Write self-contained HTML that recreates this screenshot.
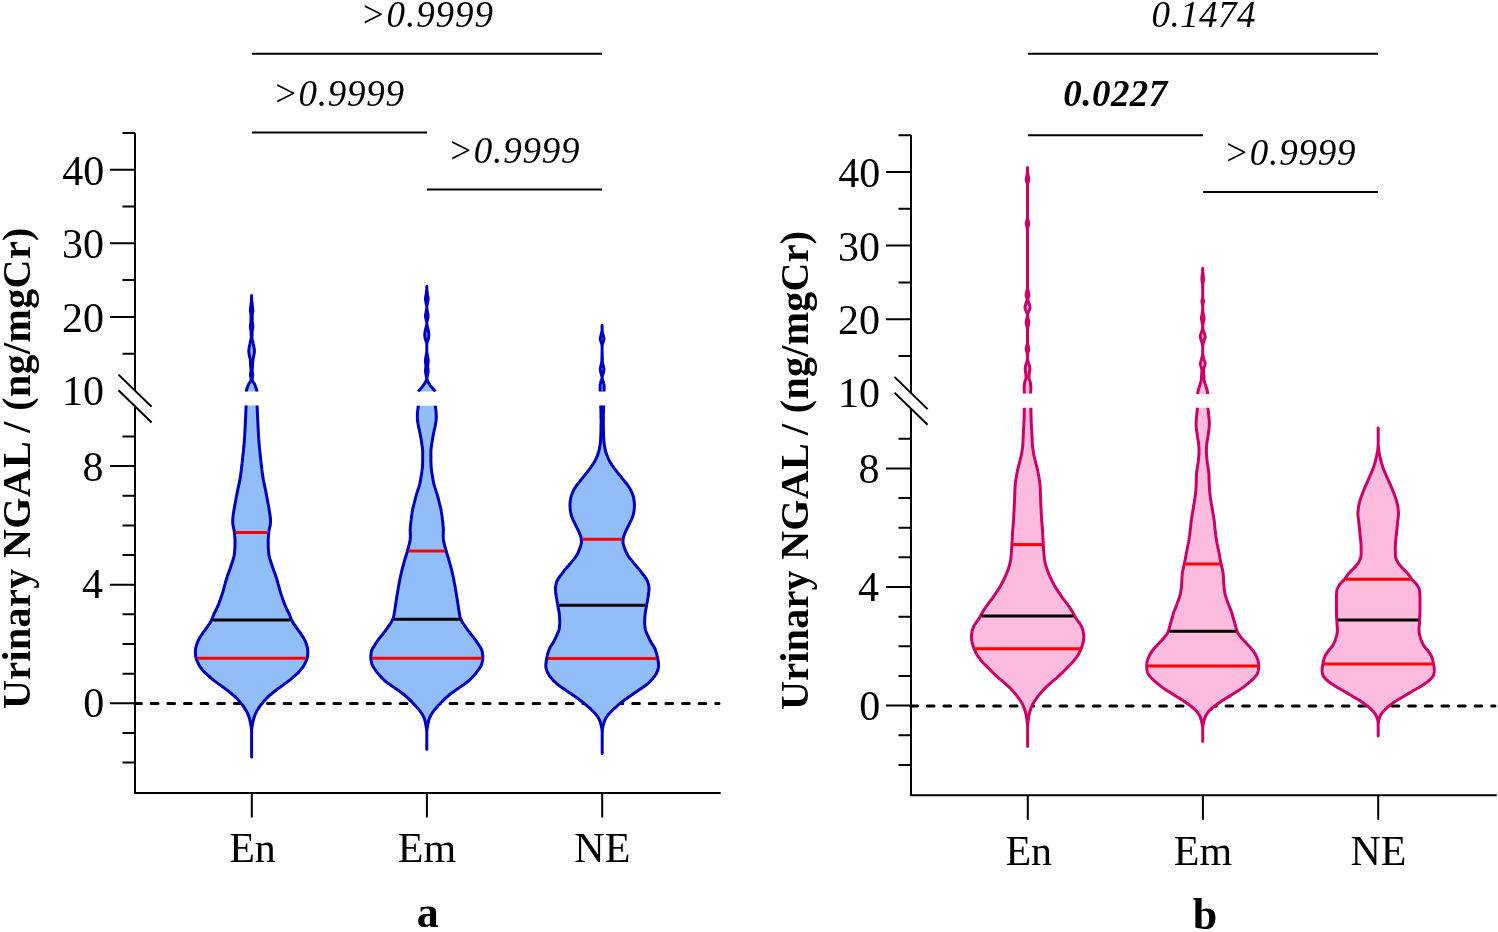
<!DOCTYPE html>
<html><head><meta charset="utf-8"><title>NGAL violin plots</title>
<style>
html,body{margin:0;padding:0;background:#fff;}
body{width:1498px;height:932px;overflow:hidden;}
svg{display:block;will-change:transform;}
text{font-family:"Liberation Serif",serif;fill:#000;}
.tl{font-size:42px;}
.xl{font-size:42px;}
.pv{font-size:37px;font-style:italic;}
.b{font-weight:bold;}
.pl{font-size:44px;font-weight:bold;}
.yt{font-size:40px;font-weight:bold;}
</style></head>
<body>
<svg width="1498" height="932" viewBox="0 0 1498 932">
<rect width="1498" height="932" fill="#fff"/>
<path d="M135,132.9 L135,390.8 M135,406.5 L135,792.9 L720.7,792.9" stroke="#000" stroke-width="2" stroke-linejoin="round" fill="none"/>
<path d="M118.5,374.6 L151.6,406.8 M118.5,390.3 L151.6,422.5" stroke="#000" stroke-width="2" fill="none"/>
<path d="M110,316.9 L135,316.9 M110,243.3 L135,243.3 M110,169.7 L135,169.7 M122.5,353.7 L135,353.7 M122.5,280.1 L135,280.1 M122.5,206.5 L135,206.5 M122.5,132.9 L135,132.9 M110,703.3 L135,703.3 M110,584.7 L135,584.7 M110,466.1 L135,466.1 M122.5,762.6 L135,762.6 M122.5,732.95 L135,732.95 M122.5,673.65 L135,673.65 M122.5,644 L135,644 M122.5,614.35 L135,614.35 M122.5,555.05 L135,555.05 M122.5,525.4 L135,525.4 M122.5,495.75 L135,495.75 M122.5,436.45 L135,436.45" stroke="#000" stroke-width="2" fill="none"/>
<path d="M251.8,792.9 L251.8,817.5 M426.9,792.9 L426.9,817.5 M602.2,792.9 L602.2,817.5" stroke="#000" stroke-width="2" fill="none"/>
<path d="M134.7,703.6 L719,703.6" stroke="#000" stroke-width="3" stroke-dasharray="6.7 9.9" stroke-linecap="round" fill="none"/>
<path d="M911,135.2 L911,393.1 M911,408.8 L911,795.2 L1496.7,795.2" stroke="#000" stroke-width="2" stroke-linejoin="round" fill="none"/>
<path d="M894.5,376.9 L927.6,409.1 M894.5,392.6 L927.6,424.8" stroke="#000" stroke-width="2" fill="none"/>
<path d="M886,319.2 L911,319.2 M886,245.6 L911,245.6 M886,172 L911,172 M898.5,356 L911,356 M898.5,282.4 L911,282.4 M898.5,208.8 L911,208.8 M898.5,135.2 L911,135.2 M886,705.6 L911,705.6 M886,587 L911,587 M886,468.4 L911,468.4 M898.5,764.9 L911,764.9 M898.5,735.25 L911,735.25 M898.5,675.95 L911,675.95 M898.5,646.3 L911,646.3 M898.5,616.65 L911,616.65 M898.5,557.35 L911,557.35 M898.5,527.7 L911,527.7 M898.5,498.05 L911,498.05 M898.5,438.75 L911,438.75" stroke="#000" stroke-width="2" fill="none"/>
<path d="M1027.8,795.2 L1027.8,819.8 M1202.9,795.2 L1202.9,819.8 M1378.2,795.2 L1378.2,819.8" stroke="#000" stroke-width="2" fill="none"/>
<path d="M910.7,705.9 L1495,705.9" stroke="#000" stroke-width="3" stroke-dasharray="6.7 9.9" stroke-linecap="round" fill="none"/>
<path d="M246.1,405.6 C246.1,405.9 246,406.9 246,407.6 C246,408.3 246,408.9 245.9,409.6 C245.9,410.3 245.9,410.9 245.9,411.6 C245.8,412.3 245.8,412.9 245.8,413.6 C245.7,414.3 245.7,414.9 245.7,415.6 C245.7,416.3 245.6,416.9 245.6,417.6 C245.6,418.3 245.5,418.9 245.5,419.6 C245.5,420.3 245.4,421 245.4,421.6 C245.4,422.3 245.3,423 245.3,423.6 C245.3,424.3 245.2,425 245.2,425.6 C245.2,426.3 245.1,427 245.1,427.6 C245.1,428.3 245,429 245,429.6 C245,430.3 244.9,431 244.9,431.6 C244.9,432.3 244.8,433 244.8,433.6 C244.8,434.3 244.7,435 244.7,435.6 C244.6,436.3 244.6,437 244.6,437.6 C244.5,438.3 244.5,439 244.4,439.6 C244.4,440.3 244.3,441 244.3,441.6 C244.2,442.3 244.1,443 244.1,443.6 C244,444.3 244,445 243.9,445.6 C243.8,446.3 243.8,447 243.7,447.7 C243.6,448.3 243.6,449 243.5,449.7 C243.4,450.3 243.4,451 243.3,451.7 C243.2,452.3 243.1,453 243.1,453.7 C243,454.3 242.9,455 242.9,455.7 C242.8,456.3 242.7,457 242.7,457.7 C242.6,458.3 242.5,459 242.4,459.7 C242.4,460.3 242.3,461 242.2,461.7 C242.1,462.3 242.1,463 242,463.7 C241.9,464.3 241.8,465 241.8,465.7 C241.7,466.3 241.6,467 241.5,467.7 C241.5,468.3 241.4,469 241.3,469.7 C241.2,470.3 241.1,471 241.1,471.7 C241,472.3 240.9,473 240.8,473.7 C240.7,474.4 240.6,475 240.5,475.7 C240.4,476.4 240.3,477 240.2,477.7 C240.1,478.4 240,479 239.9,479.7 C239.8,480.4 239.6,481 239.5,481.7 C239.4,482.4 239.2,483 239.1,483.7 C238.9,484.4 238.8,485 238.6,485.7 C238.5,486.4 238.4,487 238.2,487.7 C238.1,488.4 237.9,489 237.8,489.7 C237.7,490.4 237.5,491 237.4,491.7 C237.3,492.4 237.1,493 237,493.7 C236.9,494.4 236.7,495 236.6,495.7 C236.5,496.4 236.3,497 236.2,497.7 C236.1,498.4 236,499 235.8,499.7 C235.7,500.4 235.6,501.1 235.5,501.7 C235.3,502.4 235.2,503.1 235.1,503.7 C235,504.4 234.8,505.1 234.7,505.7 C234.6,506.4 234.5,507.1 234.4,507.7 C234.2,508.4 234.1,509.1 234,509.7 C233.9,510.4 233.8,511.1 233.7,511.7 C233.6,512.4 233.5,513.1 233.4,513.7 C233.3,514.4 233.2,515.1 233.1,515.7 C233,516.4 232.9,517.1 232.9,517.7 C232.8,518.4 232.8,519.1 232.7,519.7 C232.7,520.4 232.7,521.1 232.7,521.7 C232.7,522.4 232.7,523.1 232.8,523.7 C232.9,524.4 233,525.1 233.1,525.7 C233.2,526.4 233.4,527.1 233.5,527.8 C233.7,528.4 233.8,529.1 234,529.8 C234.1,530.4 234.2,531.1 234.3,531.8 C234.4,532.4 234.5,533.1 234.5,533.8 C234.6,534.4 234.7,535.1 234.7,535.8 C234.8,536.4 234.8,537.1 234.9,537.8 C234.9,538.4 234.9,539.1 235,539.8 C235,540.4 235,541.1 235,541.8 C235,542.4 235,543.1 235,543.8 C235,544.4 235,545.1 235,545.8 C235,546.4 234.9,547.1 234.9,547.8 C234.8,548.4 234.8,549.1 234.8,549.8 C234.7,550.4 234.6,551.1 234.6,551.8 C234.5,552.4 234.5,553.1 234.4,553.8 C234.3,554.5 234.2,555.1 234.1,555.8 C233.9,556.5 233.8,557.1 233.6,557.8 C233.4,558.5 233.2,559.1 233,559.8 C232.8,560.5 232.6,561.1 232.4,561.8 C232.1,562.5 231.9,563.1 231.7,563.8 C231.5,564.5 231.2,565.1 231,565.8 C230.8,566.5 230.6,567.1 230.4,567.8 C230.2,568.5 229.9,569.1 229.7,569.8 C229.5,570.5 229.2,571.1 229,571.8 C228.7,572.5 228.5,573.1 228.2,573.8 C228,574.5 227.7,575.1 227.5,575.8 C227.3,576.5 227,577.1 226.8,577.8 C226.6,578.5 226.4,579.1 226.2,579.8 C226,580.5 225.8,581.1 225.6,581.8 C225.4,582.5 225.2,583.2 225.1,583.8 C224.9,584.5 224.7,585.2 224.5,585.8 C224.4,586.5 224.2,587.2 224,587.8 C223.9,588.5 223.7,589.2 223.5,589.8 C223.3,590.5 223.1,591.2 222.9,591.8 C222.7,592.5 222.5,593.2 222.3,593.8 C222.1,594.5 221.8,595.2 221.6,595.8 C221.4,596.5 221.1,597.2 220.9,597.8 C220.7,598.5 220.4,599.2 220.2,599.8 C219.9,600.5 219.7,601.2 219.4,601.8 C219.2,602.5 218.9,603.2 218.7,603.8 C218.4,604.5 218.2,605.2 217.9,605.8 C217.6,606.5 217.3,607.2 217,607.8 C216.7,608.5 216.4,609.2 216.1,609.9 C215.7,610.5 215.3,611.2 215,611.9 C214.7,612.5 214.3,613.2 214,613.9 C213.7,614.5 213.4,615.2 213.2,615.9 C212.9,616.5 212.7,617.2 212.5,617.9 C212.2,618.5 212,619.2 211.7,619.9 C211.4,620.5 211,621.2 210.6,621.9 C210.2,622.5 209.8,623.2 209.4,623.9 C209,624.5 208.5,625.2 208,625.9 C207.6,626.5 207.1,627.2 206.6,627.9 C206.1,628.5 205.6,629.2 205.2,629.9 C204.7,630.5 204.2,631.2 203.7,631.9 C203.3,632.5 202.8,633.2 202.3,633.9 C201.8,634.5 201.4,635.2 200.9,635.9 C200.5,636.6 200.1,637.2 199.7,637.9 C199.3,638.6 199,639.2 198.6,639.9 C198.3,640.6 197.9,641.2 197.6,641.9 C197.4,642.6 197.1,643.2 196.9,643.9 C196.7,644.6 196.5,645.2 196.3,645.9 C196.1,646.6 195.9,647.2 195.8,647.9 C195.6,648.6 195.5,649.2 195.5,649.9 C195.4,650.6 195.4,651.2 195.4,651.9 C195.4,652.6 195.4,653.2 195.4,653.9 C195.5,654.6 195.5,655.2 195.6,655.9 C195.7,656.6 195.9,657.2 196,657.9 C196.2,658.6 196.4,659.2 196.6,659.9 C196.9,660.6 197.2,661.2 197.5,661.9 C197.8,662.6 198.1,663.3 198.5,663.9 C198.8,664.6 199.1,665.3 199.6,665.9 C200,666.6 200.4,667.3 200.9,667.9 C201.4,668.6 201.9,669.3 202.5,669.9 C203,670.6 203.6,671.3 204.3,671.9 C204.9,672.6 205.6,673.3 206.4,673.9 C207.1,674.6 207.8,675.3 208.6,675.9 C209.3,676.6 210.1,677.3 210.8,677.9 C211.6,678.6 212.4,679.3 213.3,679.9 C214.1,680.6 215,681.3 215.8,681.9 C216.7,682.6 217.7,683.3 218.6,683.9 C219.5,684.6 220.5,685.3 221.4,685.9 C222.4,686.6 223.3,687.3 224.2,687.9 C225.1,688.6 226,689.3 226.9,690 C227.8,690.6 228.7,691.3 229.5,692 C230.3,692.6 231.1,693.3 231.9,694 C232.7,694.6 233.5,695.3 234.2,696 C234.9,696.6 235.6,697.3 236.3,698 C236.9,698.6 237.6,699.3 238.2,700 C238.8,700.6 239.4,701.3 239.9,702 C240.5,702.6 241,703.3 241.6,704 C242.1,704.6 242.6,705.3 243.1,706 C243.6,706.6 244.1,707.3 244.5,708 C245,708.6 245.4,709.3 245.8,710 C246.2,710.6 246.5,711.3 246.9,712 C247.2,712.6 247.6,713.3 247.9,714 C248.1,714.6 248.4,715.3 248.6,716 C248.8,716.7 249.1,717.3 249.3,718 C249.5,718.7 249.6,719.3 249.8,720 C250,720.7 250.1,721.3 250.3,722 C250.4,722.7 250.5,723.3 250.7,724 C250.8,724.7 250.9,725.3 251,726 C251.1,726.7 251.3,727.3 251.3,728 C251.4,728.7 251.6,729.7 251.6,730 L251.6,730 C251.6,729.7 251.8,728.7 251.9,728 C251.9,727.3 252.1,726.7 252.2,726 C252.3,725.3 252.4,724.7 252.5,724 C252.7,723.3 252.8,722.7 252.9,722 C253.1,721.3 253.2,720.7 253.4,720 C253.6,719.3 253.7,718.7 253.9,718 C254.1,717.3 254.4,716.7 254.6,716 C254.8,715.3 255.1,714.6 255.3,714 C255.6,713.3 256,712.6 256.3,712 C256.7,711.3 257,710.6 257.4,710 C257.8,709.3 258.2,708.6 258.7,708 C259.1,707.3 259.6,706.6 260.1,706 C260.6,705.3 261.1,704.6 261.6,704 C262.2,703.3 262.7,702.6 263.3,702 C263.8,701.3 264.4,700.6 265,700 C265.6,699.3 266.3,698.6 266.9,698 C267.6,697.3 268.3,696.6 269,696 C269.7,695.3 270.5,694.6 271.3,694 C272.1,693.3 272.9,692.6 273.7,692 C274.5,691.3 275.4,690.6 276.3,690 C277.2,689.3 278.1,688.6 279,687.9 C279.9,687.3 280.8,686.6 281.8,685.9 C282.7,685.3 283.7,684.6 284.6,683.9 C285.5,683.3 286.5,682.6 287.4,681.9 C288.2,681.3 289.1,680.6 289.9,679.9 C290.8,679.3 291.6,678.6 292.4,677.9 C293.1,677.3 293.9,676.6 294.6,675.9 C295.4,675.3 296.1,674.6 296.8,673.9 C297.6,673.3 298.3,672.6 298.9,671.9 C299.6,671.3 300.2,670.6 300.7,669.9 C301.3,669.3 301.8,668.6 302.3,667.9 C302.8,667.3 303.2,666.6 303.6,665.9 C304.1,665.3 304.4,664.6 304.7,663.9 C305.1,663.3 305.4,662.6 305.7,661.9 C306,661.2 306.3,660.6 306.6,659.9 C306.8,659.2 307,658.6 307.2,657.9 C307.3,657.2 307.5,656.6 307.6,655.9 C307.7,655.2 307.7,654.6 307.8,653.9 C307.8,653.2 307.8,652.6 307.8,651.9 C307.8,651.2 307.8,650.6 307.7,649.9 C307.7,649.2 307.6,648.6 307.4,647.9 C307.3,647.2 307.1,646.6 306.9,645.9 C306.7,645.2 306.5,644.6 306.3,643.9 C306.1,643.2 305.8,642.6 305.6,641.9 C305.3,641.2 304.9,640.6 304.6,639.9 C304.2,639.2 303.9,638.6 303.5,637.9 C303.1,637.2 302.7,636.6 302.3,635.9 C301.8,635.2 301.4,634.5 300.9,633.9 C300.4,633.2 299.9,632.5 299.5,631.9 C299,631.2 298.5,630.5 298,629.9 C297.6,629.2 297.1,628.5 296.6,627.9 C296.1,627.2 295.6,626.5 295.2,625.9 C294.7,625.2 294.2,624.5 293.8,623.9 C293.4,623.2 293,622.5 292.6,621.9 C292.2,621.2 291.8,620.5 291.5,619.9 C291.2,619.2 291,618.5 290.7,617.9 C290.5,617.2 290.3,616.5 290,615.9 C289.8,615.2 289.5,614.5 289.2,613.9 C288.9,613.2 288.5,612.5 288.2,611.9 C287.9,611.2 287.5,610.5 287.1,609.9 C286.8,609.2 286.5,608.5 286.2,607.8 C285.9,607.2 285.6,606.5 285.3,605.8 C285,605.2 284.8,604.5 284.5,603.8 C284.3,603.2 284,602.5 283.8,601.8 C283.5,601.2 283.3,600.5 283,599.8 C282.8,599.2 282.5,598.5 282.3,597.8 C282.1,597.2 281.8,596.5 281.6,595.8 C281.4,595.2 281.1,594.5 280.9,593.8 C280.7,593.2 280.5,592.5 280.3,591.8 C280.1,591.2 279.9,590.5 279.7,589.8 C279.5,589.2 279.3,588.5 279.2,587.8 C279,587.2 278.8,586.5 278.7,585.8 C278.5,585.2 278.3,584.5 278.1,583.8 C278,583.2 277.8,582.5 277.6,581.8 C277.4,581.1 277.2,580.5 277,579.8 C276.8,579.1 276.6,578.5 276.4,577.8 C276.2,577.1 275.9,576.5 275.7,575.8 C275.5,575.1 275.2,574.5 275,573.8 C274.7,573.1 274.5,572.5 274.2,571.8 C274,571.1 273.7,570.5 273.5,569.8 C273.3,569.1 273,568.5 272.8,567.8 C272.6,567.1 272.4,566.5 272.2,565.8 C272,565.1 271.7,564.5 271.5,563.8 C271.3,563.1 271.1,562.5 270.8,561.8 C270.6,561.1 270.4,560.5 270.2,559.8 C270,559.1 269.8,558.5 269.6,557.8 C269.4,557.1 269.3,556.5 269.1,555.8 C269,555.1 268.9,554.5 268.8,553.8 C268.7,553.1 268.7,552.4 268.6,551.8 C268.6,551.1 268.5,550.4 268.4,549.8 C268.4,549.1 268.4,548.4 268.3,547.8 C268.3,547.1 268.2,546.4 268.2,545.8 C268.2,545.1 268.2,544.4 268.2,543.8 C268.2,543.1 268.2,542.4 268.2,541.8 C268.2,541.1 268.2,540.4 268.2,539.8 C268.3,539.1 268.3,538.4 268.3,537.8 C268.4,537.1 268.4,536.4 268.5,535.8 C268.5,535.1 268.6,534.4 268.7,533.8 C268.7,533.1 268.8,532.4 268.9,531.8 C269,531.1 269.1,530.4 269.2,529.8 C269.4,529.1 269.5,528.4 269.7,527.8 C269.8,527.1 270,526.4 270.1,525.7 C270.2,525.1 270.3,524.4 270.4,523.7 C270.5,523.1 270.5,522.4 270.5,521.7 C270.5,521.1 270.5,520.4 270.5,519.7 C270.4,519.1 270.4,518.4 270.3,517.7 C270.3,517.1 270.2,516.4 270.1,515.7 C270,515.1 269.9,514.4 269.8,513.7 C269.7,513.1 269.6,512.4 269.5,511.7 C269.4,511.1 269.3,510.4 269.2,509.7 C269.1,509.1 269,508.4 268.8,507.7 C268.7,507.1 268.6,506.4 268.5,505.7 C268.4,505.1 268.2,504.4 268.1,503.7 C268,503.1 267.9,502.4 267.7,501.7 C267.6,501.1 267.5,500.4 267.4,499.7 C267.2,499 267.1,498.4 267,497.7 C266.9,497 266.7,496.4 266.6,495.7 C266.5,495 266.3,494.4 266.2,493.7 C266.1,493 265.9,492.4 265.8,491.7 C265.7,491 265.5,490.4 265.4,489.7 C265.3,489 265.1,488.4 265,487.7 C264.8,487 264.7,486.4 264.6,485.7 C264.4,485 264.3,484.4 264.1,483.7 C264,483 263.8,482.4 263.7,481.7 C263.6,481 263.4,480.4 263.3,479.7 C263.2,479 263.1,478.4 263,477.7 C262.9,477 262.8,476.4 262.7,475.7 C262.6,475 262.5,474.4 262.4,473.7 C262.3,473 262.2,472.3 262.1,471.7 C262.1,471 262,470.3 261.9,469.7 C261.8,469 261.7,468.3 261.7,467.7 C261.6,467 261.5,466.3 261.4,465.7 C261.4,465 261.3,464.3 261.2,463.7 C261.1,463 261.1,462.3 261,461.7 C260.9,461 260.8,460.3 260.8,459.7 C260.7,459 260.6,458.3 260.5,457.7 C260.5,457 260.4,456.3 260.3,455.7 C260.3,455 260.2,454.3 260.1,453.7 C260.1,453 260,452.3 259.9,451.7 C259.8,451 259.8,450.3 259.7,449.7 C259.6,449 259.6,448.3 259.5,447.7 C259.4,447 259.4,446.3 259.3,445.6 C259.2,445 259.2,444.3 259.1,443.6 C259.1,443 259,442.3 258.9,441.6 C258.9,441 258.8,440.3 258.8,439.6 C258.7,439 258.7,438.3 258.6,437.6 C258.6,437 258.6,436.3 258.5,435.6 C258.5,435 258.4,434.3 258.4,433.6 C258.4,433 258.3,432.3 258.3,431.6 C258.3,431 258.2,430.3 258.2,429.6 C258.2,429 258.1,428.3 258.1,427.6 C258.1,427 258,426.3 258,425.6 C258,425 257.9,424.3 257.9,423.6 C257.9,423 257.8,422.3 257.8,421.6 C257.8,421 257.7,420.3 257.7,419.6 C257.7,418.9 257.6,418.3 257.6,417.6 C257.6,416.9 257.5,416.3 257.5,415.6 C257.5,414.9 257.5,414.3 257.4,413.6 C257.4,412.9 257.4,412.3 257.3,411.6 C257.3,410.9 257.3,410.3 257.3,409.6 C257.2,408.9 257.2,408.3 257.2,407.6 C257.2,406.9 257.1,405.9 257.1,405.6" fill="#91bef8" stroke="#0000c0" stroke-width="3" stroke-linejoin="round" stroke-linecap="butt"/>
<line x1="235.6" y1="532.4" x2="267.6" y2="532.4" stroke="#ff0000" stroke-width="3"/>
<line x1="212.85" y1="619.9" x2="290.35" y2="619.9" stroke="#000" stroke-width="3"/>
<line x1="197.3" y1="658.2" x2="305.9" y2="658.2" stroke="#ff0000" stroke-width="3"/>
<path d="M251.6,730 L251.6,757.1" fill="none" stroke="#0000c0" stroke-width="3" stroke-linecap="round"/>
<path d="M246.2,391.5 C246.2,391.3 246.3,390.8 246.4,390.5 C246.5,390.2 246.6,389.8 246.7,389.5 C246.8,389.2 246.9,388.8 247,388.5 C247.1,388.2 247.2,387.8 247.3,387.5 C247.5,387.2 247.6,386.8 247.7,386.5 C247.8,386.2 248,385.8 248.1,385.5 C248.2,385.2 248.3,384.8 248.5,384.5 C248.6,384.2 248.8,383.8 249,383.5 C249.2,383.2 249.5,382.8 249.7,382.5 C249.9,382.2 250.2,381.8 250.4,381.5 C250.6,381.2 250.8,380.8 250.9,380.5 C251,380.2 251.1,379.8 251.1,379.5 C251.1,379.2 251.1,378.8 251,378.5 C251,378.2 250.9,377.8 250.9,377.5 C250.8,377.2 250.7,376.8 250.6,376.5 C250.6,376.2 250.5,375.8 250.5,375.5 C250.4,375.2 250.4,374.9 250.5,374.5 C250.5,374.2 250.5,373.9 250.6,373.5 C250.6,373.2 250.7,372.9 250.7,372.5 C250.8,372.2 250.9,371.9 250.9,371.5 C250.9,371.2 251,370.9 251,370.5 C251,370.2 251,369.9 251,369.5 C251,369.2 251,368.9 250.9,368.5 C250.9,368.2 250.9,367.9 250.8,367.5 C250.8,367.2 250.8,366.9 250.7,366.5 C250.7,366.2 250.7,365.9 250.7,365.5 C250.6,365.2 250.6,364.9 250.6,364.5 C250.6,364.2 250.5,363.9 250.5,363.5 C250.5,363.2 250.5,362.9 250.5,362.5 C250.4,362.2 250.4,361.9 250.4,361.5 C250.4,361.2 250.3,360.9 250.3,360.5 C250.3,360.2 250.3,359.9 250.2,359.5 C250.2,359.2 250.1,358.9 250.1,358.5 C250,358.2 249.9,357.9 249.8,357.5 C249.8,357.2 249.7,356.9 249.6,356.5 C249.5,356.2 249.4,355.9 249.4,355.5 C249.3,355.2 249.3,354.9 249.2,354.5 C249.2,354.2 249.1,353.9 249,353.5 C249,353.2 248.9,352.9 248.9,352.5 C248.9,352.2 248.8,351.9 248.8,351.5 C248.8,351.2 248.8,350.9 248.8,350.5 C248.8,350.2 248.8,349.9 248.9,349.5 C248.9,349.2 248.9,348.9 249,348.5 C249.1,348.2 249.1,347.9 249.2,347.5 C249.2,347.2 249.3,346.9 249.4,346.5 C249.5,346.2 249.5,345.9 249.6,345.5 C249.7,345.2 249.8,344.9 249.8,344.5 C249.9,344.2 249.9,343.9 250,343.6 C250.1,343.2 250.1,342.9 250.2,342.6 C250.2,342.2 250.3,341.9 250.3,341.6 C250.4,341.2 250.4,340.9 250.5,340.6 C250.6,340.2 250.7,339.9 250.8,339.6 C250.9,339.2 251.1,338.9 251.2,338.6 C251.3,338.2 251.3,337.9 251.3,337.6 C251.3,337.2 251.3,336.9 251.3,336.6 C251.2,336.2 251.2,335.9 251.2,335.6 C251.2,335.2 251.2,334.9 251.2,334.6 C251.1,334.2 251.1,333.9 251.1,333.6 C251.1,333.2 251.1,332.9 251.1,332.6 C251,332.2 251,331.9 251,331.6 C251,331.2 250.9,330.9 250.9,330.6 C250.9,330.2 250.8,329.9 250.8,329.6 C250.7,329.2 250.6,328.9 250.6,328.6 C250.5,328.2 250.5,327.9 250.4,327.6 C250.4,327.2 250.4,326.9 250.4,326.6 C250.3,326.2 250.4,325.9 250.4,325.6 C250.4,325.2 250.5,324.9 250.5,324.6 C250.6,324.2 250.7,323.9 250.7,323.6 C250.8,323.2 250.9,322.9 250.9,322.6 C251,322.2 251,321.9 251,321.6 C251,321.2 251,320.9 251,320.6 C251,320.2 251,319.9 251,319.6 C251,319.2 251,318.9 251,318.6 C251,318.2 251,317.9 251,317.6 C251,317.2 251,316.9 251,316.6 C251,316.2 251,315.9 251,315.6 C250.9,315.2 250.9,314.9 250.9,314.6 C250.9,314.2 250.9,313.9 250.9,313.6 C250.8,313.2 250.7,312.9 250.7,312.6 C250.6,312.2 250.5,311.9 250.4,311.6 C250.4,311.3 250.4,310.9 250.4,310.6 C250.3,310.3 250.4,309.9 250.4,309.6 C250.4,309.3 250.5,308.9 250.5,308.6 C250.5,308.3 250.6,307.9 250.6,307.6 C250.7,307.3 250.7,306.9 250.8,306.6 C250.8,306.3 250.8,305.9 250.9,305.6 C250.9,305.3 251,304.9 251,304.6 C251,304.3 251.1,303.9 251.1,303.6 C251.2,303.3 251.2,302.9 251.2,302.6 C251.3,302.3 251.3,301.9 251.4,301.6 C251.4,301.3 251.4,300.9 251.5,300.6 C251.5,300.3 251.5,299.9 251.5,299.6 C251.5,299.3 251.6,298.9 251.6,298.6 C251.6,298.3 251.6,297.9 251.6,297.6 C251.6,297.3 251.6,296.9 251.6,296.6 C251.6,296.3 251.6,295.8 251.6,295.6 L251.6,295.6 C251.6,295.8 251.6,296.3 251.6,296.6 C251.6,296.9 251.6,297.3 251.6,297.6 C251.6,297.9 251.6,298.3 251.6,298.6 C251.6,298.9 251.7,299.3 251.7,299.6 C251.7,299.9 251.7,300.3 251.7,300.6 C251.8,300.9 251.8,301.3 251.8,301.6 C251.9,301.9 251.9,302.3 252,302.6 C252,302.9 252,303.3 252.1,303.6 C252.1,303.9 252.2,304.3 252.2,304.6 C252.2,304.9 252.3,305.3 252.3,305.6 C252.4,305.9 252.4,306.3 252.4,306.6 C252.5,306.9 252.5,307.3 252.6,307.6 C252.6,307.9 252.7,308.3 252.7,308.6 C252.7,308.9 252.8,309.3 252.8,309.6 C252.8,309.9 252.9,310.3 252.8,310.6 C252.8,310.9 252.8,311.3 252.8,311.6 C252.7,311.9 252.6,312.2 252.5,312.6 C252.5,312.9 252.4,313.2 252.3,313.6 C252.3,313.9 252.3,314.2 252.3,314.6 C252.3,314.9 252.3,315.2 252.2,315.6 C252.2,315.9 252.2,316.2 252.2,316.6 C252.2,316.9 252.2,317.2 252.2,317.6 C252.2,317.9 252.2,318.2 252.2,318.6 C252.2,318.9 252.2,319.2 252.2,319.6 C252.2,319.9 252.2,320.2 252.2,320.6 C252.2,320.9 252.2,321.2 252.2,321.6 C252.2,321.9 252.2,322.2 252.3,322.6 C252.3,322.9 252.4,323.2 252.5,323.6 C252.5,323.9 252.6,324.2 252.7,324.6 C252.7,324.9 252.8,325.2 252.8,325.6 C252.8,325.9 252.9,326.2 252.8,326.6 C252.8,326.9 252.8,327.2 252.8,327.6 C252.7,327.9 252.7,328.2 252.6,328.6 C252.6,328.9 252.5,329.2 252.4,329.6 C252.4,329.9 252.3,330.2 252.3,330.6 C252.3,330.9 252.2,331.2 252.2,331.6 C252.2,331.9 252.2,332.2 252.1,332.6 C252.1,332.9 252.1,333.2 252.1,333.6 C252.1,333.9 252.1,334.2 252,334.6 C252,334.9 252,335.2 252,335.6 C252,335.9 252,336.2 251.9,336.6 C251.9,336.9 251.9,337.2 251.9,337.6 C251.9,337.9 251.9,338.2 252,338.6 C252.1,338.9 252.3,339.2 252.4,339.6 C252.5,339.9 252.6,340.2 252.7,340.6 C252.8,340.9 252.8,341.2 252.9,341.6 C252.9,341.9 253,342.2 253,342.6 C253.1,342.9 253.1,343.2 253.2,343.6 C253.3,343.9 253.3,344.2 253.4,344.5 C253.4,344.9 253.5,345.2 253.6,345.5 C253.7,345.9 253.7,346.2 253.8,346.5 C253.9,346.9 254,347.2 254,347.5 C254.1,347.9 254.1,348.2 254.2,348.5 C254.3,348.9 254.3,349.2 254.3,349.5 C254.4,349.9 254.4,350.2 254.4,350.5 C254.4,350.9 254.4,351.2 254.4,351.5 C254.4,351.9 254.3,352.2 254.3,352.5 C254.3,352.9 254.2,353.2 254.2,353.5 C254.1,353.9 254,354.2 254,354.5 C253.9,354.9 253.9,355.2 253.8,355.5 C253.8,355.9 253.7,356.2 253.6,356.5 C253.5,356.9 253.4,357.2 253.4,357.5 C253.3,357.9 253.2,358.2 253.1,358.5 C253.1,358.9 253,359.2 253,359.5 C252.9,359.9 252.9,360.2 252.9,360.5 C252.9,360.9 252.8,361.2 252.8,361.5 C252.8,361.9 252.8,362.2 252.7,362.5 C252.7,362.9 252.7,363.2 252.7,363.5 C252.7,363.9 252.6,364.2 252.6,364.5 C252.6,364.9 252.6,365.2 252.5,365.5 C252.5,365.9 252.5,366.2 252.5,366.5 C252.4,366.9 252.4,367.2 252.4,367.5 C252.3,367.9 252.3,368.2 252.3,368.5 C252.2,368.9 252.2,369.2 252.2,369.5 C252.2,369.9 252.2,370.2 252.2,370.5 C252.2,370.9 252.3,371.2 252.3,371.5 C252.3,371.9 252.4,372.2 252.5,372.5 C252.5,372.9 252.6,373.2 252.6,373.5 C252.7,373.9 252.7,374.2 252.7,374.5 C252.8,374.9 252.8,375.2 252.7,375.5 C252.7,375.8 252.6,376.2 252.6,376.5 C252.5,376.8 252.4,377.2 252.3,377.5 C252.3,377.8 252.2,378.2 252.2,378.5 C252.1,378.8 252.1,379.2 252.1,379.5 C252.1,379.8 252.2,380.2 252.3,380.5 C252.4,380.8 252.6,381.2 252.8,381.5 C253,381.8 253.3,382.2 253.5,382.5 C253.7,382.8 254,383.2 254.2,383.5 C254.4,383.8 254.6,384.2 254.7,384.5 C254.9,384.8 255,385.2 255.1,385.5 C255.2,385.8 255.4,386.2 255.5,386.5 C255.6,386.8 255.7,387.2 255.9,387.5 C256,387.8 256.1,388.2 256.2,388.5 C256.3,388.8 256.4,389.2 256.5,389.5 C256.6,389.8 256.7,390.2 256.8,390.5 C256.9,390.8 257,391.3 257,391.5" fill="#91bef8" stroke="#0000c0" stroke-width="3" stroke-linejoin="round" stroke-linecap="butt"/>
<path d="M418.3,405.8 C418.3,406.1 418.1,407.1 418,407.8 C417.9,408.5 417.9,409.1 417.8,409.8 C417.7,410.5 417.6,411.1 417.6,411.8 C417.5,412.5 417.5,413.1 417.4,413.8 C417.4,414.5 417.4,415.1 417.4,415.8 C417.4,416.5 417.3,417.1 417.4,417.8 C417.4,418.5 417.4,419.1 417.4,419.8 C417.5,420.5 417.6,421.1 417.7,421.8 C417.8,422.5 417.9,423.1 418,423.8 C418.1,424.5 418.3,425.1 418.4,425.8 C418.5,426.5 418.7,427.1 418.8,427.8 C419,428.5 419.1,429.1 419.3,429.8 C419.4,430.5 419.6,431.1 419.7,431.8 C419.9,432.5 420,433.2 420.1,433.8 C420.3,434.5 420.4,435.2 420.5,435.8 C420.6,436.5 420.7,437.2 420.9,437.8 C421,438.5 421.1,439.2 421.2,439.8 C421.3,440.5 421.4,441.2 421.5,441.8 C421.6,442.5 421.7,443.2 421.8,443.8 C421.9,444.5 422,445.2 422.1,445.8 C422.2,446.5 422.3,447.2 422.4,447.8 C422.5,448.5 422.6,449.2 422.6,449.8 C422.7,450.5 422.7,451.2 422.7,451.8 C422.7,452.5 422.7,453.2 422.7,453.8 C422.7,454.5 422.7,455.2 422.7,455.8 C422.7,456.5 422.7,457.2 422.7,457.8 C422.7,458.5 422.7,459.2 422.7,459.8 C422.7,460.5 422.7,461.2 422.7,461.8 C422.6,462.5 422.6,463.2 422.6,463.8 C422.6,464.5 422.6,465.2 422.5,465.8 C422.5,466.5 422.4,467.2 422.4,467.8 C422.3,468.5 422.2,469.2 422.1,469.8 C422,470.5 422,471.2 421.9,471.8 C421.8,472.5 421.7,473.2 421.6,473.8 C421.5,474.5 421.4,475.2 421.2,475.8 C421.1,476.5 421,477.2 420.9,477.8 C420.8,478.5 420.7,479.2 420.6,479.8 C420.5,480.5 420.3,481.2 420.2,481.8 C420.1,482.5 419.9,483.2 419.8,483.8 C419.6,484.5 419.4,485.2 419.2,485.8 C419,486.5 418.8,487.2 418.6,487.9 C418.3,488.5 418.1,489.2 417.9,489.9 C417.7,490.5 417.5,491.2 417.3,491.9 C417.1,492.5 416.8,493.2 416.6,493.9 C416.4,494.5 416.2,495.2 416,495.9 C415.8,496.5 415.6,497.2 415.5,497.9 C415.3,498.5 415.1,499.2 415,499.9 C414.8,500.5 414.7,501.2 414.5,501.9 C414.3,502.5 414.2,503.2 414,503.9 C413.8,504.5 413.6,505.2 413.5,505.9 C413.3,506.5 413.1,507.2 413,507.9 C412.8,508.5 412.7,509.2 412.5,509.9 C412.4,510.5 412.3,511.2 412.2,511.9 C412.1,512.5 412,513.2 411.9,513.9 C411.8,514.5 411.7,515.2 411.6,515.9 C411.5,516.5 411.4,517.2 411.4,517.9 C411.3,518.5 411.2,519.2 411.1,519.9 C411,520.5 410.9,521.2 410.9,521.9 C410.8,522.5 410.7,523.2 410.7,523.9 C410.6,524.5 410.5,525.2 410.5,525.9 C410.4,526.5 410.3,527.2 410.3,527.9 C410.3,528.5 410.2,529.2 410.2,529.9 C410.2,530.5 410.2,531.2 410.3,531.9 C410.3,532.5 410.3,533.2 410.3,533.9 C410.4,534.5 410.4,535.2 410.4,535.9 C410.4,536.5 410.4,537.2 410.3,537.9 C410.3,538.5 410.2,539.2 410.1,539.9 C410,540.5 409.9,541.2 409.8,541.9 C409.6,542.6 409.5,543.2 409.3,543.9 C409.2,544.6 409,545.2 408.8,545.9 C408.6,546.6 408.4,547.2 408.3,547.9 C408.1,548.6 407.9,549.2 407.7,549.9 C407.5,550.6 407.3,551.2 407.2,551.9 C407,552.6 406.8,553.2 406.6,553.9 C406.4,554.6 406.2,555.2 406,555.9 C405.8,556.6 405.5,557.2 405.3,557.9 C405.1,558.6 404.9,559.2 404.8,559.9 C404.6,560.6 404.4,561.2 404.2,561.9 C404,562.6 403.8,563.2 403.6,563.9 C403.4,564.6 403.3,565.2 403.1,565.9 C402.9,566.6 402.7,567.2 402.5,567.9 C402.4,568.6 402.2,569.2 402,569.9 C401.9,570.6 401.7,571.2 401.5,571.9 C401.4,572.6 401.2,573.2 401.1,573.9 C400.9,574.6 400.8,575.2 400.6,575.9 C400.5,576.6 400.4,577.2 400.2,577.9 C400.1,578.6 399.9,579.2 399.8,579.9 C399.7,580.6 399.6,581.2 399.4,581.9 C399.3,582.6 399.2,583.2 399,583.9 C398.9,584.6 398.8,585.2 398.7,585.9 C398.6,586.6 398.4,587.2 398.3,587.9 C398.2,588.6 398.1,589.2 398,589.9 C397.9,590.6 397.7,591.2 397.6,591.9 C397.5,592.6 397.4,593.2 397.3,593.9 C397.2,594.6 397.1,595.3 397,595.9 C396.8,596.6 396.7,597.3 396.6,597.9 C396.5,598.6 396.4,599.3 396.3,599.9 C396.2,600.6 396.1,601.3 396,601.9 C395.9,602.6 395.8,603.3 395.7,603.9 C395.6,604.6 395.5,605.3 395.4,605.9 C395.3,606.6 395.2,607.3 395.1,607.9 C395,608.6 394.9,609.3 394.8,609.9 C394.7,610.6 394.6,611.3 394.5,611.9 C394.3,612.6 394.3,613.3 394.1,613.9 C394,614.6 394,615.3 393.8,615.9 C393.7,616.6 393.5,617.3 393.3,617.9 C393.1,618.6 392.7,619.3 392.4,619.9 C392.1,620.6 391.8,621.3 391.4,621.9 C391,622.6 390.6,623.3 390.2,623.9 C389.7,624.6 389.2,625.3 388.7,625.9 C388.2,626.6 387.8,627.3 387.3,627.9 C386.9,628.6 386.4,629.3 385.9,629.9 C385.5,630.6 385,631.3 384.5,631.9 C384,632.6 383.5,633.3 382.9,633.9 C382.4,634.6 381.8,635.3 381.3,635.9 C380.8,636.6 380.2,637.3 379.7,637.9 C379.2,638.6 378.7,639.3 378.2,639.9 C377.7,640.6 377.2,641.3 376.8,641.9 C376.3,642.6 375.8,643.3 375.4,643.9 C375,644.6 374.6,645.3 374.2,645.9 C373.8,646.6 373.3,647.3 372.9,647.9 C372.6,648.6 372.2,649.3 371.9,650 C371.6,650.6 371.5,651.3 371.3,652 C371.2,652.6 371.1,653.3 371,654 C370.9,654.6 370.8,655.3 370.8,656 C370.8,656.6 370.8,657.3 370.8,658 C370.8,658.6 370.9,659.3 371,660 C371.1,660.6 371.2,661.3 371.4,662 C371.5,662.6 371.7,663.3 371.9,664 C372.1,664.6 372.3,665.3 372.7,666 C373,666.6 373.5,667.3 373.9,668 C374.3,668.6 374.8,669.3 375.3,670 C375.8,670.6 376.3,671.3 376.8,672 C377.3,672.6 377.8,673.3 378.4,674 C379,674.6 379.5,675.3 380.1,676 C380.7,676.6 381.3,677.3 382,678 C382.6,678.6 383.3,679.3 384,680 C384.7,680.6 385.5,681.3 386.3,682 C387.2,682.6 388.1,683.3 389,684 C390,684.6 391,685.3 391.9,686 C392.9,686.6 393.8,687.3 394.8,688 C395.7,688.6 396.7,689.3 397.7,690 C398.6,690.6 399.6,691.3 400.5,692 C401.4,692.6 402.2,693.3 403.1,694 C403.9,694.6 404.8,695.3 405.6,696 C406.4,696.6 407.1,697.3 407.9,698 C408.6,698.6 409.3,699.3 409.9,700 C410.6,700.6 411.3,701.3 411.9,702 C412.5,702.6 413.1,703.3 413.8,704 C414.4,704.7 415.1,705.3 415.7,706 C416.3,706.7 416.9,707.3 417.5,708 C418.1,708.7 418.7,709.3 419.2,710 C419.7,710.7 420.2,711.3 420.7,712 C421.2,712.7 421.7,713.3 422.1,714 C422.5,714.7 422.8,715.3 423.1,716 C423.5,716.7 423.8,717.3 424.1,718 C424.3,718.7 424.6,719.3 424.8,720 C425,720.7 425.1,721.3 425.3,722 C425.4,722.7 425.5,723.3 425.7,724 C425.8,724.7 425.9,725.3 426,726 C426.1,726.7 426.3,727.3 426.4,728 C426.5,728.7 426.7,729.7 426.8,730 L426.8,730 C426.9,729.7 427.1,728.7 427.2,728 C427.3,727.3 427.5,726.7 427.6,726 C427.7,725.3 427.8,724.7 427.9,724 C428.1,723.3 428.2,722.7 428.3,722 C428.5,721.3 428.6,720.7 428.8,720 C429,719.3 429.3,718.7 429.5,718 C429.8,717.3 430.1,716.7 430.5,716 C430.8,715.3 431.1,714.7 431.5,714 C431.9,713.3 432.4,712.7 432.9,712 C433.4,711.3 433.9,710.7 434.4,710 C434.9,709.3 435.5,708.7 436.1,708 C436.7,707.3 437.3,706.7 437.9,706 C438.5,705.3 439.2,704.7 439.8,704 C440.5,703.3 441.1,702.6 441.7,702 C442.3,701.3 443,700.6 443.7,700 C444.3,699.3 445,698.6 445.7,698 C446.5,697.3 447.2,696.6 448,696 C448.8,695.3 449.7,694.6 450.5,694 C451.4,693.3 452.2,692.6 453.1,692 C454,691.3 455,690.6 455.9,690 C456.9,689.3 457.9,688.6 458.8,688 C459.8,687.3 460.7,686.6 461.7,686 C462.6,685.3 463.6,684.6 464.6,684 C465.5,683.3 466.4,682.6 467.3,682 C468.1,681.3 468.9,680.6 469.6,680 C470.3,679.3 471,678.6 471.6,678 C472.3,677.3 472.9,676.6 473.5,676 C474.1,675.3 474.6,674.6 475.2,674 C475.8,673.3 476.3,672.6 476.8,672 C477.3,671.3 477.8,670.6 478.3,670 C478.8,669.3 479.3,668.6 479.7,668 C480.1,667.3 480.6,666.6 480.9,666 C481.3,665.3 481.5,664.6 481.7,664 C481.9,663.3 482.1,662.6 482.2,662 C482.4,661.3 482.5,660.6 482.6,660 C482.7,659.3 482.8,658.6 482.8,658 C482.8,657.3 482.8,656.6 482.8,656 C482.8,655.3 482.7,654.6 482.6,654 C482.5,653.3 482.4,652.6 482.3,652 C482.1,651.3 482,650.6 481.7,650 C481.4,649.3 481,648.6 480.7,647.9 C480.3,647.3 479.8,646.6 479.4,645.9 C479,645.3 478.6,644.6 478.2,643.9 C477.8,643.3 477.3,642.6 476.8,641.9 C476.4,641.3 475.9,640.6 475.4,639.9 C474.9,639.3 474.4,638.6 473.9,637.9 C473.4,637.3 472.8,636.6 472.3,635.9 C471.8,635.3 471.2,634.6 470.7,633.9 C470.1,633.3 469.6,632.6 469.1,631.9 C468.6,631.3 468.1,630.6 467.7,629.9 C467.2,629.3 466.7,628.6 466.3,627.9 C465.8,627.3 465.4,626.6 464.9,625.9 C464.4,625.3 463.9,624.6 463.4,623.9 C463,623.3 462.6,622.6 462.2,621.9 C461.8,621.3 461.5,620.6 461.2,619.9 C460.9,619.3 460.5,618.6 460.3,617.9 C460.1,617.3 459.9,616.6 459.8,615.9 C459.6,615.3 459.6,614.6 459.5,613.9 C459.3,613.3 459.3,612.6 459.1,611.9 C459,611.3 458.9,610.6 458.8,609.9 C458.7,609.3 458.6,608.6 458.5,607.9 C458.4,607.3 458.3,606.6 458.2,605.9 C458.1,605.3 458,604.6 457.9,603.9 C457.8,603.3 457.7,602.6 457.6,601.9 C457.5,601.3 457.4,600.6 457.3,599.9 C457.2,599.3 457.1,598.6 457,597.9 C456.9,597.3 456.8,596.6 456.6,595.9 C456.5,595.3 456.4,594.6 456.3,593.9 C456.2,593.2 456.1,592.6 456,591.9 C455.9,591.2 455.7,590.6 455.6,589.9 C455.5,589.2 455.4,588.6 455.3,587.9 C455.2,587.2 455,586.6 454.9,585.9 C454.8,585.2 454.7,584.6 454.6,583.9 C454.4,583.2 454.3,582.6 454.2,581.9 C454,581.2 453.9,580.6 453.8,579.9 C453.7,579.2 453.5,578.6 453.4,577.9 C453.2,577.2 453.1,576.6 453,575.9 C452.8,575.2 452.7,574.6 452.5,573.9 C452.4,573.2 452.2,572.6 452.1,571.9 C451.9,571.2 451.7,570.6 451.6,569.9 C451.4,569.2 451.2,568.6 451.1,567.9 C450.9,567.2 450.7,566.6 450.5,565.9 C450.3,565.2 450.2,564.6 450,563.9 C449.8,563.2 449.6,562.6 449.4,561.9 C449.2,561.2 449,560.6 448.8,559.9 C448.7,559.2 448.5,558.6 448.3,557.9 C448.1,557.2 447.8,556.6 447.6,555.9 C447.4,555.2 447.2,554.6 447,553.9 C446.8,553.2 446.6,552.6 446.4,551.9 C446.3,551.2 446.1,550.6 445.9,549.9 C445.7,549.2 445.5,548.6 445.3,547.9 C445.2,547.2 445,546.6 444.8,545.9 C444.6,545.2 444.4,544.6 444.3,543.9 C444.1,543.2 444,542.6 443.8,541.9 C443.7,541.2 443.6,540.5 443.5,539.9 C443.4,539.2 443.3,538.5 443.3,537.9 C443.2,537.2 443.2,536.5 443.2,535.9 C443.2,535.2 443.2,534.5 443.3,533.9 C443.3,533.2 443.3,532.5 443.3,531.9 C443.4,531.2 443.4,530.5 443.4,529.9 C443.4,529.2 443.3,528.5 443.3,527.9 C443.3,527.2 443.2,526.5 443.1,525.9 C443.1,525.2 443,524.5 442.9,523.9 C442.9,523.2 442.8,522.5 442.7,521.9 C442.7,521.2 442.6,520.5 442.5,519.9 C442.4,519.2 442.3,518.5 442.2,517.9 C442.2,517.2 442.1,516.5 442,515.9 C441.9,515.2 441.8,514.5 441.7,513.9 C441.6,513.2 441.5,512.5 441.4,511.9 C441.3,511.2 441.2,510.5 441.1,509.9 C440.9,509.2 440.8,508.5 440.6,507.9 C440.5,507.2 440.3,506.5 440.1,505.9 C440,505.2 439.8,504.5 439.6,503.9 C439.4,503.2 439.3,502.5 439.1,501.9 C438.9,501.2 438.8,500.5 438.6,499.9 C438.5,499.2 438.3,498.5 438.1,497.9 C438,497.2 437.8,496.5 437.6,495.9 C437.4,495.2 437.2,494.5 437,493.9 C436.8,493.2 436.5,492.5 436.3,491.9 C436.1,491.2 435.9,490.5 435.7,489.9 C435.5,489.2 435.3,488.5 435,487.9 C434.8,487.2 434.6,486.5 434.4,485.8 C434.2,485.2 434,484.5 433.8,483.8 C433.7,483.2 433.5,482.5 433.4,481.8 C433.3,481.2 433.1,480.5 433,479.8 C432.9,479.2 432.8,478.5 432.7,477.8 C432.6,477.2 432.5,476.5 432.4,475.8 C432.2,475.2 432.1,474.5 432,473.8 C431.9,473.2 431.8,472.5 431.7,471.8 C431.6,471.2 431.6,470.5 431.5,469.8 C431.4,469.2 431.3,468.5 431.2,467.8 C431.2,467.2 431.1,466.5 431.1,465.8 C431,465.2 431,464.5 431,463.8 C431,463.2 431,462.5 430.9,461.8 C430.9,461.2 430.9,460.5 430.9,459.8 C430.9,459.2 430.9,458.5 430.9,457.8 C430.9,457.2 430.9,456.5 430.9,455.8 C430.9,455.2 430.9,454.5 430.9,453.8 C430.9,453.2 430.9,452.5 430.9,451.8 C430.9,451.2 430.9,450.5 431,449.8 C431,449.2 431.1,448.5 431.2,447.8 C431.3,447.2 431.4,446.5 431.5,445.8 C431.6,445.2 431.7,444.5 431.8,443.8 C431.9,443.2 432,442.5 432.1,441.8 C432.2,441.2 432.3,440.5 432.4,439.8 C432.5,439.2 432.6,438.5 432.7,437.8 C432.9,437.2 433,436.5 433.1,435.8 C433.2,435.2 433.3,434.5 433.5,433.8 C433.6,433.2 433.7,432.5 433.9,431.8 C434,431.1 434.2,430.5 434.3,429.8 C434.5,429.1 434.6,428.5 434.8,427.8 C434.9,427.1 435.1,426.5 435.2,425.8 C435.3,425.1 435.5,424.5 435.6,423.8 C435.7,423.1 435.8,422.5 435.9,421.8 C436,421.1 436.1,420.5 436.2,419.8 C436.2,419.1 436.2,418.5 436.2,417.8 C436.3,417.1 436.2,416.5 436.2,415.8 C436.2,415.1 436.2,414.5 436.2,413.8 C436.1,413.1 436.1,412.5 436,411.8 C436,411.1 435.9,410.5 435.8,409.8 C435.7,409.1 435.7,408.5 435.6,407.8 C435.5,407.1 435.3,406.1 435.3,405.8" fill="#91bef8" stroke="#0000c0" stroke-width="3" stroke-linejoin="round" stroke-linecap="butt"/>
<line x1="408.6" y1="551" x2="445" y2="551" stroke="#ff0000" stroke-width="3"/>
<line x1="393.9" y1="619.3" x2="459.7" y2="619.3" stroke="#000" stroke-width="3"/>
<line x1="372.01" y1="658.2" x2="481.59" y2="658.2" stroke="#ff0000" stroke-width="3"/>
<path d="M426.8,730 L426.8,749.2" fill="none" stroke="#0000c0" stroke-width="3" stroke-linecap="round"/>
<path d="M418.3,391.5 C418.4,391.3 418.8,390.8 419,390.5 C419.3,390.2 419.6,389.8 419.9,389.5 C420.2,389.2 420.5,388.8 420.8,388.5 C421.1,388.2 421.4,387.8 421.6,387.5 C421.9,387.2 422.2,386.8 422.5,386.5 C422.7,386.2 423,385.8 423.3,385.5 C423.5,385.1 423.7,384.8 424,384.5 C424.2,384.1 424.4,383.8 424.6,383.5 C424.8,383.1 425,382.8 425.2,382.5 C425.4,382.1 425.7,381.8 425.8,381.5 C426,381.1 426.2,380.8 426.3,380.5 C426.4,380.1 426.5,379.8 426.6,379.5 C426.6,379.1 426.6,378.8 426.6,378.5 C426.6,378.1 426.5,377.8 426.5,377.5 C426.4,377.1 426.4,376.8 426.3,376.5 C426.3,376.1 426.2,375.8 426.2,375.5 C426.1,375.1 426.1,374.8 426,374.5 C425.9,374.1 425.8,373.8 425.8,373.4 C425.7,373.1 425.6,372.8 425.6,372.4 C425.5,372.1 425.5,371.8 425.5,371.4 C425.4,371.1 425.5,370.8 425.5,370.4 C425.5,370.1 425.5,369.8 425.6,369.4 C425.6,369.1 425.7,368.8 425.7,368.4 C425.8,368.1 425.8,367.8 425.8,367.4 C425.9,367.1 425.9,366.8 425.9,366.4 C425.9,366.1 425.9,365.8 425.9,365.4 C425.8,365.1 425.8,364.8 425.8,364.4 C425.7,364.1 425.7,363.8 425.7,363.4 C425.6,363.1 425.6,362.8 425.5,362.4 C425.5,362.1 425.5,361.7 425.5,361.4 C425.4,361.1 425.4,360.7 425.4,360.4 C425.4,360.1 425.5,359.7 425.5,359.4 C425.5,359.1 425.6,358.7 425.6,358.4 C425.7,358.1 425.8,357.7 425.8,357.4 C425.9,357.1 426,356.7 426,356.4 C426.1,356.1 426.1,355.7 426.2,355.4 C426.3,355.1 426.3,354.7 426.4,354.4 C426.4,354.1 426.5,353.7 426.6,353.4 C426.6,353.1 426.7,352.7 426.7,352.4 C426.8,352.1 426.8,351.7 426.8,351.4 C426.8,351.1 426.8,350.7 426.8,350.4 C426.8,350 426.8,349.7 426.8,349.4 C426.8,349 426.8,348.7 426.8,348.4 C426.8,348 426.8,347.7 426.8,347.4 C426.8,347 426.8,346.7 426.8,346.4 C426.8,346 426.8,345.7 426.8,345.4 C426.8,345 426.8,344.7 426.8,344.4 C426.8,344 426.7,343.7 426.7,343.4 C426.6,343 426.5,342.7 426.4,342.4 C426.4,342 426.2,341.7 426.1,341.4 C426,341 425.9,340.7 425.8,340.4 C425.7,340 425.5,339.7 425.4,339.4 C425.3,339 425.3,338.7 425.2,338.3 C425.1,338 425.1,337.7 425,337.3 C425,337 424.9,336.7 424.9,336.3 C424.9,336 424.8,335.7 424.8,335.3 C424.8,335 424.8,334.7 424.8,334.3 C424.8,334 424.8,333.7 424.9,333.3 C424.9,333 424.9,332.7 425,332.3 C425,332 425.1,331.7 425.2,331.3 C425.2,331 425.3,330.7 425.4,330.3 C425.5,330 425.5,329.7 425.6,329.3 C425.7,329 425.8,328.7 425.8,328.3 C425.9,328 426,327.7 426.1,327.3 C426.1,327 426.2,326.6 426.3,326.3 C426.4,326 426.5,325.6 426.6,325.3 C426.6,325 426.7,324.6 426.8,324.3 C426.8,324 426.8,323.6 426.8,323.3 C426.8,323 426.7,322.6 426.7,322.3 C426.6,322 426.5,321.6 426.5,321.3 C426.4,321 426.3,320.6 426.3,320.3 C426.2,320 426.1,319.6 426.1,319.3 C426,319 425.9,318.6 425.8,318.3 C425.7,318 425.7,317.6 425.6,317.3 C425.6,317 425.5,316.6 425.5,316.3 C425.5,316 425.5,315.6 425.5,315.3 C425.6,314.9 425.6,314.6 425.7,314.3 C425.7,313.9 425.8,313.6 425.9,313.3 C425.9,312.9 426,312.6 426.1,312.3 C426.1,311.9 426.2,311.6 426.2,311.3 C426.3,310.9 426.4,310.6 426.4,310.3 C426.5,309.9 426.6,309.6 426.6,309.3 C426.7,308.9 426.7,308.6 426.8,308.3 C426.8,307.9 426.8,307.6 426.8,307.3 C426.8,306.9 426.8,306.6 426.7,306.3 C426.7,305.9 426.6,305.6 426.5,305.3 C426.5,304.9 426.4,304.6 426.3,304.3 C426.3,303.9 426.2,303.6 426.1,303.2 C426.1,302.9 426,302.6 426,302.2 C425.9,301.9 425.8,301.6 425.8,301.2 C425.7,300.9 425.7,300.6 425.6,300.2 C425.6,299.9 425.5,299.6 425.5,299.2 C425.5,298.9 425.5,298.6 425.5,298.2 C425.5,297.9 425.6,297.6 425.6,297.2 C425.7,296.9 425.7,296.6 425.8,296.2 C425.9,295.9 425.9,295.6 426,295.2 C426.1,294.9 426.1,294.6 426.2,294.2 C426.2,293.9 426.3,293.6 426.3,293.2 C426.3,292.9 426.4,292.6 426.4,292.2 C426.5,291.9 426.5,291.5 426.6,291.2 C426.6,290.9 426.6,290.5 426.7,290.2 C426.7,289.9 426.7,289.5 426.8,289.2 C426.8,288.9 426.8,288.5 426.8,288.2 C426.8,287.9 426.8,287.5 426.8,287.2 C426.8,286.9 426.8,286.4 426.8,286.2 L426.8,286.2 C426.8,286.4 426.8,286.9 426.8,287.2 C426.8,287.5 426.8,287.9 426.8,288.2 C426.8,288.5 426.8,288.9 426.8,289.2 C426.9,289.5 426.9,289.9 426.9,290.2 C427,290.5 427,290.9 427,291.2 C427.1,291.5 427.1,291.9 427.2,292.2 C427.2,292.6 427.3,292.9 427.3,293.2 C427.3,293.6 427.4,293.9 427.4,294.2 C427.5,294.6 427.5,294.9 427.6,295.2 C427.7,295.6 427.7,295.9 427.8,296.2 C427.9,296.6 427.9,296.9 428,297.2 C428,297.6 428.1,297.9 428.1,298.2 C428.1,298.6 428.1,298.9 428.1,299.2 C428.1,299.6 428,299.9 428,300.2 C427.9,300.6 427.9,300.9 427.8,301.2 C427.8,301.6 427.7,301.9 427.6,302.2 C427.6,302.6 427.5,302.9 427.5,303.2 C427.4,303.6 427.3,303.9 427.3,304.3 C427.2,304.6 427.1,304.9 427.1,305.3 C427,305.6 426.9,305.9 426.9,306.3 C426.8,306.6 426.8,306.9 426.8,307.3 C426.8,307.6 426.8,307.9 426.8,308.3 C426.9,308.6 426.9,308.9 427,309.3 C427,309.6 427.1,309.9 427.2,310.3 C427.2,310.6 427.3,310.9 427.4,311.3 C427.4,311.6 427.5,311.9 427.5,312.3 C427.6,312.6 427.7,312.9 427.7,313.3 C427.8,313.6 427.9,313.9 427.9,314.3 C428,314.6 428,314.9 428.1,315.3 C428.1,315.6 428.1,316 428.1,316.3 C428.1,316.6 428,317 428,317.3 C427.9,317.6 427.9,318 427.8,318.3 C427.7,318.6 427.6,319 427.5,319.3 C427.5,319.6 427.4,320 427.3,320.3 C427.3,320.6 427.2,321 427.1,321.3 C427.1,321.6 427,322 426.9,322.3 C426.9,322.6 426.8,323 426.8,323.3 C426.8,323.6 426.8,324 426.8,324.3 C426.9,324.6 427,325 427,325.3 C427.1,325.6 427.2,326 427.3,326.3 C427.4,326.6 427.5,327 427.5,327.3 C427.6,327.7 427.7,328 427.8,328.3 C427.8,328.7 427.9,329 428,329.3 C428.1,329.7 428.1,330 428.2,330.3 C428.3,330.7 428.4,331 428.4,331.3 C428.5,331.7 428.6,332 428.6,332.3 C428.7,332.7 428.7,333 428.7,333.3 C428.8,333.7 428.8,334 428.8,334.3 C428.8,334.7 428.8,335 428.8,335.3 C428.8,335.7 428.7,336 428.7,336.3 C428.7,336.7 428.6,337 428.6,337.3 C428.5,337.7 428.5,338 428.4,338.3 C428.3,338.7 428.3,339 428.2,339.4 C428.1,339.7 427.9,340 427.8,340.4 C427.7,340.7 427.6,341 427.5,341.4 C427.4,341.7 427.2,342 427.2,342.4 C427.1,342.7 427,343 426.9,343.4 C426.9,343.7 426.8,344 426.8,344.4 C426.8,344.7 426.8,345 426.8,345.4 C426.8,345.7 426.8,346 426.8,346.4 C426.8,346.7 426.8,347 426.8,347.4 C426.8,347.7 426.8,348 426.8,348.4 C426.8,348.7 426.8,349 426.8,349.4 C426.8,349.7 426.8,350 426.8,350.4 C426.8,350.7 426.8,351.1 426.8,351.4 C426.8,351.7 426.8,352.1 426.9,352.4 C426.9,352.7 427,353.1 427,353.4 C427.1,353.7 427.2,354.1 427.2,354.4 C427.3,354.7 427.3,355.1 427.4,355.4 C427.5,355.7 427.5,356.1 427.6,356.4 C427.6,356.7 427.7,357.1 427.8,357.4 C427.8,357.7 427.9,358.1 428,358.4 C428,358.7 428.1,359.1 428.1,359.4 C428.1,359.7 428.2,360.1 428.2,360.4 C428.2,360.7 428.2,361.1 428.1,361.4 C428.1,361.7 428.1,362.1 428.1,362.4 C428,362.8 428,363.1 427.9,363.4 C427.9,363.8 427.9,364.1 427.8,364.4 C427.8,364.8 427.8,365.1 427.7,365.4 C427.7,365.8 427.7,366.1 427.7,366.4 C427.7,366.8 427.7,367.1 427.8,367.4 C427.8,367.8 427.8,368.1 427.9,368.4 C427.9,368.8 428,369.1 428,369.4 C428.1,369.8 428.1,370.1 428.1,370.4 C428.1,370.8 428.2,371.1 428.1,371.4 C428.1,371.8 428.1,372.1 428,372.4 C428,372.8 427.9,373.1 427.8,373.4 C427.8,373.8 427.7,374.1 427.6,374.5 C427.5,374.8 427.5,375.1 427.4,375.5 C427.4,375.8 427.3,376.1 427.3,376.5 C427.2,376.8 427.2,377.1 427.1,377.5 C427.1,377.8 427,378.1 427,378.5 C427,378.8 427,379.1 427,379.5 C427.1,379.8 427.2,380.1 427.3,380.5 C427.4,380.8 427.6,381.1 427.8,381.5 C427.9,381.8 428.2,382.1 428.4,382.5 C428.6,382.8 428.8,383.1 429,383.5 C429.2,383.8 429.4,384.1 429.6,384.5 C429.9,384.8 430.1,385.1 430.3,385.5 C430.6,385.8 430.9,386.2 431.1,386.5 C431.4,386.8 431.7,387.2 432,387.5 C432.2,387.8 432.5,388.2 432.8,388.5 C433.1,388.8 433.4,389.2 433.7,389.5 C434,389.8 434.3,390.2 434.6,390.5 C434.8,390.8 435.2,391.3 435.3,391.5" fill="#91bef8" stroke="#0000c0" stroke-width="3" stroke-linejoin="round" stroke-linecap="butt"/>
<path d="M600.7,405.6 C600.7,405.9 600.8,406.9 600.8,407.6 C600.8,408.3 600.8,408.9 600.9,409.6 C600.9,410.3 600.9,410.9 600.9,411.6 C600.9,412.3 601,412.9 601,413.6 C601,414.3 601,414.9 601,415.6 C601,416.3 601,416.9 601,417.6 C601,418.3 601.1,418.9 601.1,419.6 C601.1,420.2 601.1,420.9 601.1,421.6 C601.1,422.2 601.1,422.9 601.1,423.6 C601.1,424.2 601.1,424.9 601,425.6 C601,426.2 601,426.9 601,427.6 C601,428.2 601,428.9 601,429.6 C601,430.2 600.9,430.9 600.9,431.6 C600.9,432.2 600.9,432.9 600.9,433.6 C600.8,434.2 600.8,434.9 600.8,435.6 C600.8,436.2 600.7,436.9 600.7,437.6 C600.7,438.2 600.7,438.9 600.6,439.6 C600.6,440.2 600.5,440.9 600.5,441.6 C600.4,442.2 600.3,442.9 600.3,443.6 C600.2,444.2 600.1,444.9 600,445.6 C599.8,446.2 599.7,446.9 599.6,447.5 C599.5,448.2 599.4,448.9 599.2,449.5 C599.1,450.2 598.9,450.9 598.7,451.5 C598.5,452.2 598.3,452.9 598.1,453.5 C597.9,454.2 597.7,454.9 597.4,455.5 C597.2,456.2 596.9,456.9 596.6,457.5 C596.3,458.2 596,458.9 595.7,459.5 C595.4,460.2 595,460.9 594.6,461.5 C594.2,462.2 593.8,462.9 593.4,463.5 C593,464.2 592.5,464.9 592.1,465.5 C591.6,466.2 591.2,466.9 590.7,467.5 C590.2,468.2 589.7,468.9 589.2,469.5 C588.7,470.2 588.1,470.9 587.6,471.5 C587.1,472.2 586.6,472.9 586.1,473.5 C585.5,474.2 585,474.8 584.5,475.5 C583.9,476.2 583.4,476.8 582.9,477.5 C582.3,478.2 581.8,478.8 581.3,479.5 C580.7,480.2 580.1,480.8 579.6,481.5 C579.1,482.2 578.5,482.8 578,483.5 C577.5,484.2 577,484.8 576.5,485.5 C576.1,486.2 575.6,486.8 575.2,487.5 C574.8,488.2 574.3,488.8 574,489.5 C573.6,490.2 573.3,490.8 573,491.5 C572.7,492.2 572.4,492.8 572.2,493.5 C571.9,494.2 571.7,494.8 571.4,495.5 C571.2,496.2 571,496.8 570.9,497.5 C570.7,498.2 570.7,498.8 570.5,499.5 C570.4,500.2 570.3,500.8 570.2,501.5 C570.2,502.1 570.1,502.8 570,503.5 C570,504.1 570,504.8 570,505.5 C570,506.1 570,506.8 570.1,507.5 C570.1,508.1 570.2,508.8 570.2,509.5 C570.3,510.1 570.4,510.8 570.5,511.5 C570.6,512.1 570.7,512.8 570.9,513.5 C571,514.1 571.2,514.8 571.4,515.5 C571.6,516.1 571.8,516.8 572.1,517.5 C572.3,518.1 572.6,518.8 572.9,519.5 C573.1,520.1 573.5,520.8 573.8,521.5 C574.1,522.1 574.5,522.8 574.8,523.5 C575.1,524.1 575.4,524.8 575.8,525.5 C576.1,526.1 576.4,526.8 576.8,527.5 C577.1,528.1 577.4,528.8 577.8,529.4 C578.1,530.1 578.4,530.8 578.7,531.4 C579,532.1 579.3,532.8 579.6,533.4 C579.8,534.1 580.1,534.8 580.3,535.4 C580.6,536.1 580.8,536.8 580.9,537.4 C581.1,538.1 581.3,538.8 581.3,539.4 C581.4,540.1 581.4,540.8 581.4,541.4 C581.4,542.1 581.4,542.8 581.3,543.4 C581.1,544.1 581,544.8 580.8,545.4 C580.6,546.1 580.4,546.8 580.1,547.4 C579.9,548.1 579.7,548.8 579.4,549.4 C579.2,550.1 578.9,550.8 578.6,551.4 C578.3,552.1 578,552.8 577.7,553.4 C577.3,554.1 577,554.8 576.5,555.4 C576.1,556.1 575.7,556.7 575.2,557.4 C574.7,558.1 574.2,558.7 573.7,559.4 C573.1,560.1 572.6,560.7 572,561.4 C571.5,562.1 570.9,562.7 570.4,563.4 C569.8,564.1 569.2,564.7 568.7,565.4 C568.1,566.1 567.5,566.7 566.9,567.4 C566.4,568.1 565.8,568.7 565.3,569.4 C564.7,570.1 564.2,570.7 563.6,571.4 C563.1,572.1 562.6,572.7 562.1,573.4 C561.5,574.1 561.1,574.7 560.6,575.4 C560.1,576.1 559.6,576.7 559.2,577.4 C558.7,578.1 558.2,578.7 557.8,579.4 C557.4,580.1 557.1,580.7 556.8,581.4 C556.6,582 556.4,582.7 556.2,583.4 C556,584 555.8,584.7 555.7,585.4 C555.6,586 555.5,586.7 555.4,587.4 C555.4,588 555.4,588.7 555.4,589.4 C555.5,590 555.5,590.7 555.6,591.4 C555.7,592 555.8,592.7 555.8,593.4 C555.9,594 556,594.7 556.1,595.4 C556.2,596 556.3,596.7 556.4,597.4 C556.5,598 556.7,598.7 556.8,599.4 C556.9,600 557,600.7 557.1,601.4 C557.2,602 557.4,602.7 557.5,603.4 C557.6,604 557.7,604.7 557.8,605.4 C557.9,606 558,606.7 558.2,607.4 C558.3,608 558.4,608.7 558.5,609.3 C558.6,610 558.8,610.7 558.9,611.3 C559,612 559.1,612.7 559.2,613.3 C559.3,614 559.3,614.7 559.4,615.3 C559.5,616 559.5,616.7 559.6,617.3 C559.6,618 559.6,618.7 559.6,619.3 C559.7,620 559.7,620.7 559.7,621.3 C559.7,622 559.7,622.7 559.7,623.3 C559.7,624 559.6,624.7 559.6,625.3 C559.5,626 559.5,626.7 559.4,627.3 C559.3,628 559.2,628.7 559.1,629.3 C558.9,630 558.7,630.7 558.5,631.3 C558.2,632 557.9,632.7 557.6,633.3 C557.3,634 557,634.7 556.7,635.3 C556.4,636 556.2,636.6 555.9,637.3 C555.5,638 555.2,638.6 554.9,639.3 C554.6,640 554.2,640.6 553.9,641.3 C553.5,642 553.2,642.6 552.8,643.3 C552.4,644 551.9,644.6 551.4,645.3 C551,646 550.6,646.6 550.2,647.3 C549.8,648 549.5,648.6 549.2,649.3 C549,650 548.7,650.6 548.5,651.3 C548.3,652 548.1,652.6 547.9,653.3 C547.7,654 547.5,654.6 547.4,655.3 C547.2,656 547.1,656.6 546.9,657.3 C546.8,658 546.7,658.6 546.6,659.3 C546.5,660 546.3,660.6 546.2,661.3 C546.1,662 546,662.6 546,663.3 C545.9,663.9 545.8,664.6 545.8,665.3 C545.8,665.9 545.8,666.6 545.9,667.3 C546,667.9 546.2,668.6 546.4,669.3 C546.6,669.9 546.8,670.6 547.1,671.3 C547.3,671.9 547.7,672.6 548,673.3 C548.4,673.9 548.8,674.6 549.2,675.3 C549.6,675.9 550.1,676.6 550.6,677.3 C551.2,677.9 551.8,678.6 552.3,679.3 C552.9,679.9 553.5,680.6 554.2,681.3 C554.9,681.9 555.6,682.6 556.4,683.3 C557.1,683.9 557.9,684.6 558.7,685.3 C559.6,685.9 560.5,686.6 561.4,687.3 C562.3,687.9 563.3,688.6 564.3,689.3 C565.3,689.9 566.3,690.6 567.2,691.2 C568.2,691.9 569.3,692.6 570.3,693.2 C571.3,693.9 572.3,694.6 573.2,695.2 C574.2,695.9 575.2,696.6 576.1,697.2 C577,697.9 578,698.6 578.9,699.2 C579.8,699.9 580.7,700.6 581.5,701.2 C582.4,701.9 583.2,702.6 584,703.2 C584.8,703.9 585.6,704.6 586.4,705.2 C587.1,705.9 587.9,706.6 588.7,707.2 C589.4,707.9 590.2,708.6 590.9,709.2 C591.6,709.9 592.3,710.6 592.9,711.2 C593.6,711.9 594.3,712.6 594.9,713.2 C595.5,713.9 596.1,714.6 596.6,715.2 C597.1,715.9 597.5,716.6 598,717.2 C598.4,717.9 598.8,718.5 599.1,719.2 C599.5,719.9 599.7,720.5 600,721.2 C600.2,721.9 600.4,722.5 600.6,723.2 C600.8,723.9 601,724.5 601.1,725.2 C601.3,725.9 601.4,726.5 601.5,727.2 C601.7,727.9 601.8,728.5 601.9,729.2 C602,729.9 602.2,730.9 602.2,731.2 L602.2,731.2 C602.2,730.9 602.4,729.9 602.5,729.2 C602.6,728.5 602.7,727.9 602.9,727.2 C603,726.5 603.1,725.9 603.3,725.2 C603.4,724.5 603.6,723.9 603.8,723.2 C604,722.5 604.2,721.9 604.4,721.2 C604.7,720.5 604.9,719.9 605.3,719.2 C605.6,718.5 606,717.9 606.4,717.2 C606.9,716.6 607.3,715.9 607.8,715.2 C608.3,714.6 608.9,713.9 609.5,713.2 C610.1,712.6 610.8,711.9 611.5,711.2 C612.1,710.6 612.8,709.9 613.5,709.2 C614.2,708.6 615,707.9 615.7,707.2 C616.5,706.6 617.3,705.9 618,705.2 C618.8,704.6 619.6,703.9 620.4,703.2 C621.2,702.6 622,701.9 622.9,701.2 C623.7,700.6 624.6,699.9 625.5,699.2 C626.4,698.6 627.4,697.9 628.3,697.2 C629.2,696.6 630.2,695.9 631.2,695.2 C632.1,694.6 633.1,693.9 634.1,693.2 C635.1,692.6 636.2,691.9 637.2,691.2 C638.1,690.6 639.1,689.9 640.1,689.3 C641.1,688.6 642.1,687.9 643,687.3 C643.9,686.6 644.8,685.9 645.7,685.3 C646.5,684.6 647.3,683.9 648,683.3 C648.8,682.6 649.5,681.9 650.2,681.3 C650.9,680.6 651.5,679.9 652.1,679.3 C652.6,678.6 653.2,677.9 653.8,677.3 C654.3,676.6 654.8,675.9 655.2,675.3 C655.6,674.6 656,673.9 656.4,673.3 C656.7,672.6 657.1,671.9 657.3,671.3 C657.6,670.6 657.8,669.9 658,669.3 C658.2,668.6 658.4,667.9 658.5,667.3 C658.6,666.6 658.6,665.9 658.6,665.3 C658.6,664.6 658.5,663.9 658.4,663.3 C658.4,662.6 658.3,662 658.2,661.3 C658.1,660.6 657.9,660 657.8,659.3 C657.7,658.6 657.6,658 657.5,657.3 C657.3,656.6 657.2,656 657,655.3 C656.9,654.6 656.7,654 656.5,653.3 C656.3,652.6 656.1,652 655.9,651.3 C655.7,650.6 655.4,650 655.2,649.3 C654.9,648.6 654.6,648 654.2,647.3 C653.8,646.6 653.4,646 653,645.3 C652.5,644.6 652,644 651.6,643.3 C651.2,642.6 650.9,642 650.5,641.3 C650.2,640.6 649.8,640 649.5,639.3 C649.2,638.6 648.9,638 648.5,637.3 C648.2,636.6 648,636 647.7,635.3 C647.4,634.7 647.1,634 646.8,633.3 C646.5,632.7 646.2,632 645.9,631.3 C645.7,630.7 645.5,630 645.3,629.3 C645.2,628.7 645.1,628 645,627.3 C644.9,626.7 644.9,626 644.8,625.3 C644.8,624.7 644.7,624 644.7,623.3 C644.7,622.7 644.7,622 644.7,621.3 C644.7,620.7 644.7,620 644.8,619.3 C644.8,618.7 644.8,618 644.8,617.3 C644.9,616.7 644.9,616 645,615.3 C645.1,614.7 645.1,614 645.2,613.3 C645.3,612.7 645.4,612 645.5,611.3 C645.6,610.7 645.8,610 645.9,609.3 C646,608.7 646.1,608 646.2,607.4 C646.4,606.7 646.5,606 646.6,605.4 C646.7,604.7 646.8,604 646.9,603.4 C647,602.7 647.2,602 647.3,601.4 C647.4,600.7 647.5,600 647.6,599.4 C647.7,598.7 647.9,598 648,597.4 C648.1,596.7 648.2,596 648.3,595.4 C648.4,594.7 648.5,594 648.6,593.4 C648.6,592.7 648.7,592 648.8,591.4 C648.9,590.7 648.9,590 649,589.4 C649,588.7 649,588 649,587.4 C648.9,586.7 648.8,586 648.7,585.4 C648.6,584.7 648.4,584 648.2,583.4 C648,582.7 647.8,582 647.6,581.4 C647.3,580.7 647,580.1 646.6,579.4 C646.2,578.7 645.7,578.1 645.2,577.4 C644.8,576.7 644.3,576.1 643.8,575.4 C643.3,574.7 642.9,574.1 642.3,573.4 C641.8,572.7 641.3,572.1 640.8,571.4 C640.2,570.7 639.7,570.1 639.1,569.4 C638.6,568.7 638,568.1 637.5,567.4 C636.9,566.7 636.3,566.1 635.7,565.4 C635.2,564.7 634.6,564.1 634,563.4 C633.5,562.7 632.9,562.1 632.4,561.4 C631.8,560.7 631.3,560.1 630.7,559.4 C630.2,558.7 629.7,558.1 629.2,557.4 C628.7,556.7 628.3,556.1 627.9,555.4 C627.4,554.8 627.1,554.1 626.7,553.4 C626.4,552.8 626.1,552.1 625.8,551.4 C625.5,550.8 625.2,550.1 625,549.4 C624.7,548.8 624.5,548.1 624.3,547.4 C624,546.8 623.8,546.1 623.6,545.4 C623.4,544.8 623.3,544.1 623.1,543.4 C623,542.8 623,542.1 623,541.4 C623,540.8 623,540.1 623.1,539.4 C623.1,538.8 623.3,538.1 623.5,537.4 C623.6,536.8 623.8,536.1 624.1,535.4 C624.3,534.8 624.6,534.1 624.8,533.4 C625.1,532.8 625.4,532.1 625.7,531.4 C626,530.8 626.3,530.1 626.6,529.4 C627,528.8 627.3,528.1 627.6,527.5 C628,526.8 628.3,526.1 628.6,525.5 C629,524.8 629.3,524.1 629.6,523.5 C629.9,522.8 630.3,522.1 630.6,521.5 C630.9,520.8 631.3,520.1 631.5,519.5 C631.8,518.8 632.1,518.1 632.3,517.5 C632.6,516.8 632.8,516.1 633,515.5 C633.2,514.8 633.4,514.1 633.5,513.5 C633.7,512.8 633.8,512.1 633.9,511.5 C634,510.8 634.1,510.1 634.2,509.5 C634.2,508.8 634.3,508.1 634.3,507.5 C634.4,506.8 634.4,506.1 634.4,505.5 C634.4,504.8 634.4,504.1 634.4,503.5 C634.3,502.8 634.2,502.1 634.2,501.5 C634.1,500.8 634,500.2 633.9,499.5 C633.7,498.8 633.7,498.2 633.5,497.5 C633.4,496.8 633.2,496.2 633,495.5 C632.7,494.8 632.5,494.2 632.2,493.5 C632,492.8 631.7,492.2 631.4,491.5 C631.1,490.8 630.8,490.2 630.4,489.5 C630.1,488.8 629.6,488.2 629.2,487.5 C628.8,486.8 628.3,486.2 627.9,485.5 C627.4,484.8 626.9,484.2 626.4,483.5 C625.9,482.8 625.3,482.2 624.8,481.5 C624.3,480.8 623.7,480.2 623.1,479.5 C622.6,478.8 622.1,478.2 621.5,477.5 C621,476.8 620.5,476.2 619.9,475.5 C619.4,474.8 618.9,474.2 618.3,473.5 C617.8,472.9 617.3,472.2 616.8,471.5 C616.3,470.9 615.7,470.2 615.2,469.5 C614.7,468.9 614.2,468.2 613.7,467.5 C613.2,466.9 612.8,466.2 612.3,465.5 C611.9,464.9 611.4,464.2 611,463.5 C610.6,462.9 610.2,462.2 609.8,461.5 C609.4,460.9 609,460.2 608.7,459.5 C608.4,458.9 608.1,458.2 607.8,457.5 C607.5,456.9 607.2,456.2 607,455.5 C606.7,454.9 606.5,454.2 606.3,453.5 C606.1,452.9 605.9,452.2 605.7,451.5 C605.5,450.9 605.3,450.2 605.2,449.5 C605,448.9 604.9,448.2 604.8,447.5 C604.7,446.9 604.6,446.2 604.4,445.6 C604.3,444.9 604.2,444.2 604.1,443.6 C604.1,442.9 604,442.2 603.9,441.6 C603.9,440.9 603.8,440.2 603.8,439.6 C603.7,438.9 603.7,438.2 603.7,437.6 C603.7,436.9 603.6,436.2 603.6,435.6 C603.6,434.9 603.6,434.2 603.5,433.6 C603.5,432.9 603.5,432.2 603.5,431.6 C603.5,430.9 603.4,430.2 603.4,429.6 C603.4,428.9 603.4,428.2 603.4,427.6 C603.4,426.9 603.4,426.2 603.4,425.6 C603.3,424.9 603.3,424.2 603.3,423.6 C603.3,422.9 603.3,422.2 603.3,421.6 C603.3,420.9 603.3,420.2 603.3,419.6 C603.3,418.9 603.4,418.3 603.4,417.6 C603.4,416.9 603.4,416.3 603.4,415.6 C603.4,414.9 603.4,414.3 603.4,413.6 C603.4,412.9 603.5,412.3 603.5,411.6 C603.5,410.9 603.5,410.3 603.5,409.6 C603.6,408.9 603.6,408.3 603.6,407.6 C603.6,406.9 603.7,405.9 603.7,405.6" fill="#91bef8" stroke="#0000c0" stroke-width="3" stroke-linejoin="round" stroke-linecap="butt"/>
<line x1="582.51" y1="539.2" x2="621.89" y2="539.2" stroke="#ff0000" stroke-width="3"/>
<line x1="559" y1="605.3" x2="645.4" y2="605.3" stroke="#000" stroke-width="3"/>
<line x1="547.9" y1="658.5" x2="656.5" y2="658.5" stroke="#ff0000" stroke-width="3"/>
<path d="M602.2,731.2 L602.2,753.6" fill="none" stroke="#0000c0" stroke-width="3" stroke-linecap="round"/>
<path d="M600.3,391.6 C600.3,391.4 600.2,390.9 600.2,390.6 C600.2,390.3 600.2,389.9 600.1,389.6 C600.1,389.3 600.1,388.9 600.1,388.6 C600.1,388.3 600.1,387.9 600.1,387.6 C600.1,387.2 600.1,386.9 600.1,386.6 C600.1,386.2 600.1,385.9 600.1,385.6 C600.2,385.2 600.2,384.9 600.2,384.6 C600.3,384.2 600.3,383.9 600.4,383.6 C600.5,383.2 600.6,382.9 600.7,382.6 C600.7,382.2 600.9,381.9 600.9,381.6 C601,381.2 601.1,380.9 601.2,380.6 C601.3,380.2 601.5,379.9 601.6,379.5 C601.7,379.2 601.8,378.9 601.9,378.5 C601.9,378.2 602,377.9 602,377.5 C602,377.2 602,376.9 601.9,376.5 C601.9,376.2 601.8,375.9 601.7,375.5 C601.6,375.2 601.5,374.9 601.4,374.5 C601.3,374.2 601.2,373.9 601.1,373.5 C601,373.2 601,372.8 600.9,372.5 C600.8,372.2 600.7,371.8 600.6,371.5 C600.6,371.2 600.5,370.8 600.4,370.5 C600.4,370.2 600.3,369.8 600.3,369.5 C600.3,369.2 600.3,368.8 600.3,368.5 C600.4,368.2 600.5,367.8 600.5,367.5 C600.6,367.2 600.7,366.8 600.8,366.5 C600.9,366.2 600.9,365.8 601,365.5 C601.1,365.1 601.2,364.8 601.3,364.5 C601.4,364.1 601.5,363.8 601.6,363.5 C601.6,363.1 601.7,362.8 601.7,362.5 C601.7,362.1 601.8,361.8 601.8,361.5 C601.8,361.1 601.8,360.8 601.8,360.5 C601.9,360.1 601.9,359.8 601.9,359.5 C601.9,359.1 601.9,358.8 601.9,358.5 C601.9,358.1 601.9,357.8 601.9,357.4 C602,357.1 602,356.8 602,356.4 C602,356.1 602,355.8 602,355.4 C602,355.1 602,354.8 602,354.4 C602,354.1 602,353.8 602,353.4 C602,353.1 602.1,352.8 602.1,352.4 C602.1,352.1 602.1,351.8 602.1,351.4 C602.1,351.1 602.1,350.7 602.1,350.4 C602.1,350.1 602.1,349.7 602.1,349.4 C602.1,349.1 602.1,348.7 602.1,348.4 C602.1,348.1 602.1,347.7 602.1,347.4 C602.1,347.1 602.1,346.7 602,346.4 C602,346.1 602,345.7 602,345.4 C602,345.1 601.9,344.7 601.9,344.4 C601.8,344.1 601.7,343.7 601.5,343.4 C601.4,343 601.3,342.7 601.2,342.4 C601.1,342 601,341.7 600.9,341.4 C600.8,341 600.7,340.7 600.6,340.4 C600.5,340 600.4,339.7 600.3,339.4 C600.3,339 600.3,338.7 600.3,338.4 C600.3,338 600.4,337.7 600.5,337.4 C600.5,337 600.6,336.7 600.7,336.4 C600.8,336 600.9,335.7 601,335.3 C601.1,335 601.2,334.7 601.2,334.3 C601.3,334 601.4,333.7 601.5,333.3 C601.6,333 601.6,332.7 601.7,332.3 C601.8,332 601.9,331.7 601.9,331.3 C602,331 602.1,330.7 602.1,330.3 C602.1,330 602.1,329.7 602.1,329.3 C602.1,329 602.1,328.6 602.1,328.3 C602.1,328 602.1,327.6 602.1,327.3 C602.1,327 602.1,326.6 602.1,326.3 C602.1,326 602.1,325.5 602.1,325.3 L602.1,325.3 C602.1,325.5 602.1,326 602.1,326.3 C602.1,326.6 602.1,327 602.1,327.3 C602.1,327.6 602.1,328 602.1,328.3 C602.1,328.6 602.1,329 602.1,329.3 C602.1,329.7 602.1,330 602.1,330.3 C602.1,330.7 602.2,331 602.3,331.3 C602.3,331.7 602.4,332 602.5,332.3 C602.6,332.7 602.6,333 602.7,333.3 C602.8,333.7 602.9,334 603,334.3 C603,334.7 603.1,335 603.2,335.3 C603.3,335.7 603.4,336 603.5,336.4 C603.6,336.7 603.7,337 603.7,337.4 C603.8,337.7 603.9,338 603.9,338.4 C603.9,338.7 603.9,339 603.9,339.4 C603.8,339.7 603.7,340 603.6,340.4 C603.5,340.7 603.4,341 603.3,341.4 C603.2,341.7 603.1,342 603,342.4 C602.9,342.7 602.8,343 602.7,343.4 C602.5,343.7 602.4,344.1 602.3,344.4 C602.3,344.7 602.2,345.1 602.2,345.4 C602.2,345.7 602.2,346.1 602.2,346.4 C602.1,346.7 602.1,347.1 602.1,347.4 C602.1,347.7 602.1,348.1 602.1,348.4 C602.1,348.7 602.1,349.1 602.1,349.4 C602.1,349.7 602.1,350.1 602.1,350.4 C602.1,350.7 602.1,351.1 602.1,351.4 C602.1,351.8 602.1,352.1 602.1,352.4 C602.1,352.8 602.2,353.1 602.2,353.4 C602.2,353.8 602.2,354.1 602.2,354.4 C602.2,354.8 602.2,355.1 602.2,355.4 C602.2,355.8 602.2,356.1 602.2,356.4 C602.2,356.8 602.2,357.1 602.3,357.4 C602.3,357.8 602.3,358.1 602.3,358.5 C602.3,358.8 602.3,359.1 602.3,359.5 C602.3,359.8 602.3,360.1 602.4,360.5 C602.4,360.8 602.4,361.1 602.4,361.5 C602.4,361.8 602.5,362.1 602.5,362.5 C602.5,362.8 602.6,363.1 602.6,363.5 C602.7,363.8 602.8,364.1 602.9,364.5 C603,364.8 603.1,365.1 603.2,365.5 C603.3,365.8 603.3,366.2 603.4,366.5 C603.5,366.8 603.6,367.2 603.7,367.5 C603.7,367.8 603.8,368.2 603.9,368.5 C603.9,368.8 603.9,369.2 603.9,369.5 C603.9,369.8 603.8,370.2 603.8,370.5 C603.7,370.8 603.6,371.2 603.6,371.5 C603.5,371.8 603.4,372.2 603.3,372.5 C603.2,372.8 603.2,373.2 603.1,373.5 C603,373.9 602.9,374.2 602.8,374.5 C602.7,374.9 602.6,375.2 602.5,375.5 C602.4,375.9 602.3,376.2 602.3,376.5 C602.2,376.9 602.2,377.2 602.2,377.5 C602.2,377.9 602.3,378.2 602.3,378.5 C602.4,378.9 602.5,379.2 602.6,379.5 C602.7,379.9 602.9,380.2 603,380.6 C603.1,380.9 603.2,381.2 603.3,381.6 C603.3,381.9 603.5,382.2 603.5,382.6 C603.6,382.9 603.7,383.2 603.8,383.6 C603.9,383.9 603.9,384.2 604,384.6 C604,384.9 604,385.2 604.1,385.6 C604.1,385.9 604.1,386.2 604.1,386.6 C604.1,386.9 604.1,387.2 604.1,387.6 C604.1,387.9 604.1,388.3 604.1,388.6 C604.1,388.9 604.1,389.3 604.1,389.6 C604,389.9 604,390.3 604,390.6 C604,390.9 603.9,391.4 603.9,391.6" fill="#91bef8" stroke="#0000c0" stroke-width="3" stroke-linejoin="round" stroke-linecap="butt"/>
<path d="M1024.3,407.8 C1024.3,408.1 1024.3,409.1 1024.3,409.8 C1024.3,410.5 1024.3,411.1 1024.3,411.8 C1024.2,412.5 1024.2,413.1 1024.2,413.8 C1024.2,414.4 1024.2,415.1 1024.2,415.8 C1024.2,416.4 1024.1,417.1 1024.1,417.8 C1024.1,418.4 1024.1,419.1 1024.1,419.8 C1024,420.4 1024,421.1 1024,421.8 C1024,422.4 1023.9,423.1 1023.9,423.8 C1023.9,424.4 1023.8,425.1 1023.8,425.8 C1023.7,426.4 1023.7,427.1 1023.7,427.7 C1023.6,428.4 1023.6,429.1 1023.5,429.7 C1023.5,430.4 1023.4,431.1 1023.4,431.7 C1023.4,432.4 1023.3,433.1 1023.3,433.7 C1023.2,434.4 1023.2,435.1 1023.2,435.7 C1023.2,436.4 1023.1,437.1 1023.1,437.7 C1023.1,438.4 1023.1,439.1 1023,439.7 C1023,440.4 1023,441 1023,441.7 C1022.9,442.4 1022.9,443 1022.9,443.7 C1022.8,444.4 1022.8,445 1022.7,445.7 C1022.6,446.4 1022.6,447 1022.5,447.7 C1022.4,448.4 1022.3,449 1022.2,449.7 C1022.1,450.4 1022,451 1021.9,451.7 C1021.8,452.4 1021.7,453 1021.6,453.7 C1021.4,454.3 1021.3,455 1021.2,455.7 C1021,456.3 1020.8,457 1020.7,457.7 C1020.5,458.3 1020.3,459 1020.2,459.7 C1020,460.3 1019.9,461 1019.7,461.7 C1019.5,462.3 1019.4,463 1019.2,463.7 C1019,464.3 1018.8,465 1018.7,465.7 C1018.5,466.3 1018.4,467 1018.2,467.6 C1018,468.3 1017.9,469 1017.7,469.6 C1017.6,470.3 1017.4,471 1017.3,471.6 C1017.1,472.3 1017,473 1016.9,473.6 C1016.7,474.3 1016.6,475 1016.5,475.6 C1016.4,476.3 1016.3,477 1016.2,477.6 C1016,478.3 1016,479 1015.9,479.6 C1015.8,480.3 1015.7,480.9 1015.6,481.6 C1015.5,482.3 1015.4,482.9 1015.3,483.6 C1015.2,484.3 1015.2,484.9 1015.1,485.6 C1015.1,486.3 1015,486.9 1015,487.6 C1015,488.3 1014.9,488.9 1014.9,489.6 C1014.9,490.3 1014.9,490.9 1014.8,491.6 C1014.8,492.3 1014.8,492.9 1014.8,493.6 C1014.8,494.2 1014.7,494.9 1014.7,495.6 C1014.7,496.2 1014.7,496.9 1014.6,497.6 C1014.6,498.2 1014.6,498.9 1014.6,499.6 C1014.5,500.2 1014.5,500.9 1014.5,501.6 C1014.4,502.2 1014.4,502.9 1014.4,503.6 C1014.3,504.2 1014.3,504.9 1014.3,505.6 C1014.3,506.2 1014.2,506.9 1014.2,507.5 C1014.2,508.2 1014.1,508.9 1014.1,509.5 C1014.1,510.2 1014,510.9 1014,511.5 C1014,512.2 1013.9,512.9 1013.9,513.5 C1013.9,514.2 1013.8,514.9 1013.8,515.5 C1013.8,516.2 1013.7,516.9 1013.7,517.5 C1013.6,518.2 1013.6,518.9 1013.6,519.5 C1013.5,520.2 1013.5,520.8 1013.4,521.5 C1013.4,522.2 1013.3,522.8 1013.3,523.5 C1013.2,524.2 1013.2,524.8 1013.1,525.5 C1013,526.2 1013,526.8 1012.9,527.5 C1012.9,528.2 1012.8,528.8 1012.8,529.5 C1012.7,530.2 1012.7,530.8 1012.7,531.5 C1012.6,532.2 1012.6,532.8 1012.5,533.5 C1012.5,534.1 1012.5,534.8 1012.4,535.5 C1012.4,536.1 1012.4,536.8 1012.3,537.5 C1012.3,538.1 1012.2,538.8 1012.2,539.5 C1012.2,540.1 1012.1,540.8 1012.1,541.5 C1012.1,542.1 1012,542.8 1012,543.5 C1011.9,544.1 1011.9,544.8 1011.8,545.5 C1011.8,546.1 1011.8,546.8 1011.7,547.4 C1011.7,548.1 1011.6,548.8 1011.6,549.4 C1011.5,550.1 1011.5,550.8 1011.5,551.4 C1011.4,552.1 1011.4,552.8 1011.3,553.4 C1011.3,554.1 1011.2,554.8 1011.1,555.4 C1011.1,556.1 1011,556.8 1010.9,557.4 C1010.9,558.1 1010.8,558.8 1010.7,559.4 C1010.6,560.1 1010.5,560.7 1010.4,561.4 C1010.3,562.1 1010.1,562.7 1009.9,563.4 C1009.8,564.1 1009.6,564.7 1009.4,565.4 C1009.2,566.1 1009,566.7 1008.8,567.4 C1008.6,568.1 1008.4,568.7 1008.2,569.4 C1007.9,570.1 1007.7,570.7 1007.4,571.4 C1007.1,572.1 1006.9,572.7 1006.6,573.4 C1006.3,574 1006.1,574.7 1005.8,575.4 C1005.5,576 1005.2,576.7 1004.9,577.4 C1004.5,578 1004.2,578.7 1003.9,579.4 C1003.6,580 1003.3,580.7 1002.9,581.4 C1002.6,582 1002.3,582.7 1001.9,583.4 C1001.6,584 1001.2,584.7 1000.9,585.4 C1000.5,586 1000.1,586.7 999.7,587.3 C999.3,588 998.8,588.7 998.4,589.3 C998,590 997.5,590.7 997.1,591.3 C996.6,592 996.2,592.7 995.7,593.3 C995.3,594 994.8,594.7 994.4,595.3 C993.9,596 993.5,596.7 993,597.3 C992.5,598 992,598.7 991.6,599.3 C991.1,600 990.5,600.6 990,601.3 C989.5,602 989,602.6 988.5,603.3 C988,604 987.5,604.6 987.1,605.3 C986.6,606 986.1,606.6 985.7,607.3 C985.2,608 984.7,608.6 984.3,609.3 C983.9,610 983.4,610.6 983,611.3 C982.6,612 982.3,612.6 981.9,613.3 C981.5,613.9 981.2,614.6 980.8,615.3 C980.4,615.9 980.1,616.6 979.7,617.3 C979.3,617.9 979,618.6 978.5,619.3 C978.1,619.9 977.7,620.6 977.2,621.3 C976.7,621.9 976.1,622.6 975.6,623.3 C975.2,623.9 974.7,624.6 974.3,625.3 C973.9,625.9 973.6,626.6 973.4,627.2 C973.1,627.9 972.8,628.6 972.6,629.2 C972.4,629.9 972.3,630.6 972.1,631.2 C972,631.9 971.9,632.6 971.8,633.2 C971.7,633.9 971.5,634.6 971.5,635.2 C971.4,635.9 971.4,636.6 971.4,637.2 C971.4,637.9 971.5,638.6 971.6,639.2 C971.6,639.9 971.7,640.5 971.9,641.2 C972,641.9 972.1,642.5 972.3,643.2 C972.4,643.9 972.6,644.5 972.8,645.2 C973,645.9 973.3,646.5 973.5,647.2 C973.8,647.9 974,648.5 974.3,649.2 C974.5,649.9 974.8,650.5 975.1,651.2 C975.4,651.9 975.7,652.5 976.1,653.2 C976.4,653.8 976.8,654.5 977.2,655.2 C977.6,655.8 978.1,656.5 978.6,657.2 C979.1,657.8 979.6,658.5 980.1,659.2 C980.6,659.8 981.2,660.5 981.8,661.2 C982.3,661.8 983,662.5 983.6,663.2 C984.2,663.8 984.8,664.5 985.4,665.2 C986.1,665.8 986.7,666.5 987.4,667.1 C988.1,667.8 988.7,668.5 989.4,669.1 C990.1,669.8 990.8,670.5 991.4,671.1 C992.1,671.8 992.8,672.5 993.4,673.1 C994.1,673.8 994.8,674.5 995.4,675.1 C996.1,675.8 996.9,676.5 997.6,677.1 C998.4,677.8 999.2,678.5 1000,679.1 C1000.8,679.8 1001.6,680.4 1002.4,681.1 C1003.1,681.8 1003.9,682.4 1004.7,683.1 C1005.4,683.8 1006.2,684.4 1006.9,685.1 C1007.7,685.8 1008.4,686.4 1009.1,687.1 C1009.8,687.8 1010.4,688.4 1011,689.1 C1011.7,689.8 1012.3,690.4 1012.9,691.1 C1013.5,691.8 1014,692.4 1014.6,693.1 C1015.2,693.7 1015.7,694.4 1016.3,695.1 C1016.8,695.7 1017.4,696.4 1017.9,697.1 C1018.4,697.7 1018.8,698.4 1019.3,699.1 C1019.8,699.7 1020.2,700.4 1020.6,701.1 C1021.1,701.7 1021.5,702.4 1021.9,703.1 C1022.2,703.7 1022.5,704.4 1022.9,705.1 C1023.2,705.7 1023.4,706.4 1023.7,707 C1024,707.7 1024.2,708.4 1024.5,709 C1024.7,709.7 1024.9,710.4 1025.1,711 C1025.3,711.7 1025.5,712.4 1025.7,713 C1025.8,713.7 1026,714.4 1026.2,715 C1026.3,715.7 1026.4,716.4 1026.5,717 C1026.6,717.7 1026.7,718.4 1026.8,719 C1026.9,719.7 1027,720.3 1027,721 C1027.1,721.7 1027.2,722.3 1027.3,723 C1027.4,723.7 1027.6,724.7 1027.6,725 L1027.6,725 C1027.6,724.7 1027.8,723.7 1027.9,723 C1028,722.3 1028.1,721.7 1028.2,721 C1028.2,720.3 1028.3,719.7 1028.4,719 C1028.5,718.4 1028.6,717.7 1028.7,717 C1028.8,716.4 1028.9,715.7 1029,715 C1029.2,714.4 1029.4,713.7 1029.5,713 C1029.7,712.4 1029.9,711.7 1030.1,711 C1030.3,710.4 1030.5,709.7 1030.7,709 C1031,708.4 1031.2,707.7 1031.5,707 C1031.8,706.4 1032,705.7 1032.3,705.1 C1032.7,704.4 1033,703.7 1033.3,703.1 C1033.7,702.4 1034.1,701.7 1034.6,701.1 C1035,700.4 1035.4,699.7 1035.9,699.1 C1036.4,698.4 1036.8,697.7 1037.3,697.1 C1037.8,696.4 1038.4,695.7 1038.9,695.1 C1039.5,694.4 1040,693.7 1040.6,693.1 C1041.2,692.4 1041.7,691.8 1042.3,691.1 C1042.9,690.4 1043.5,689.8 1044.2,689.1 C1044.8,688.4 1045.4,687.8 1046.1,687.1 C1046.8,686.4 1047.5,685.8 1048.3,685.1 C1049,684.4 1049.8,683.8 1050.5,683.1 C1051.3,682.4 1052.1,681.8 1052.8,681.1 C1053.6,680.4 1054.4,679.8 1055.2,679.1 C1056,678.5 1056.8,677.8 1057.6,677.1 C1058.3,676.5 1059.1,675.8 1059.8,675.1 C1060.4,674.5 1061.1,673.8 1061.8,673.1 C1062.4,672.5 1063.1,671.8 1063.8,671.1 C1064.4,670.5 1065.1,669.8 1065.8,669.1 C1066.5,668.5 1067.1,667.8 1067.8,667.1 C1068.5,666.5 1069.1,665.8 1069.8,665.2 C1070.4,664.5 1071,663.8 1071.6,663.2 C1072.2,662.5 1072.9,661.8 1073.4,661.2 C1074,660.5 1074.6,659.8 1075.1,659.2 C1075.6,658.5 1076.1,657.8 1076.6,657.2 C1077.1,656.5 1077.6,655.8 1078,655.2 C1078.4,654.5 1078.8,653.8 1079.1,653.2 C1079.5,652.5 1079.8,651.9 1080.1,651.2 C1080.4,650.5 1080.7,649.9 1080.9,649.2 C1081.2,648.5 1081.4,647.9 1081.7,647.2 C1081.9,646.5 1082.2,645.9 1082.4,645.2 C1082.6,644.5 1082.8,643.9 1082.9,643.2 C1083.1,642.5 1083.2,641.9 1083.3,641.2 C1083.5,640.5 1083.6,639.9 1083.6,639.2 C1083.7,638.6 1083.8,637.9 1083.8,637.2 C1083.8,636.6 1083.8,635.9 1083.7,635.2 C1083.7,634.6 1083.5,633.9 1083.4,633.2 C1083.3,632.6 1083.2,631.9 1083.1,631.2 C1082.9,630.6 1082.8,629.9 1082.6,629.2 C1082.4,628.6 1082.1,627.9 1081.8,627.2 C1081.6,626.6 1081.3,625.9 1080.9,625.3 C1080.5,624.6 1080,623.9 1079.6,623.3 C1079.1,622.6 1078.5,621.9 1078,621.3 C1077.5,620.6 1077.1,619.9 1076.7,619.3 C1076.2,618.6 1075.9,617.9 1075.5,617.3 C1075.1,616.6 1074.8,615.9 1074.4,615.3 C1074,614.6 1073.7,613.9 1073.3,613.3 C1072.9,612.6 1072.6,612 1072.2,611.3 C1071.8,610.6 1071.3,610 1070.9,609.3 C1070.5,608.6 1070,608 1069.5,607.3 C1069.1,606.6 1068.6,606 1068.1,605.3 C1067.7,604.6 1067.2,604 1066.7,603.3 C1066.2,602.6 1065.7,602 1065.2,601.3 C1064.7,600.6 1064.1,600 1063.6,599.3 C1063.2,598.7 1062.7,598 1062.2,597.3 C1061.7,596.7 1061.3,596 1060.8,595.3 C1060.4,594.7 1059.9,594 1059.5,593.3 C1059,592.7 1058.6,592 1058.1,591.3 C1057.7,590.7 1057.2,590 1056.8,589.3 C1056.4,588.7 1055.9,588 1055.5,587.3 C1055.1,586.7 1054.7,586 1054.3,585.4 C1054,584.7 1053.6,584 1053.3,583.4 C1052.9,582.7 1052.6,582 1052.3,581.4 C1051.9,580.7 1051.6,580 1051.3,579.4 C1051,578.7 1050.7,578 1050.3,577.4 C1050,576.7 1049.7,576 1049.4,575.4 C1049.1,574.7 1048.9,574 1048.6,573.4 C1048.3,572.7 1048.1,572.1 1047.8,571.4 C1047.5,570.7 1047.3,570.1 1047,569.4 C1046.8,568.7 1046.6,568.1 1046.4,567.4 C1046.2,566.7 1046,566.1 1045.8,565.4 C1045.6,564.7 1045.4,564.1 1045.3,563.4 C1045.1,562.7 1044.9,562.1 1044.8,561.4 C1044.7,560.7 1044.6,560.1 1044.5,559.4 C1044.4,558.8 1044.3,558.1 1044.3,557.4 C1044.2,556.8 1044.1,556.1 1044.1,555.4 C1044,554.8 1043.9,554.1 1043.9,553.4 C1043.8,552.8 1043.8,552.1 1043.7,551.4 C1043.7,550.8 1043.7,550.1 1043.6,549.4 C1043.6,548.8 1043.5,548.1 1043.5,547.4 C1043.4,546.8 1043.4,546.1 1043.4,545.5 C1043.3,544.8 1043.3,544.1 1043.2,543.5 C1043.2,542.8 1043.1,542.1 1043.1,541.5 C1043.1,540.8 1043,540.1 1043,539.5 C1043,538.8 1042.9,538.1 1042.9,537.5 C1042.8,536.8 1042.8,536.1 1042.8,535.5 C1042.7,534.8 1042.7,534.1 1042.7,533.5 C1042.6,532.8 1042.6,532.2 1042.5,531.5 C1042.5,530.8 1042.5,530.2 1042.4,529.5 C1042.4,528.8 1042.3,528.2 1042.3,527.5 C1042.2,526.8 1042.2,526.2 1042.1,525.5 C1042,524.8 1042,524.2 1041.9,523.5 C1041.9,522.8 1041.8,522.2 1041.8,521.5 C1041.7,520.8 1041.7,520.2 1041.6,519.5 C1041.6,518.9 1041.6,518.2 1041.5,517.5 C1041.5,516.9 1041.4,516.2 1041.4,515.5 C1041.4,514.9 1041.3,514.2 1041.3,513.5 C1041.3,512.9 1041.2,512.2 1041.2,511.5 C1041.2,510.9 1041.1,510.2 1041.1,509.5 C1041.1,508.9 1041,508.2 1041,507.5 C1041,506.9 1040.9,506.2 1040.9,505.6 C1040.9,504.9 1040.9,504.2 1040.8,503.6 C1040.8,502.9 1040.8,502.2 1040.7,501.6 C1040.7,500.9 1040.7,500.2 1040.6,499.6 C1040.6,498.9 1040.6,498.2 1040.6,497.6 C1040.5,496.9 1040.5,496.2 1040.5,495.6 C1040.5,494.9 1040.4,494.2 1040.4,493.6 C1040.4,492.9 1040.4,492.3 1040.4,491.6 C1040.3,490.9 1040.3,490.3 1040.3,489.6 C1040.3,488.9 1040.2,488.3 1040.2,487.6 C1040.2,486.9 1040.1,486.3 1040.1,485.6 C1040,484.9 1040,484.3 1039.9,483.6 C1039.8,482.9 1039.7,482.3 1039.6,481.6 C1039.5,480.9 1039.4,480.3 1039.3,479.6 C1039.2,479 1039.2,478.3 1039,477.6 C1038.9,477 1038.8,476.3 1038.7,475.6 C1038.6,475 1038.5,474.3 1038.3,473.6 C1038.2,473 1038.1,472.3 1037.9,471.6 C1037.8,471 1037.6,470.3 1037.5,469.6 C1037.3,469 1037.2,468.3 1037,467.6 C1036.8,467 1036.7,466.3 1036.5,465.7 C1036.4,465 1036.2,464.3 1036,463.7 C1035.8,463 1035.7,462.3 1035.5,461.7 C1035.3,461 1035.2,460.3 1035,459.7 C1034.9,459 1034.7,458.3 1034.5,457.7 C1034.4,457 1034.2,456.3 1034,455.7 C1033.9,455 1033.8,454.3 1033.6,453.7 C1033.5,453 1033.4,452.4 1033.3,451.7 C1033.2,451 1033.1,450.4 1033,449.7 C1032.9,449 1032.8,448.4 1032.7,447.7 C1032.6,447 1032.6,446.4 1032.5,445.7 C1032.4,445 1032.4,444.4 1032.3,443.7 C1032.3,443 1032.3,442.4 1032.2,441.7 C1032.2,441 1032.2,440.4 1032.2,439.7 C1032.1,439.1 1032.1,438.4 1032.1,437.7 C1032.1,437.1 1032,436.4 1032,435.7 C1032,435.1 1032,434.4 1031.9,433.7 C1031.9,433.1 1031.8,432.4 1031.8,431.7 C1031.8,431.1 1031.7,430.4 1031.7,429.7 C1031.6,429.1 1031.6,428.4 1031.5,427.7 C1031.5,427.1 1031.5,426.4 1031.4,425.8 C1031.4,425.1 1031.3,424.4 1031.3,423.8 C1031.3,423.1 1031.2,422.4 1031.2,421.8 C1031.2,421.1 1031.2,420.4 1031.1,419.8 C1031.1,419.1 1031.1,418.4 1031.1,417.8 C1031.1,417.1 1031,416.4 1031,415.8 C1031,415.1 1031,414.4 1031,413.8 C1031,413.1 1031,412.5 1030.9,411.8 C1030.9,411.1 1030.9,410.5 1030.9,409.8 C1030.9,409.1 1030.9,408.1 1030.9,407.8" fill="#fdbcde" stroke="#cc0066" stroke-width="3" stroke-linejoin="round" stroke-linecap="butt"/>
<line x1="1013.1" y1="544.6" x2="1042.1" y2="544.6" stroke="#ff0000" stroke-width="3"/>
<line x1="981.6" y1="616" x2="1073.6" y2="616" stroke="#000" stroke-width="3"/>
<line x1="975.3" y1="648.7" x2="1079.9" y2="648.7" stroke="#ff0000" stroke-width="3"/>
<path d="M1027.6,725 L1027.6,746.3" fill="none" stroke="#cc0066" stroke-width="3" stroke-linecap="round"/>
<path d="M1024.4,393.5 C1024.4,393.3 1024.4,392.8 1024.3,392.5 C1024.3,392.2 1024.3,391.8 1024.3,391.5 C1024.3,391.2 1024.3,390.8 1024.2,390.5 C1024.2,390.2 1024.2,389.8 1024.2,389.5 C1024.2,389.2 1024.2,388.8 1024.2,388.5 C1024.2,388.2 1024.2,387.8 1024.2,387.5 C1024.2,387.2 1024.3,386.8 1024.3,386.5 C1024.3,386.2 1024.3,385.8 1024.3,385.5 C1024.3,385.2 1024.3,384.8 1024.4,384.5 C1024.4,384.2 1024.4,383.8 1024.5,383.5 C1024.5,383.2 1024.6,382.8 1024.7,382.5 C1024.7,382.2 1024.8,381.8 1024.9,381.5 C1025,381.2 1025.1,380.8 1025.3,380.5 C1025.4,380.2 1025.6,379.8 1025.7,379.5 C1025.8,379.2 1025.9,378.8 1025.9,378.5 C1026,378.2 1026,377.8 1026,377.5 C1026,377.2 1026,376.8 1026,376.5 C1026,376.2 1026,375.8 1026,375.5 C1026,375.2 1025.9,374.8 1025.9,374.5 C1025.9,374.2 1025.8,373.8 1025.8,373.5 C1025.7,373.2 1025.7,372.8 1025.6,372.5 C1025.6,372.2 1025.5,371.8 1025.5,371.5 C1025.4,371.2 1025.4,370.8 1025.3,370.5 C1025.3,370.2 1025.3,369.8 1025.2,369.5 C1025.2,369.2 1025.2,368.8 1025.2,368.5 C1025.2,368.2 1025.3,367.8 1025.3,367.5 C1025.3,367.2 1025.4,366.8 1025.5,366.5 C1025.5,366.2 1025.6,365.8 1025.7,365.5 C1025.8,365.2 1025.9,364.8 1026,364.5 C1026.1,364.2 1026.3,363.8 1026.4,363.5 C1026.5,363.2 1026.6,362.8 1026.7,362.5 C1026.8,362.2 1026.9,361.8 1026.9,361.5 C1027,361.2 1027.1,360.8 1027.1,360.5 C1027.2,360.2 1027.2,359.8 1027.3,359.5 C1027.3,359.2 1027.4,358.8 1027.4,358.5 C1027.4,358.2 1027.5,357.8 1027.5,357.5 C1027.5,357.2 1027.5,356.8 1027.5,356.5 C1027.5,356.2 1027.5,355.8 1027.4,355.5 C1027.4,355.2 1027.4,354.8 1027.3,354.5 C1027.3,354.2 1027.2,353.8 1027.2,353.5 C1027.1,353.2 1027.1,352.8 1027,352.5 C1026.9,352.2 1026.9,351.8 1026.8,351.5 C1026.7,351.2 1026.5,350.8 1026.5,350.5 C1026.4,350.2 1026.3,349.8 1026.2,349.5 C1026.2,349.2 1026.2,348.8 1026.2,348.5 C1026.3,348.2 1026.3,347.8 1026.4,347.5 C1026.5,347.2 1026.6,346.8 1026.7,346.5 C1026.8,346.2 1026.8,345.8 1026.9,345.5 C1027,345.2 1027.1,344.8 1027.2,344.5 C1027.3,344.2 1027.4,343.8 1027.4,343.5 C1027.5,343.2 1027.5,342.8 1027.5,342.5 C1027.5,342.2 1027.5,341.8 1027.5,341.5 C1027.5,341.2 1027.5,340.8 1027.5,340.5 C1027.5,340.2 1027.5,339.8 1027.5,339.5 C1027.5,339.2 1027.5,338.8 1027.5,338.5 C1027.5,338.2 1027.5,337.8 1027.5,337.5 C1027.5,337.2 1027.5,336.8 1027.5,336.5 C1027.5,336.2 1027.5,335.8 1027.5,335.5 C1027.5,335.2 1027.5,334.8 1027.5,334.5 C1027.5,334.2 1027.5,333.8 1027.5,333.5 C1027.5,333.2 1027.5,332.8 1027.5,332.5 C1027.5,332.2 1027.5,331.8 1027.5,331.5 C1027.5,331.2 1027.5,330.8 1027.5,330.5 C1027.5,330.2 1027.5,329.8 1027.4,329.5 C1027.4,329.2 1027.4,328.8 1027.3,328.5 C1027.3,328.2 1027.2,327.8 1027.2,327.5 C1027.1,327.2 1027.1,326.8 1027,326.5 C1026.9,326.2 1026.9,325.8 1026.8,325.5 C1026.7,325.2 1026.6,324.8 1026.5,324.5 C1026.4,324.2 1026.3,323.8 1026.3,323.5 C1026.2,323.2 1026.2,322.8 1026.2,322.5 C1026.2,322.2 1026.2,321.8 1026.3,321.5 C1026.3,321.2 1026.4,320.8 1026.5,320.5 C1026.5,320.2 1026.6,319.8 1026.7,319.5 C1026.8,319.2 1026.8,318.8 1026.9,318.5 C1027,318.2 1027,317.8 1027.1,317.5 C1027.2,317.2 1027.2,316.8 1027.3,316.5 C1027.4,316.2 1027.4,315.8 1027.5,315.5 C1027.5,315.2 1027.5,314.8 1027.5,314.5 C1027.4,314.2 1027.3,313.8 1027.2,313.5 C1027.1,313.2 1026.9,312.8 1026.7,312.5 C1026.6,312.2 1026.4,311.8 1026.3,311.5 C1026.2,311.2 1026,310.8 1025.9,310.5 C1025.7,310.2 1025.6,309.8 1025.4,309.5 C1025.3,309.2 1025.2,308.8 1025.1,308.5 C1025,308.2 1025,307.8 1025,307.5 C1025,307.2 1025.1,306.8 1025.1,306.5 C1025.2,306.2 1025.3,305.8 1025.4,305.5 C1025.5,305.2 1025.6,304.8 1025.7,304.5 C1025.8,304.2 1025.9,303.8 1026,303.5 C1026.1,303.2 1026.2,302.8 1026.3,302.5 C1026.4,302.2 1026.5,301.8 1026.6,301.5 C1026.7,301.2 1026.8,300.8 1026.9,300.5 C1027,300.2 1027.1,299.8 1027.1,299.5 C1027.1,299.2 1027.1,298.8 1027,298.5 C1027,298.2 1026.9,297.8 1026.8,297.5 C1026.7,297.2 1026.5,296.8 1026.4,296.5 C1026.3,296.2 1026.2,295.8 1026.1,295.5 C1026.1,295.2 1026.1,294.8 1026.1,294.5 C1026.2,294.2 1026.2,293.8 1026.3,293.5 C1026.4,293.2 1026.5,292.8 1026.6,292.5 C1026.6,292.2 1026.7,291.8 1026.8,291.5 C1026.9,291.2 1026.9,290.8 1027,290.5 C1027.1,290.2 1027.2,289.8 1027.2,289.5 C1027.3,289.2 1027.4,288.8 1027.4,288.5 C1027.5,288.2 1027.5,287.8 1027.5,287.5 C1027.5,287.2 1027.5,286.8 1027.5,286.5 C1027.5,286.2 1027.5,285.8 1027.5,285.5 C1027.5,285.2 1027.5,284.8 1027.5,284.5 C1027.5,284.2 1027.5,283.8 1027.5,283.5 C1027.5,283.2 1027.5,282.8 1027.5,282.5 C1027.5,282.2 1027.5,281.8 1027.5,281.5 C1027.5,281.2 1027.5,280.8 1027.5,280.5 C1027.5,280.2 1027.5,279.8 1027.5,279.5 C1027.5,279.2 1027.5,278.8 1027.5,278.5 C1027.5,278.2 1027.5,277.8 1027.5,277.5 C1027.5,277.2 1027.5,276.8 1027.5,276.5 C1027.5,276.2 1027.5,275.8 1027.5,275.5 C1027.5,275.2 1027.5,274.8 1027.5,274.5 C1027.5,274.2 1027.5,273.8 1027.5,273.5 C1027.5,273.2 1027.5,272.8 1027.5,272.5 C1027.5,272.2 1027.5,271.8 1027.5,271.5 C1027.5,271.2 1027.5,270.8 1027.5,270.5 C1027.5,270.2 1027.5,269.8 1027.5,269.5 C1027.5,269.2 1027.5,268.8 1027.5,268.5 C1027.5,268.2 1027.5,267.8 1027.5,267.5 C1027.5,267.2 1027.5,266.8 1027.5,266.5 C1027.5,266.2 1027.5,265.8 1027.5,265.5 C1027.5,265.2 1027.5,264.8 1027.5,264.5 C1027.5,264.2 1027.5,263.8 1027.5,263.5 C1027.5,263.2 1027.5,262.8 1027.5,262.5 C1027.5,262.2 1027.5,261.8 1027.5,261.5 C1027.5,261.2 1027.5,260.8 1027.5,260.5 C1027.5,260.2 1027.5,259.8 1027.5,259.5 C1027.5,259.2 1027.5,258.8 1027.5,258.5 C1027.5,258.2 1027.5,257.8 1027.5,257.5 C1027.5,257.2 1027.5,256.8 1027.5,256.5 C1027.5,256.2 1027.5,255.8 1027.5,255.5 C1027.5,255.2 1027.5,254.8 1027.5,254.5 C1027.5,254.2 1027.5,253.8 1027.5,253.5 C1027.5,253.2 1027.5,252.8 1027.5,252.5 C1027.5,252.2 1027.5,251.8 1027.5,251.5 C1027.5,251.2 1027.5,250.8 1027.5,250.5 C1027.5,250.2 1027.5,249.8 1027.5,249.5 C1027.5,249.2 1027.5,248.8 1027.5,248.5 C1027.5,248.2 1027.5,247.8 1027.5,247.5 C1027.5,247.2 1027.5,246.8 1027.5,246.5 C1027.5,246.2 1027.5,245.8 1027.5,245.5 C1027.5,245.2 1027.5,244.8 1027.5,244.5 C1027.5,244.2 1027.5,243.8 1027.5,243.5 C1027.5,243.2 1027.5,242.8 1027.5,242.5 C1027.5,242.2 1027.5,241.8 1027.5,241.5 C1027.5,241.2 1027.5,240.8 1027.5,240.5 C1027.5,240.2 1027.5,239.8 1027.5,239.5 C1027.5,239.2 1027.5,238.8 1027.5,238.5 C1027.5,238.2 1027.5,237.8 1027.5,237.5 C1027.5,237.2 1027.5,236.8 1027.5,236.5 C1027.5,236.2 1027.5,235.8 1027.5,235.5 C1027.5,235.2 1027.5,234.8 1027.5,234.5 C1027.5,234.2 1027.5,233.8 1027.5,233.5 C1027.5,233.2 1027.5,232.8 1027.5,232.5 C1027.5,232.2 1027.5,231.8 1027.5,231.5 C1027.5,231.2 1027.5,230.8 1027.5,230.5 C1027.5,230.2 1027.5,229.8 1027.5,229.5 C1027.5,229.2 1027.5,228.8 1027.5,228.5 C1027.4,228.2 1027.3,227.8 1027.2,227.5 C1027.1,227.2 1027,226.8 1026.9,226.5 C1026.8,226.2 1026.7,225.8 1026.6,225.5 C1026.5,225.2 1026.3,224.8 1026.3,224.5 C1026.2,224.2 1026.2,223.8 1026.2,223.5 C1026.2,223.2 1026.3,222.8 1026.4,222.5 C1026.5,222.2 1026.6,221.8 1026.7,221.5 C1026.8,221.2 1026.8,220.8 1026.9,220.5 C1027,220.2 1027.1,219.8 1027.2,219.5 C1027.3,219.2 1027.4,218.8 1027.4,218.5 C1027.5,218.2 1027.5,217.8 1027.5,217.5 C1027.5,217.2 1027.5,216.8 1027.5,216.5 C1027.5,216.2 1027.5,215.8 1027.5,215.5 C1027.5,215.2 1027.5,214.8 1027.5,214.5 C1027.5,214.2 1027.5,213.8 1027.5,213.5 C1027.5,213.2 1027.5,212.8 1027.5,212.5 C1027.5,212.2 1027.5,211.8 1027.5,211.5 C1027.5,211.2 1027.5,210.8 1027.5,210.5 C1027.5,210.2 1027.5,209.8 1027.5,209.5 C1027.5,209.2 1027.5,208.8 1027.5,208.5 C1027.5,208.2 1027.5,207.8 1027.5,207.5 C1027.5,207.2 1027.5,206.8 1027.5,206.5 C1027.5,206.2 1027.5,205.8 1027.5,205.5 C1027.5,205.2 1027.5,204.8 1027.5,204.5 C1027.5,204.2 1027.5,203.8 1027.5,203.5 C1027.5,203.2 1027.5,202.8 1027.5,202.5 C1027.5,202.2 1027.5,201.8 1027.5,201.5 C1027.5,201.2 1027.5,200.8 1027.5,200.5 C1027.5,200.2 1027.5,199.8 1027.5,199.5 C1027.5,199.2 1027.5,198.8 1027.5,198.5 C1027.5,198.2 1027.5,197.8 1027.5,197.5 C1027.5,197.2 1027.5,196.8 1027.5,196.5 C1027.5,196.2 1027.5,195.8 1027.5,195.5 C1027.5,195.2 1027.5,194.8 1027.5,194.5 C1027.5,194.2 1027.5,193.8 1027.5,193.5 C1027.5,193.2 1027.5,192.8 1027.5,192.5 C1027.5,192.2 1027.5,191.8 1027.5,191.5 C1027.5,191.2 1027.5,190.8 1027.5,190.5 C1027.5,190.2 1027.5,189.8 1027.5,189.5 C1027.5,189.2 1027.5,188.8 1027.5,188.5 C1027.5,188.2 1027.5,187.8 1027.5,187.5 C1027.5,187.2 1027.5,186.8 1027.5,186.5 C1027.5,186.2 1027.5,185.8 1027.5,185.5 C1027.5,185.2 1027.5,184.8 1027.4,184.5 C1027.4,184.2 1027.3,183.8 1027.2,183.5 C1027.2,183.2 1027.1,182.8 1027,182.5 C1026.9,182.2 1026.8,181.8 1026.7,181.5 C1026.5,181.2 1026.4,180.8 1026.3,180.5 C1026.2,180.2 1026.2,179.8 1026.2,179.5 C1026.2,179.2 1026.3,178.8 1026.3,178.5 C1026.4,178.2 1026.4,177.8 1026.5,177.5 C1026.6,177.2 1026.6,176.8 1026.7,176.5 C1026.8,176.2 1026.8,175.8 1026.9,175.5 C1027,175.2 1027,174.8 1027.1,174.5 C1027.2,174.2 1027.2,173.8 1027.3,173.5 C1027.3,173.2 1027.4,172.8 1027.4,172.5 C1027.4,172.2 1027.4,171.8 1027.5,171.5 C1027.5,171.2 1027.5,170.8 1027.5,170.5 C1027.5,170.2 1027.5,169.8 1027.5,169.5 C1027.5,169.2 1027.5,168.8 1027.5,168.5 C1027.5,168.2 1027.5,167.7 1027.5,167.5 L1027.5,167.5 C1027.5,167.7 1027.5,168.2 1027.5,168.5 C1027.5,168.8 1027.5,169.2 1027.5,169.5 C1027.5,169.8 1027.5,170.2 1027.5,170.5 C1027.5,170.8 1027.5,171.2 1027.5,171.5 C1027.6,171.8 1027.6,172.2 1027.6,172.5 C1027.6,172.8 1027.7,173.2 1027.7,173.5 C1027.8,173.8 1027.8,174.2 1027.9,174.5 C1028,174.8 1028,175.2 1028.1,175.5 C1028.2,175.8 1028.2,176.2 1028.3,176.5 C1028.4,176.8 1028.4,177.2 1028.5,177.5 C1028.6,177.8 1028.6,178.2 1028.7,178.5 C1028.7,178.8 1028.8,179.2 1028.8,179.5 C1028.8,179.8 1028.8,180.2 1028.7,180.5 C1028.6,180.8 1028.5,181.2 1028.3,181.5 C1028.2,181.8 1028.1,182.2 1028,182.5 C1027.9,182.8 1027.8,183.2 1027.8,183.5 C1027.7,183.8 1027.6,184.2 1027.6,184.5 C1027.5,184.8 1027.5,185.2 1027.5,185.5 C1027.5,185.8 1027.5,186.2 1027.5,186.5 C1027.5,186.8 1027.5,187.2 1027.5,187.5 C1027.5,187.8 1027.5,188.2 1027.5,188.5 C1027.5,188.8 1027.5,189.2 1027.5,189.5 C1027.5,189.8 1027.5,190.2 1027.5,190.5 C1027.5,190.8 1027.5,191.2 1027.5,191.5 C1027.5,191.8 1027.5,192.2 1027.5,192.5 C1027.5,192.8 1027.5,193.2 1027.5,193.5 C1027.5,193.8 1027.5,194.2 1027.5,194.5 C1027.5,194.8 1027.5,195.2 1027.5,195.5 C1027.5,195.8 1027.5,196.2 1027.5,196.5 C1027.5,196.8 1027.5,197.2 1027.5,197.5 C1027.5,197.8 1027.5,198.2 1027.5,198.5 C1027.5,198.8 1027.5,199.2 1027.5,199.5 C1027.5,199.8 1027.5,200.2 1027.5,200.5 C1027.5,200.8 1027.5,201.2 1027.5,201.5 C1027.5,201.8 1027.5,202.2 1027.5,202.5 C1027.5,202.8 1027.5,203.2 1027.5,203.5 C1027.5,203.8 1027.5,204.2 1027.5,204.5 C1027.5,204.8 1027.5,205.2 1027.5,205.5 C1027.5,205.8 1027.5,206.2 1027.5,206.5 C1027.5,206.8 1027.5,207.2 1027.5,207.5 C1027.5,207.8 1027.5,208.2 1027.5,208.5 C1027.5,208.8 1027.5,209.2 1027.5,209.5 C1027.5,209.8 1027.5,210.2 1027.5,210.5 C1027.5,210.8 1027.5,211.2 1027.5,211.5 C1027.5,211.8 1027.5,212.2 1027.5,212.5 C1027.5,212.8 1027.5,213.2 1027.5,213.5 C1027.5,213.8 1027.5,214.2 1027.5,214.5 C1027.5,214.8 1027.5,215.2 1027.5,215.5 C1027.5,215.8 1027.5,216.2 1027.5,216.5 C1027.5,216.8 1027.5,217.2 1027.5,217.5 C1027.5,217.8 1027.5,218.2 1027.6,218.5 C1027.6,218.8 1027.7,219.2 1027.8,219.5 C1027.9,219.8 1028,220.2 1028.1,220.5 C1028.2,220.8 1028.2,221.2 1028.3,221.5 C1028.4,221.8 1028.5,222.2 1028.6,222.5 C1028.7,222.8 1028.8,223.2 1028.8,223.5 C1028.8,223.8 1028.8,224.2 1028.7,224.5 C1028.7,224.8 1028.5,225.2 1028.4,225.5 C1028.3,225.8 1028.2,226.2 1028.1,226.5 C1028,226.8 1027.9,227.2 1027.8,227.5 C1027.7,227.8 1027.6,228.2 1027.5,228.5 C1027.5,228.8 1027.5,229.2 1027.5,229.5 C1027.5,229.8 1027.5,230.2 1027.5,230.5 C1027.5,230.8 1027.5,231.2 1027.5,231.5 C1027.5,231.8 1027.5,232.2 1027.5,232.5 C1027.5,232.8 1027.5,233.2 1027.5,233.5 C1027.5,233.8 1027.5,234.2 1027.5,234.5 C1027.5,234.8 1027.5,235.2 1027.5,235.5 C1027.5,235.8 1027.5,236.2 1027.5,236.5 C1027.5,236.8 1027.5,237.2 1027.5,237.5 C1027.5,237.8 1027.5,238.2 1027.5,238.5 C1027.5,238.8 1027.5,239.2 1027.5,239.5 C1027.5,239.8 1027.5,240.2 1027.5,240.5 C1027.5,240.8 1027.5,241.2 1027.5,241.5 C1027.5,241.8 1027.5,242.2 1027.5,242.5 C1027.5,242.8 1027.5,243.2 1027.5,243.5 C1027.5,243.8 1027.5,244.2 1027.5,244.5 C1027.5,244.8 1027.5,245.2 1027.5,245.5 C1027.5,245.8 1027.5,246.2 1027.5,246.5 C1027.5,246.8 1027.5,247.2 1027.5,247.5 C1027.5,247.8 1027.5,248.2 1027.5,248.5 C1027.5,248.8 1027.5,249.2 1027.5,249.5 C1027.5,249.8 1027.5,250.2 1027.5,250.5 C1027.5,250.8 1027.5,251.2 1027.5,251.5 C1027.5,251.8 1027.5,252.2 1027.5,252.5 C1027.5,252.8 1027.5,253.2 1027.5,253.5 C1027.5,253.8 1027.5,254.2 1027.5,254.5 C1027.5,254.8 1027.5,255.2 1027.5,255.5 C1027.5,255.8 1027.5,256.2 1027.5,256.5 C1027.5,256.8 1027.5,257.2 1027.5,257.5 C1027.5,257.8 1027.5,258.2 1027.5,258.5 C1027.5,258.8 1027.5,259.2 1027.5,259.5 C1027.5,259.8 1027.5,260.2 1027.5,260.5 C1027.5,260.8 1027.5,261.2 1027.5,261.5 C1027.5,261.8 1027.5,262.2 1027.5,262.5 C1027.5,262.8 1027.5,263.2 1027.5,263.5 C1027.5,263.8 1027.5,264.2 1027.5,264.5 C1027.5,264.8 1027.5,265.2 1027.5,265.5 C1027.5,265.8 1027.5,266.2 1027.5,266.5 C1027.5,266.8 1027.5,267.2 1027.5,267.5 C1027.5,267.8 1027.5,268.2 1027.5,268.5 C1027.5,268.8 1027.5,269.2 1027.5,269.5 C1027.5,269.8 1027.5,270.2 1027.5,270.5 C1027.5,270.8 1027.5,271.2 1027.5,271.5 C1027.5,271.8 1027.5,272.2 1027.5,272.5 C1027.5,272.8 1027.5,273.2 1027.5,273.5 C1027.5,273.8 1027.5,274.2 1027.5,274.5 C1027.5,274.8 1027.5,275.2 1027.5,275.5 C1027.5,275.8 1027.5,276.2 1027.5,276.5 C1027.5,276.8 1027.5,277.2 1027.5,277.5 C1027.5,277.8 1027.5,278.2 1027.5,278.5 C1027.5,278.8 1027.5,279.2 1027.5,279.5 C1027.5,279.8 1027.5,280.2 1027.5,280.5 C1027.5,280.8 1027.5,281.2 1027.5,281.5 C1027.5,281.8 1027.5,282.2 1027.5,282.5 C1027.5,282.8 1027.5,283.2 1027.5,283.5 C1027.5,283.8 1027.5,284.2 1027.5,284.5 C1027.5,284.8 1027.5,285.2 1027.5,285.5 C1027.5,285.8 1027.5,286.2 1027.5,286.5 C1027.5,286.8 1027.5,287.2 1027.5,287.5 C1027.5,287.8 1027.5,288.2 1027.6,288.5 C1027.6,288.8 1027.7,289.2 1027.8,289.5 C1027.8,289.8 1027.9,290.2 1028,290.5 C1028.1,290.8 1028.1,291.2 1028.2,291.5 C1028.3,291.8 1028.4,292.2 1028.4,292.5 C1028.5,292.8 1028.6,293.2 1028.7,293.5 C1028.8,293.8 1028.8,294.2 1028.9,294.5 C1028.9,294.8 1028.9,295.2 1028.9,295.5 C1028.8,295.8 1028.7,296.2 1028.6,296.5 C1028.5,296.8 1028.3,297.2 1028.2,297.5 C1028.1,297.8 1028,298.2 1028,298.5 C1027.9,298.8 1027.9,299.2 1027.9,299.5 C1027.9,299.8 1028,300.2 1028.1,300.5 C1028.2,300.8 1028.3,301.2 1028.4,301.5 C1028.5,301.8 1028.6,302.2 1028.7,302.5 C1028.8,302.8 1028.9,303.2 1029,303.5 C1029.1,303.8 1029.2,304.2 1029.3,304.5 C1029.4,304.8 1029.5,305.2 1029.6,305.5 C1029.7,305.8 1029.8,306.2 1029.9,306.5 C1029.9,306.8 1030,307.2 1030,307.5 C1030,307.8 1030,308.2 1029.9,308.5 C1029.8,308.8 1029.7,309.2 1029.6,309.5 C1029.4,309.8 1029.3,310.2 1029.1,310.5 C1029,310.8 1028.8,311.2 1028.7,311.5 C1028.6,311.8 1028.4,312.2 1028.3,312.5 C1028.1,312.8 1027.9,313.2 1027.8,313.5 C1027.7,313.8 1027.6,314.2 1027.5,314.5 C1027.5,314.8 1027.5,315.2 1027.5,315.5 C1027.6,315.8 1027.6,316.2 1027.7,316.5 C1027.8,316.8 1027.8,317.2 1027.9,317.5 C1028,317.8 1028,318.2 1028.1,318.5 C1028.2,318.8 1028.2,319.2 1028.3,319.5 C1028.4,319.8 1028.5,320.2 1028.5,320.5 C1028.6,320.8 1028.7,321.2 1028.7,321.5 C1028.8,321.8 1028.8,322.2 1028.8,322.5 C1028.8,322.8 1028.8,323.2 1028.7,323.5 C1028.7,323.8 1028.6,324.2 1028.5,324.5 C1028.4,324.8 1028.3,325.2 1028.2,325.5 C1028.1,325.8 1028.1,326.2 1028,326.5 C1027.9,326.8 1027.9,327.2 1027.8,327.5 C1027.8,327.8 1027.7,328.2 1027.7,328.5 C1027.6,328.8 1027.6,329.2 1027.6,329.5 C1027.5,329.8 1027.5,330.2 1027.5,330.5 C1027.5,330.8 1027.5,331.2 1027.5,331.5 C1027.5,331.8 1027.5,332.2 1027.5,332.5 C1027.5,332.8 1027.5,333.2 1027.5,333.5 C1027.5,333.8 1027.5,334.2 1027.5,334.5 C1027.5,334.8 1027.5,335.2 1027.5,335.5 C1027.5,335.8 1027.5,336.2 1027.5,336.5 C1027.5,336.8 1027.5,337.2 1027.5,337.5 C1027.5,337.8 1027.5,338.2 1027.5,338.5 C1027.5,338.8 1027.5,339.2 1027.5,339.5 C1027.5,339.8 1027.5,340.2 1027.5,340.5 C1027.5,340.8 1027.5,341.2 1027.5,341.5 C1027.5,341.8 1027.5,342.2 1027.5,342.5 C1027.5,342.8 1027.5,343.2 1027.6,343.5 C1027.6,343.8 1027.7,344.2 1027.8,344.5 C1027.9,344.8 1028,345.2 1028.1,345.5 C1028.2,345.8 1028.2,346.2 1028.3,346.5 C1028.4,346.8 1028.5,347.2 1028.6,347.5 C1028.7,347.8 1028.7,348.2 1028.8,348.5 C1028.8,348.8 1028.8,349.2 1028.8,349.5 C1028.7,349.8 1028.6,350.2 1028.5,350.5 C1028.5,350.8 1028.3,351.2 1028.2,351.5 C1028.1,351.8 1028.1,352.2 1028,352.5 C1027.9,352.8 1027.9,353.2 1027.8,353.5 C1027.8,353.8 1027.7,354.2 1027.7,354.5 C1027.6,354.8 1027.6,355.2 1027.6,355.5 C1027.5,355.8 1027.5,356.2 1027.5,356.5 C1027.5,356.8 1027.5,357.2 1027.5,357.5 C1027.5,357.8 1027.6,358.2 1027.6,358.5 C1027.6,358.8 1027.7,359.2 1027.7,359.5 C1027.8,359.8 1027.8,360.2 1027.9,360.5 C1027.9,360.8 1028,361.2 1028.1,361.5 C1028.1,361.8 1028.2,362.2 1028.3,362.5 C1028.4,362.8 1028.5,363.2 1028.6,363.5 C1028.7,363.8 1028.9,364.2 1029,364.5 C1029.1,364.8 1029.2,365.2 1029.3,365.5 C1029.4,365.8 1029.5,366.2 1029.5,366.5 C1029.6,366.8 1029.7,367.2 1029.7,367.5 C1029.7,367.8 1029.8,368.2 1029.8,368.5 C1029.8,368.8 1029.8,369.2 1029.8,369.5 C1029.7,369.8 1029.7,370.2 1029.7,370.5 C1029.6,370.8 1029.6,371.2 1029.5,371.5 C1029.5,371.8 1029.4,372.2 1029.4,372.5 C1029.3,372.8 1029.3,373.2 1029.2,373.5 C1029.2,373.8 1029.1,374.2 1029.1,374.5 C1029.1,374.8 1029,375.2 1029,375.5 C1029,375.8 1029,376.2 1029,376.5 C1029,376.8 1029,377.2 1029,377.5 C1029,377.8 1029,378.2 1029.1,378.5 C1029.1,378.8 1029.2,379.2 1029.3,379.5 C1029.4,379.8 1029.6,380.2 1029.7,380.5 C1029.9,380.8 1030,381.2 1030.1,381.5 C1030.2,381.8 1030.3,382.2 1030.3,382.5 C1030.4,382.8 1030.5,383.2 1030.5,383.5 C1030.6,383.8 1030.6,384.2 1030.6,384.5 C1030.7,384.8 1030.7,385.2 1030.7,385.5 C1030.7,385.8 1030.7,386.2 1030.7,386.5 C1030.7,386.8 1030.8,387.2 1030.8,387.5 C1030.8,387.8 1030.8,388.2 1030.8,388.5 C1030.8,388.8 1030.8,389.2 1030.8,389.5 C1030.8,389.8 1030.8,390.2 1030.8,390.5 C1030.7,390.8 1030.7,391.2 1030.7,391.5 C1030.7,391.8 1030.7,392.2 1030.7,392.5 C1030.6,392.8 1030.6,393.3 1030.6,393.5" fill="#fdbcde" stroke="#cc0066" stroke-width="3" stroke-linejoin="round" stroke-linecap="butt"/>
<path d="M1197.55,407.8 C1197.5,408.1 1197.4,409.1 1197.3,409.8 C1197.2,410.5 1197.1,411.1 1197,411.8 C1197,412.5 1196.9,413.1 1196.8,413.8 C1196.7,414.5 1196.7,415.1 1196.6,415.8 C1196.6,416.4 1196.5,417.1 1196.4,417.8 C1196.4,418.4 1196.3,419.1 1196.3,419.8 C1196.2,420.4 1196.2,421.1 1196.1,421.8 C1196.1,422.4 1196.1,423.1 1196.1,423.8 C1196.1,424.4 1196.1,425.1 1196.2,425.8 C1196.2,426.4 1196.2,427.1 1196.3,427.8 C1196.4,428.4 1196.4,429.1 1196.5,429.7 C1196.6,430.4 1196.7,431.1 1196.8,431.7 C1196.9,432.4 1197,433.1 1197,433.7 C1197.1,434.4 1197.2,435.1 1197.3,435.7 C1197.4,436.4 1197.5,437.1 1197.6,437.7 C1197.8,438.4 1197.9,439.1 1198,439.7 C1198.1,440.4 1198.2,441.1 1198.3,441.7 C1198.4,442.4 1198.5,443 1198.6,443.7 C1198.6,444.4 1198.7,445 1198.8,445.7 C1198.8,446.4 1198.9,447 1198.9,447.7 C1199,448.4 1199,449 1199,449.7 C1199.1,450.4 1199.1,451 1199,451.7 C1199,452.4 1199,453 1199,453.7 C1198.9,454.4 1198.9,455 1198.8,455.7 C1198.8,456.3 1198.7,457 1198.6,457.7 C1198.6,458.3 1198.5,459 1198.4,459.7 C1198.4,460.3 1198.3,461 1198.2,461.7 C1198.1,462.3 1198,463 1197.9,463.7 C1197.8,464.3 1197.7,465 1197.6,465.7 C1197.5,466.3 1197.4,467 1197.3,467.6 C1197.2,468.3 1197.1,469 1197,469.6 C1196.9,470.3 1196.8,471 1196.7,471.6 C1196.6,472.3 1196.6,473 1196.5,473.6 C1196.5,474.3 1196.5,475 1196.4,475.6 C1196.4,476.3 1196.4,477 1196.4,477.6 C1196.3,478.3 1196.3,479 1196.3,479.6 C1196.3,480.3 1196.3,480.9 1196.3,481.6 C1196.2,482.3 1196.2,482.9 1196.2,483.6 C1196.2,484.3 1196.1,484.9 1196.1,485.6 C1196.1,486.3 1196,486.9 1196,487.6 C1195.9,488.3 1195.9,488.9 1195.9,489.6 C1195.8,490.3 1195.8,490.9 1195.7,491.6 C1195.6,492.3 1195.6,492.9 1195.5,493.6 C1195.5,494.3 1195.4,494.9 1195.3,495.6 C1195.2,496.2 1195.1,496.9 1195,497.6 C1195,498.2 1194.8,498.9 1194.7,499.6 C1194.6,500.2 1194.5,500.9 1194.4,501.6 C1194.3,502.2 1194.2,502.9 1194.1,503.6 C1193.9,504.2 1193.8,504.9 1193.7,505.6 C1193.6,506.2 1193.5,506.9 1193.4,507.6 C1193.3,508.2 1193.2,508.9 1193.1,509.5 C1193,510.2 1192.8,510.9 1192.7,511.5 C1192.6,512.2 1192.5,512.9 1192.4,513.5 C1192.3,514.2 1192.2,514.9 1192.1,515.5 C1191.9,516.2 1191.8,516.9 1191.7,517.5 C1191.6,518.2 1191.5,518.9 1191.4,519.5 C1191.3,520.2 1191.2,520.9 1191.1,521.5 C1191,522.2 1190.9,522.8 1190.9,523.5 C1190.8,524.2 1190.8,524.8 1190.7,525.5 C1190.7,526.2 1190.6,526.8 1190.5,527.5 C1190.5,528.2 1190.4,528.8 1190.3,529.5 C1190.2,530.2 1190.2,530.8 1190.1,531.5 C1190,532.2 1189.9,532.8 1189.8,533.5 C1189.8,534.1 1189.7,534.8 1189.6,535.5 C1189.5,536.1 1189.4,536.8 1189.3,537.5 C1189.2,538.1 1189.1,538.8 1189,539.5 C1188.9,540.1 1188.8,540.8 1188.7,541.5 C1188.6,542.1 1188.4,542.8 1188.3,543.5 C1188.2,544.1 1188.1,544.8 1187.9,545.5 C1187.8,546.1 1187.7,546.8 1187.5,547.5 C1187.4,548.1 1187.3,548.8 1187.1,549.4 C1187,550.1 1186.9,550.8 1186.7,551.4 C1186.6,552.1 1186.5,552.8 1186.3,553.4 C1186.2,554.1 1186.1,554.8 1185.9,555.4 C1185.8,556.1 1185.7,556.8 1185.6,557.4 C1185.4,558.1 1185.3,558.8 1185.2,559.4 C1185.1,560.1 1184.9,560.8 1184.8,561.4 C1184.7,562.1 1184.5,562.7 1184.4,563.4 C1184.3,564.1 1184.1,564.7 1184,565.4 C1183.8,566.1 1183.7,566.7 1183.5,567.4 C1183.3,568.1 1183.2,568.7 1183,569.4 C1182.9,570.1 1182.8,570.7 1182.6,571.4 C1182.5,572.1 1182.4,572.7 1182.3,573.4 C1182.3,574 1182.2,574.7 1182.1,575.4 C1182.1,576 1182,576.7 1182,577.4 C1182,578 1181.9,578.7 1181.9,579.4 C1181.9,580 1181.8,580.7 1181.8,581.4 C1181.8,582 1181.7,582.7 1181.7,583.4 C1181.6,584 1181.6,584.7 1181.5,585.4 C1181.5,586 1181.4,586.7 1181.3,587.4 C1181.3,588 1181.2,588.7 1181.1,589.3 C1181,590 1181,590.7 1180.8,591.3 C1180.7,592 1180.6,592.7 1180.5,593.3 C1180.3,594 1180.2,594.7 1180,595.3 C1179.8,596 1179.6,596.7 1179.4,597.3 C1179.2,598 1178.9,598.7 1178.7,599.3 C1178.5,600 1178.2,600.7 1178,601.3 C1177.7,602 1177.5,602.6 1177.2,603.3 C1177,604 1176.8,604.6 1176.5,605.3 C1176.3,606 1176,606.6 1175.7,607.3 C1175.5,608 1175.2,608.6 1174.9,609.3 C1174.6,610 1174.4,610.6 1174.1,611.3 C1173.9,612 1173.7,612.6 1173.5,613.3 C1173.3,613.9 1173.1,614.6 1172.9,615.3 C1172.8,615.9 1172.6,616.6 1172.4,617.3 C1172.2,617.9 1172,618.6 1171.8,619.3 C1171.6,619.9 1171.4,620.6 1171.2,621.3 C1171,621.9 1170.8,622.6 1170.6,623.3 C1170.4,623.9 1170.2,624.6 1170,625.3 C1169.9,625.9 1169.7,626.6 1169.5,627.2 C1169.3,627.9 1169.2,628.6 1169,629.2 C1168.8,629.9 1168.6,630.6 1168.4,631.2 C1168.1,631.9 1167.8,632.6 1167.4,633.2 C1167,633.9 1166.5,634.6 1166,635.2 C1165.5,635.9 1165,636.6 1164.5,637.2 C1163.9,637.9 1163.4,638.6 1162.8,639.2 C1162.2,639.9 1161.6,640.6 1160.9,641.2 C1160.3,641.9 1159.7,642.5 1159.1,643.2 C1158.4,643.9 1157.8,644.5 1157.2,645.2 C1156.6,645.9 1155.9,646.5 1155.3,647.2 C1154.7,647.9 1154.1,648.5 1153.6,649.2 C1153.1,649.9 1152.6,650.5 1152.1,651.2 C1151.6,651.9 1151.2,652.5 1150.8,653.2 C1150.4,653.8 1150,654.5 1149.6,655.2 C1149.3,655.8 1149,656.5 1148.7,657.2 C1148.4,657.8 1148.1,658.5 1147.9,659.2 C1147.6,659.8 1147.3,660.5 1147.2,661.2 C1147,661.8 1146.9,662.5 1146.8,663.2 C1146.7,663.8 1146.7,664.5 1146.7,665.2 C1146.7,665.8 1146.7,666.5 1146.7,667.1 C1146.7,667.8 1146.8,668.5 1146.9,669.1 C1147,669.8 1147.1,670.5 1147.2,671.1 C1147.4,671.8 1147.5,672.5 1147.8,673.1 C1148.1,673.8 1148.5,674.5 1149,675.1 C1149.5,675.8 1150.1,676.5 1150.6,677.1 C1151.2,677.8 1151.8,678.5 1152.4,679.1 C1153.1,679.8 1153.9,680.5 1154.6,681.1 C1155.4,681.8 1156.2,682.4 1157,683.1 C1157.8,683.8 1158.6,684.4 1159.4,685.1 C1160.3,685.8 1161.1,686.4 1162,687.1 C1162.9,687.8 1163.8,688.4 1164.8,689.1 C1165.7,689.8 1166.7,690.4 1167.8,691.1 C1168.8,691.8 1169.9,692.4 1171,693.1 C1172,693.8 1173.1,694.4 1174.2,695.1 C1175.3,695.7 1176.4,696.4 1177.4,697.1 C1178.5,697.7 1179.6,698.4 1180.7,699.1 C1181.7,699.7 1182.7,700.4 1183.8,701.1 C1184.8,701.7 1185.7,702.4 1186.7,703.1 C1187.7,703.7 1188.6,704.4 1189.5,705.1 C1190.3,705.7 1191.2,706.4 1192,707 C1192.8,707.7 1193.6,708.4 1194.3,709 C1195.1,709.7 1195.8,710.4 1196.4,711 C1197,711.7 1197.4,712.4 1197.9,713 C1198.4,713.7 1198.9,714.4 1199.3,715 C1199.7,715.7 1200,716.4 1200.3,717 C1200.5,717.7 1200.7,718.4 1200.9,719 C1201.1,719.7 1201.3,720.4 1201.4,721 C1201.6,721.7 1201.8,722.3 1201.9,723 C1202.1,723.7 1202.2,724.3 1202.3,725 C1202.5,725.7 1202.6,726.7 1202.7,727 L1202.7,727 C1202.8,726.7 1202.9,725.7 1203.1,725 C1203.2,724.3 1203.3,723.7 1203.5,723 C1203.6,722.3 1203.8,721.7 1204,721 C1204.1,720.4 1204.3,719.7 1204.5,719 C1204.7,718.4 1204.9,717.7 1205.1,717 C1205.4,716.4 1205.7,715.7 1206.1,715 C1206.5,714.4 1207,713.7 1207.5,713 C1208,712.4 1208.4,711.7 1209,711 C1209.6,710.4 1210.3,709.7 1211.1,709 C1211.8,708.4 1212.6,707.7 1213.4,707 C1214.2,706.4 1215.1,705.7 1215.9,705.1 C1216.8,704.4 1217.7,703.7 1218.7,703.1 C1219.7,702.4 1220.6,701.7 1221.6,701.1 C1222.7,700.4 1223.7,699.7 1224.7,699.1 C1225.8,698.4 1226.9,697.7 1228,697.1 C1229,696.4 1230.1,695.7 1231.2,695.1 C1232.3,694.4 1233.4,693.8 1234.4,693.1 C1235.5,692.4 1236.6,691.8 1237.6,691.1 C1238.7,690.4 1239.7,689.8 1240.6,689.1 C1241.6,688.4 1242.5,687.8 1243.4,687.1 C1244.3,686.4 1245.1,685.8 1246,685.1 C1246.8,684.4 1247.6,683.8 1248.4,683.1 C1249.2,682.4 1250,681.8 1250.8,681.1 C1251.5,680.5 1252.3,679.8 1253,679.1 C1253.6,678.5 1254.2,677.8 1254.8,677.1 C1255.3,676.5 1255.9,675.8 1256.4,675.1 C1256.9,674.5 1257.3,673.8 1257.6,673.1 C1257.9,672.5 1258,671.8 1258.2,671.1 C1258.3,670.5 1258.4,669.8 1258.5,669.1 C1258.6,668.5 1258.7,667.8 1258.7,667.1 C1258.7,666.5 1258.7,665.8 1258.7,665.2 C1258.7,664.5 1258.7,663.8 1258.6,663.2 C1258.5,662.5 1258.4,661.8 1258.2,661.2 C1258.1,660.5 1257.8,659.8 1257.5,659.2 C1257.3,658.5 1257,657.8 1256.7,657.2 C1256.4,656.5 1256.1,655.8 1255.8,655.2 C1255.4,654.5 1255,653.8 1254.6,653.2 C1254.2,652.5 1253.8,651.9 1253.3,651.2 C1252.8,650.5 1252.3,649.9 1251.8,649.2 C1251.3,648.5 1250.7,647.9 1250.1,647.2 C1249.5,646.5 1248.8,645.9 1248.2,645.2 C1247.6,644.5 1247,643.9 1246.3,643.2 C1245.7,642.5 1245.1,641.9 1244.5,641.2 C1243.8,640.6 1243.2,639.9 1242.6,639.2 C1242,638.6 1241.5,637.9 1240.9,637.2 C1240.4,636.6 1239.9,635.9 1239.4,635.2 C1238.9,634.6 1238.4,633.9 1238,633.2 C1237.6,632.6 1237.3,631.9 1237,631.2 C1236.8,630.6 1236.6,629.9 1236.4,629.2 C1236.2,628.6 1236.1,627.9 1235.9,627.2 C1235.7,626.6 1235.5,625.9 1235.4,625.3 C1235.2,624.6 1235,623.9 1234.8,623.3 C1234.6,622.6 1234.4,621.9 1234.2,621.3 C1234,620.6 1233.8,619.9 1233.6,619.3 C1233.4,618.6 1233.2,617.9 1233,617.3 C1232.8,616.6 1232.6,615.9 1232.5,615.3 C1232.3,614.6 1232.1,613.9 1231.9,613.3 C1231.7,612.6 1231.5,612 1231.3,611.3 C1231,610.6 1230.8,610 1230.5,609.3 C1230.2,608.6 1229.9,608 1229.7,607.3 C1229.4,606.6 1229.1,606 1228.9,605.3 C1228.6,604.6 1228.4,604 1228.2,603.3 C1227.9,602.6 1227.7,602 1227.4,601.3 C1227.2,600.7 1226.9,600 1226.7,599.3 C1226.5,598.7 1226.2,598 1226,597.3 C1225.8,596.7 1225.6,596 1225.4,595.3 C1225.2,594.7 1225.1,594 1224.9,593.3 C1224.8,592.7 1224.7,592 1224.6,591.3 C1224.4,590.7 1224.4,590 1224.3,589.3 C1224.2,588.7 1224.1,588 1224.1,587.4 C1224,586.7 1223.9,586 1223.9,585.4 C1223.8,584.7 1223.8,584 1223.7,583.4 C1223.7,582.7 1223.6,582 1223.6,581.4 C1223.6,580.7 1223.5,580 1223.5,579.4 C1223.5,578.7 1223.4,578 1223.4,577.4 C1223.4,576.7 1223.3,576 1223.3,575.4 C1223.2,574.7 1223.1,574 1223.1,573.4 C1223,572.7 1222.9,572.1 1222.8,571.4 C1222.6,570.7 1222.5,570.1 1222.4,569.4 C1222.2,568.7 1222.1,568.1 1221.9,567.4 C1221.7,566.7 1221.6,566.1 1221.4,565.4 C1221.3,564.7 1221.1,564.1 1221,563.4 C1220.9,562.7 1220.7,562.1 1220.6,561.4 C1220.5,560.8 1220.3,560.1 1220.2,559.4 C1220.1,558.8 1220,558.1 1219.8,557.4 C1219.7,556.8 1219.6,556.1 1219.5,555.4 C1219.3,554.8 1219.2,554.1 1219.1,553.4 C1218.9,552.8 1218.8,552.1 1218.7,551.4 C1218.5,550.8 1218.4,550.1 1218.3,549.4 C1218.1,548.8 1218,548.1 1217.9,547.5 C1217.7,546.8 1217.6,546.1 1217.5,545.5 C1217.3,544.8 1217.2,544.1 1217.1,543.5 C1217,542.8 1216.8,542.1 1216.7,541.5 C1216.6,540.8 1216.5,540.1 1216.4,539.5 C1216.3,538.8 1216.2,538.1 1216.1,537.5 C1216,536.8 1215.9,536.1 1215.8,535.5 C1215.7,534.8 1215.6,534.1 1215.6,533.5 C1215.5,532.8 1215.4,532.2 1215.3,531.5 C1215.2,530.8 1215.2,530.2 1215.1,529.5 C1215,528.8 1214.9,528.2 1214.9,527.5 C1214.8,526.8 1214.7,526.2 1214.7,525.5 C1214.6,524.8 1214.6,524.2 1214.5,523.5 C1214.5,522.8 1214.4,522.2 1214.3,521.5 C1214.2,520.9 1214.1,520.2 1214,519.5 C1213.9,518.9 1213.8,518.2 1213.7,517.5 C1213.6,516.9 1213.5,516.2 1213.3,515.5 C1213.2,514.9 1213.1,514.2 1213,513.5 C1212.9,512.9 1212.8,512.2 1212.7,511.5 C1212.6,510.9 1212.4,510.2 1212.3,509.5 C1212.2,508.9 1212.1,508.2 1212,507.6 C1211.9,506.9 1211.8,506.2 1211.7,505.6 C1211.6,504.9 1211.5,504.2 1211.3,503.6 C1211.2,502.9 1211.1,502.2 1211,501.6 C1210.9,500.9 1210.8,500.2 1210.7,499.6 C1210.6,498.9 1210.4,498.2 1210.4,497.6 C1210.3,496.9 1210.2,496.2 1210.1,495.6 C1210,494.9 1209.9,494.3 1209.9,493.6 C1209.8,492.9 1209.8,492.3 1209.7,491.6 C1209.6,490.9 1209.6,490.3 1209.5,489.6 C1209.5,488.9 1209.5,488.3 1209.4,487.6 C1209.4,486.9 1209.3,486.3 1209.3,485.6 C1209.3,484.9 1209.2,484.3 1209.2,483.6 C1209.2,482.9 1209.2,482.3 1209.1,481.6 C1209.1,480.9 1209.1,480.3 1209.1,479.6 C1209.1,479 1209.1,478.3 1209,477.6 C1209,477 1209,476.3 1209,475.6 C1208.9,475 1208.9,474.3 1208.9,473.6 C1208.8,473 1208.8,472.3 1208.7,471.6 C1208.6,471 1208.5,470.3 1208.4,469.6 C1208.3,469 1208.2,468.3 1208.1,467.6 C1208,467 1207.9,466.3 1207.8,465.7 C1207.7,465 1207.6,464.3 1207.5,463.7 C1207.4,463 1207.3,462.3 1207.2,461.7 C1207.1,461 1207,460.3 1207,459.7 C1206.9,459 1206.8,458.3 1206.8,457.7 C1206.7,457 1206.6,456.3 1206.6,455.7 C1206.5,455 1206.5,454.4 1206.4,453.7 C1206.4,453 1206.4,452.4 1206.4,451.7 C1206.3,451 1206.3,450.4 1206.4,449.7 C1206.4,449 1206.4,448.4 1206.5,447.7 C1206.5,447 1206.6,446.4 1206.6,445.7 C1206.7,445 1206.8,444.4 1206.8,443.7 C1206.9,443 1207,442.4 1207.1,441.7 C1207.2,441.1 1207.3,440.4 1207.4,439.7 C1207.5,439.1 1207.6,438.4 1207.8,437.7 C1207.9,437.1 1208,436.4 1208.1,435.7 C1208.2,435.1 1208.3,434.4 1208.4,433.7 C1208.4,433.1 1208.5,432.4 1208.6,431.7 C1208.7,431.1 1208.8,430.4 1208.9,429.7 C1209,429.1 1209,428.4 1209.1,427.8 C1209.2,427.1 1209.2,426.4 1209.2,425.8 C1209.3,425.1 1209.3,424.4 1209.3,423.8 C1209.3,423.1 1209.3,422.4 1209.3,421.8 C1209.2,421.1 1209.2,420.4 1209.1,419.8 C1209.1,419.1 1209,418.4 1209,417.8 C1208.9,417.1 1208.8,416.4 1208.8,415.8 C1208.7,415.1 1208.7,414.5 1208.6,413.8 C1208.5,413.1 1208.4,412.5 1208.4,411.8 C1208.3,411.1 1208.2,410.5 1208.1,409.8 C1208,409.1 1207.9,408.1 1207.9,407.8" fill="#fdbcde" stroke="#cc0066" stroke-width="3" stroke-linejoin="round" stroke-linecap="butt"/>
<line x1="1185.5" y1="563.9" x2="1219.9" y2="563.9" stroke="#ff0000" stroke-width="3"/>
<line x1="1169.57" y1="631.2" x2="1235.83" y2="631.2" stroke="#000" stroke-width="3"/>
<line x1="1147.88" y1="666.1" x2="1257.52" y2="666.1" stroke="#ff0000" stroke-width="3"/>
<path d="M1202.7,727 L1202.7,741.3" fill="none" stroke="#cc0066" stroke-width="3" stroke-linecap="round"/>
<path d="M1197.6,394 C1197.6,393.8 1197.7,393.3 1197.7,393 C1197.8,392.7 1197.9,392.3 1197.9,392 C1198,391.7 1198.1,391.3 1198.1,391 C1198.2,390.7 1198.3,390.3 1198.4,390 C1198.5,389.7 1198.6,389.3 1198.6,389 C1198.7,388.7 1198.8,388.3 1198.9,388 C1199,387.7 1199.1,387.3 1199.2,387 C1199.3,386.7 1199.4,386.4 1199.5,386 C1199.6,385.7 1199.8,385.4 1199.9,385 C1200,384.7 1200.1,384.4 1200.2,384 C1200.3,383.7 1200.4,383.4 1200.5,383 C1200.6,382.7 1200.7,382.4 1200.8,382 C1200.9,381.7 1201,381.4 1201.1,381 C1201.1,380.7 1201.2,380.4 1201.2,380 C1201.3,379.7 1201.3,379.4 1201.3,379 C1201.4,378.7 1201.4,378.4 1201.4,378 C1201.4,377.7 1201.5,377.4 1201.5,377 C1201.5,376.7 1201.5,376.4 1201.5,376 C1201.6,375.7 1201.6,375.4 1201.6,375 C1201.6,374.7 1201.6,374.4 1201.7,374 C1201.7,373.7 1201.7,373.4 1201.8,373.1 C1201.8,372.7 1201.8,372.4 1201.8,372.1 C1201.9,371.7 1201.9,371.4 1201.9,371.1 C1201.9,370.7 1201.9,370.4 1201.9,370.1 C1201.9,369.7 1201.8,369.4 1201.7,369.1 C1201.7,368.7 1201.6,368.4 1201.5,368.1 C1201.4,367.7 1201.3,367.4 1201.2,367.1 C1201.1,366.7 1201,366.4 1200.9,366.1 C1200.8,365.7 1200.7,365.4 1200.6,365.1 C1200.5,364.7 1200.4,364.4 1200.4,364.1 C1200.3,363.7 1200.3,363.4 1200.3,363.1 C1200.3,362.7 1200.4,362.4 1200.5,362.1 C1200.6,361.7 1200.7,361.4 1200.8,361.1 C1200.9,360.7 1201,360.4 1201.2,360.1 C1201.3,359.7 1201.4,359.4 1201.5,359.1 C1201.6,358.8 1201.7,358.4 1201.8,358.1 C1201.8,357.8 1201.9,357.4 1202,357.1 C1202.1,356.8 1202.2,356.4 1202.3,356.1 C1202.4,355.8 1202.4,355.4 1202.5,355.1 C1202.6,354.8 1202.6,354.4 1202.6,354.1 C1202.7,353.8 1202.7,353.4 1202.7,353.1 C1202.7,352.8 1202.7,352.4 1202.7,352.1 C1202.7,351.8 1202.7,351.4 1202.7,351.1 C1202.7,350.8 1202.7,350.4 1202.7,350.1 C1202.7,349.8 1202.7,349.4 1202.7,349.1 C1202.7,348.8 1202.7,348.4 1202.7,348.1 C1202.7,347.8 1202.7,347.4 1202.7,347.1 C1202.7,346.8 1202.7,346.4 1202.6,346.1 C1202.6,345.8 1202.6,345.4 1202.5,345.1 C1202.5,344.8 1202.4,344.5 1202.3,344.1 C1202.2,343.8 1202.2,343.5 1202.1,343.1 C1202,342.8 1201.9,342.5 1201.8,342.1 C1201.7,341.8 1201.6,341.5 1201.5,341.1 C1201.4,340.8 1201.3,340.5 1201.2,340.1 C1201.1,339.8 1201,339.5 1200.9,339.1 C1200.7,338.8 1200.6,338.5 1200.5,338.1 C1200.4,337.8 1200.3,337.5 1200.3,337.1 C1200.3,336.8 1200.3,336.5 1200.3,336.1 C1200.4,335.8 1200.4,335.5 1200.5,335.1 C1200.6,334.8 1200.7,334.5 1200.8,334.1 C1200.9,333.8 1201,333.5 1201.2,333.1 C1201.3,332.8 1201.4,332.5 1201.5,332.1 C1201.6,331.8 1201.6,331.5 1201.8,331.1 C1201.9,330.8 1202,330.5 1202.1,330.2 C1202.2,329.8 1202.3,329.5 1202.4,329.2 C1202.4,328.8 1202.5,328.5 1202.5,328.2 C1202.6,327.8 1202.6,327.5 1202.6,327.2 C1202.6,326.8 1202.6,326.5 1202.6,326.2 C1202.5,325.8 1202.5,325.5 1202.5,325.2 C1202.5,324.8 1202.4,324.5 1202.4,324.2 C1202.4,323.8 1202.3,323.5 1202.3,323.2 C1202.2,322.8 1202.2,322.5 1202.1,322.2 C1202.1,321.8 1202,321.5 1201.9,321.2 C1201.8,320.8 1201.7,320.5 1201.7,320.2 C1201.6,319.8 1201.5,319.5 1201.4,319.2 C1201.4,318.8 1201.4,318.5 1201.4,318.2 C1201.4,317.8 1201.5,317.5 1201.5,317.2 C1201.6,316.9 1201.6,316.5 1201.7,316.2 C1201.8,315.9 1201.8,315.5 1201.9,315.2 C1202,314.9 1202.1,314.5 1202.1,314.2 C1202.2,313.9 1202.2,313.5 1202.3,313.2 C1202.3,312.9 1202.3,312.5 1202.4,312.2 C1202.4,311.9 1202.4,311.5 1202.5,311.2 C1202.5,310.9 1202.5,310.5 1202.6,310.2 C1202.6,309.9 1202.6,309.5 1202.6,309.2 C1202.7,308.9 1202.7,308.5 1202.7,308.2 C1202.7,307.9 1202.7,307.5 1202.7,307.2 C1202.7,306.9 1202.7,306.5 1202.7,306.2 C1202.7,305.9 1202.6,305.5 1202.6,305.2 C1202.5,304.9 1202.5,304.5 1202.4,304.2 C1202.4,303.9 1202.3,303.5 1202.2,303.2 C1202.2,302.9 1202.1,302.6 1202,302.2 C1202,301.9 1201.9,301.6 1201.9,301.2 C1201.9,300.9 1202,300.6 1202,300.2 C1202.1,299.9 1202.2,299.6 1202.3,299.2 C1202.4,298.9 1202.5,298.6 1202.6,298.2 C1202.7,297.9 1202.7,297.6 1202.7,297.2 C1202.7,296.9 1202.7,296.6 1202.7,296.2 C1202.7,295.9 1202.7,295.6 1202.7,295.2 C1202.7,294.9 1202.7,294.6 1202.7,294.2 C1202.7,293.9 1202.7,293.6 1202.7,293.2 C1202.7,292.9 1202.7,292.6 1202.7,292.2 C1202.7,291.9 1202.7,291.6 1202.7,291.2 C1202.7,290.9 1202.7,290.6 1202.7,290.2 C1202.7,289.9 1202.7,289.6 1202.7,289.2 C1202.7,288.9 1202.7,288.6 1202.7,288.3 C1202.7,287.9 1202.7,287.6 1202.7,287.3 C1202.7,286.9 1202.7,286.6 1202.7,286.3 C1202.7,285.9 1202.7,285.6 1202.7,285.3 C1202.7,284.9 1202.7,284.6 1202.6,284.3 C1202.6,283.9 1202.5,283.6 1202.5,283.3 C1202.4,282.9 1202.4,282.6 1202.3,282.3 C1202.3,281.9 1202.2,281.6 1202.2,281.3 C1202.1,280.9 1202.1,280.6 1202,280.3 C1202,279.9 1201.9,279.6 1201.9,279.3 C1201.9,278.9 1201.9,278.6 1201.9,278.3 C1201.9,277.9 1201.9,277.6 1202,277.3 C1202,276.9 1202,276.6 1202.1,276.3 C1202.1,275.9 1202.1,275.6 1202.2,275.3 C1202.2,275 1202.2,274.6 1202.3,274.3 C1202.3,274 1202.4,273.6 1202.4,273.3 C1202.5,273 1202.6,272.6 1202.6,272.3 C1202.6,272 1202.7,271.6 1202.7,271.3 C1202.7,271 1202.7,270.6 1202.7,270.3 C1202.7,270 1202.7,269.6 1202.7,269.3 C1202.7,269 1202.7,268.5 1202.7,268.3 L1202.7,268.3 C1202.7,268.5 1202.7,269 1202.7,269.3 C1202.7,269.6 1202.7,270 1202.7,270.3 C1202.7,270.6 1202.7,271 1202.7,271.3 C1202.7,271.6 1202.8,272 1202.8,272.3 C1202.8,272.6 1202.9,273 1203,273.3 C1203,273.6 1203.1,274 1203.1,274.3 C1203.2,274.6 1203.2,275 1203.2,275.3 C1203.3,275.6 1203.3,275.9 1203.3,276.3 C1203.4,276.6 1203.4,276.9 1203.4,277.3 C1203.5,277.6 1203.5,277.9 1203.5,278.3 C1203.5,278.6 1203.5,278.9 1203.5,279.3 C1203.5,279.6 1203.4,279.9 1203.4,280.3 C1203.3,280.6 1203.3,280.9 1203.2,281.3 C1203.2,281.6 1203.1,281.9 1203.1,282.3 C1203,282.6 1203,282.9 1202.9,283.3 C1202.9,283.6 1202.8,283.9 1202.8,284.3 C1202.7,284.6 1202.7,284.9 1202.7,285.3 C1202.7,285.6 1202.7,285.9 1202.7,286.3 C1202.7,286.6 1202.7,286.9 1202.7,287.3 C1202.7,287.6 1202.7,287.9 1202.7,288.3 C1202.7,288.6 1202.7,288.9 1202.7,289.2 C1202.7,289.6 1202.7,289.9 1202.7,290.2 C1202.7,290.6 1202.7,290.9 1202.7,291.2 C1202.7,291.6 1202.7,291.9 1202.7,292.2 C1202.7,292.6 1202.7,292.9 1202.7,293.2 C1202.7,293.6 1202.7,293.9 1202.7,294.2 C1202.7,294.6 1202.7,294.9 1202.7,295.2 C1202.7,295.6 1202.7,295.9 1202.7,296.2 C1202.7,296.6 1202.7,296.9 1202.7,297.2 C1202.7,297.6 1202.7,297.9 1202.8,298.2 C1202.9,298.6 1203,298.9 1203.1,299.2 C1203.2,299.6 1203.3,299.9 1203.4,300.2 C1203.4,300.6 1203.5,300.9 1203.5,301.2 C1203.5,301.6 1203.4,301.9 1203.4,302.2 C1203.3,302.6 1203.2,302.9 1203.2,303.2 C1203.1,303.5 1203,303.9 1203,304.2 C1202.9,304.5 1202.9,304.9 1202.8,305.2 C1202.8,305.5 1202.7,305.9 1202.7,306.2 C1202.7,306.5 1202.7,306.9 1202.7,307.2 C1202.7,307.5 1202.7,307.9 1202.7,308.2 C1202.7,308.5 1202.7,308.9 1202.8,309.2 C1202.8,309.5 1202.8,309.9 1202.8,310.2 C1202.9,310.5 1202.9,310.9 1202.9,311.2 C1203,311.5 1203,311.9 1203,312.2 C1203.1,312.5 1203.1,312.9 1203.1,313.2 C1203.2,313.5 1203.2,313.9 1203.3,314.2 C1203.3,314.5 1203.4,314.9 1203.5,315.2 C1203.6,315.5 1203.6,315.9 1203.7,316.2 C1203.8,316.5 1203.8,316.9 1203.9,317.2 C1203.9,317.5 1204,317.8 1204,318.2 C1204,318.5 1204,318.8 1204,319.2 C1203.9,319.5 1203.8,319.8 1203.7,320.2 C1203.7,320.5 1203.6,320.8 1203.5,321.2 C1203.4,321.5 1203.3,321.8 1203.3,322.2 C1203.2,322.5 1203.2,322.8 1203.1,323.2 C1203.1,323.5 1203,323.8 1203,324.2 C1203,324.5 1202.9,324.8 1202.9,325.2 C1202.9,325.5 1202.9,325.8 1202.8,326.2 C1202.8,326.5 1202.8,326.8 1202.8,327.2 C1202.8,327.5 1202.8,327.8 1202.9,328.2 C1202.9,328.5 1203,328.8 1203,329.2 C1203.1,329.5 1203.2,329.8 1203.3,330.2 C1203.4,330.5 1203.5,330.8 1203.6,331.1 C1203.8,331.5 1203.8,331.8 1203.9,332.1 C1204,332.5 1204.1,332.8 1204.2,333.1 C1204.4,333.5 1204.5,333.8 1204.6,334.1 C1204.7,334.5 1204.8,334.8 1204.9,335.1 C1205,335.5 1205,335.8 1205.1,336.1 C1205.1,336.5 1205.1,336.8 1205.1,337.1 C1205.1,337.5 1205,337.8 1204.9,338.1 C1204.8,338.5 1204.7,338.8 1204.5,339.1 C1204.4,339.5 1204.3,339.8 1204.2,340.1 C1204.1,340.5 1204,340.8 1203.9,341.1 C1203.8,341.5 1203.7,341.8 1203.6,342.1 C1203.5,342.5 1203.4,342.8 1203.3,343.1 C1203.2,343.5 1203.2,343.8 1203.1,344.1 C1203,344.5 1202.9,344.8 1202.9,345.1 C1202.8,345.4 1202.8,345.8 1202.8,346.1 C1202.7,346.4 1202.7,346.8 1202.7,347.1 C1202.7,347.4 1202.7,347.8 1202.7,348.1 C1202.7,348.4 1202.7,348.8 1202.7,349.1 C1202.7,349.4 1202.7,349.8 1202.7,350.1 C1202.7,350.4 1202.7,350.8 1202.7,351.1 C1202.7,351.4 1202.7,351.8 1202.7,352.1 C1202.7,352.4 1202.7,352.8 1202.7,353.1 C1202.7,353.4 1202.7,353.8 1202.8,354.1 C1202.8,354.4 1202.8,354.8 1202.9,355.1 C1203,355.4 1203,355.8 1203.1,356.1 C1203.2,356.4 1203.3,356.8 1203.4,357.1 C1203.5,357.4 1203.6,357.8 1203.6,358.1 C1203.7,358.4 1203.8,358.8 1203.9,359.1 C1204,359.4 1204.1,359.7 1204.2,360.1 C1204.4,360.4 1204.5,360.7 1204.6,361.1 C1204.7,361.4 1204.8,361.7 1204.9,362.1 C1205,362.4 1205.1,362.7 1205.1,363.1 C1205.1,363.4 1205.1,363.7 1205,364.1 C1205,364.4 1204.9,364.7 1204.8,365.1 C1204.7,365.4 1204.6,365.7 1204.5,366.1 C1204.4,366.4 1204.3,366.7 1204.2,367.1 C1204.1,367.4 1204,367.7 1203.9,368.1 C1203.8,368.4 1203.7,368.7 1203.7,369.1 C1203.6,369.4 1203.5,369.7 1203.5,370.1 C1203.5,370.4 1203.5,370.7 1203.5,371.1 C1203.5,371.4 1203.5,371.7 1203.6,372.1 C1203.6,372.4 1203.6,372.7 1203.6,373.1 C1203.7,373.4 1203.7,373.7 1203.7,374 C1203.8,374.4 1203.8,374.7 1203.8,375 C1203.8,375.4 1203.8,375.7 1203.9,376 C1203.9,376.4 1203.9,376.7 1203.9,377 C1203.9,377.4 1204,377.7 1204,378 C1204,378.4 1204,378.7 1204.1,379 C1204.1,379.4 1204.1,379.7 1204.2,380 C1204.2,380.4 1204.3,380.7 1204.3,381 C1204.4,381.4 1204.5,381.7 1204.6,382 C1204.7,382.4 1204.8,382.7 1204.9,383 C1205,383.4 1205.1,383.7 1205.2,384 C1205.3,384.4 1205.4,384.7 1205.5,385 C1205.6,385.4 1205.8,385.7 1205.9,386 C1206,386.4 1206.1,386.7 1206.2,387 C1206.3,387.3 1206.4,387.7 1206.5,388 C1206.6,388.3 1206.7,388.7 1206.8,389 C1206.8,389.3 1206.9,389.7 1207,390 C1207.1,390.3 1207.2,390.7 1207.3,391 C1207.3,391.3 1207.4,391.7 1207.5,392 C1207.5,392.3 1207.6,392.7 1207.7,393 C1207.7,393.3 1207.8,393.8 1207.8,394" fill="#fdbcde" stroke="#cc0066" stroke-width="3" stroke-linejoin="round" stroke-linecap="butt"/>
<path d="M1378.2,427.9 C1378.2,428.2 1378.2,429.2 1378.2,429.9 C1378.2,430.6 1378.2,431.2 1378.2,431.9 C1378.2,432.6 1378.2,433.2 1378.2,433.9 C1378.2,434.6 1378.2,435.2 1378.2,435.9 C1378.2,436.6 1378.2,437.2 1378.2,437.9 C1378.2,438.6 1378.2,439.2 1378.2,439.9 C1378.2,440.6 1378.2,441.2 1378.2,441.9 C1378.2,442.6 1378.2,443.2 1378.2,443.9 C1378.2,444.6 1378.1,445.2 1378.1,445.9 C1378,446.6 1378,447.2 1377.9,447.9 C1377.9,448.6 1377.8,449.2 1377.7,449.9 C1377.6,450.6 1377.5,451.2 1377.4,451.9 C1377.3,452.6 1377.2,453.2 1377,453.9 C1376.9,454.6 1376.8,455.2 1376.6,455.9 C1376.5,456.6 1376.4,457.2 1376.2,457.9 C1376.1,458.6 1375.9,459.2 1375.7,459.9 C1375.6,460.6 1375.4,461.2 1375.2,461.9 C1375,462.6 1374.8,463.2 1374.6,463.9 C1374.4,464.6 1374.2,465.2 1374,465.9 C1373.8,466.6 1373.6,467.2 1373.3,467.9 C1373.1,468.6 1372.8,469.2 1372.6,469.9 C1372.3,470.6 1372,471.2 1371.7,471.9 C1371.5,472.6 1371.2,473.2 1370.9,473.9 C1370.6,474.6 1370.3,475.2 1370,475.9 C1369.7,476.6 1369.4,477.3 1369.1,477.9 C1368.8,478.6 1368.5,479.3 1368.2,479.9 C1367.9,480.6 1367.6,481.3 1367.3,481.9 C1367,482.6 1366.7,483.3 1366.4,483.9 C1366.1,484.6 1365.8,485.3 1365.6,485.9 C1365.3,486.6 1365,487.3 1364.7,487.9 C1364.4,488.6 1364.2,489.3 1363.9,489.9 C1363.6,490.6 1363.3,491.3 1363.1,491.9 C1362.8,492.6 1362.6,493.3 1362.3,493.9 C1362,494.6 1361.8,495.3 1361.5,495.9 C1361.3,496.6 1361,497.3 1360.8,497.9 C1360.6,498.6 1360.4,499.3 1360.2,499.9 C1360,500.6 1359.8,501.3 1359.6,501.9 C1359.4,502.6 1359.3,503.3 1359.1,503.9 C1358.9,504.6 1358.8,505.3 1358.7,505.9 C1358.5,506.6 1358.4,507.3 1358.4,507.9 C1358.3,508.6 1358.2,509.3 1358.2,509.9 C1358.1,510.6 1358,511.3 1358,511.9 C1358,512.6 1357.9,513.3 1357.9,513.9 C1358,514.6 1358,515.3 1358,515.9 C1358.1,516.6 1358.2,517.3 1358.3,517.9 C1358.3,518.6 1358.4,519.3 1358.5,519.9 C1358.6,520.6 1358.7,521.3 1358.8,521.9 C1358.8,522.6 1358.9,523.3 1359,523.9 C1359.1,524.6 1359.1,525.3 1359.2,525.9 C1359.2,526.6 1359.3,527.3 1359.4,527.9 C1359.4,528.6 1359.5,529.3 1359.6,529.9 C1359.6,530.6 1359.7,531.3 1359.8,531.9 C1359.8,532.6 1359.9,533.3 1360,533.9 C1360,534.6 1360.1,535.3 1360.2,535.9 C1360.3,536.6 1360.3,537.3 1360.4,537.9 C1360.5,538.6 1360.5,539.3 1360.6,539.9 C1360.7,540.6 1360.8,541.3 1360.8,541.9 C1360.9,542.6 1360.9,543.3 1361,543.9 C1361,544.6 1361.1,545.3 1361.1,545.9 C1361.1,546.6 1361.1,547.3 1361.1,547.9 C1361.2,548.6 1361.2,549.3 1361.1,549.9 C1361.1,550.6 1361.1,551.3 1361.1,551.9 C1361.1,552.6 1361.1,553.3 1361.1,553.9 C1361,554.6 1361.1,555.3 1361,555.9 C1360.9,556.6 1360.8,557.3 1360.6,557.9 C1360.4,558.6 1360.1,559.3 1359.8,559.9 C1359.5,560.6 1359.2,561.3 1358.8,561.9 C1358.5,562.6 1358.1,563.3 1357.6,563.9 C1357.1,564.6 1356.5,565.3 1355.9,565.9 C1355.3,566.6 1354.7,567.3 1354.1,567.9 C1353.5,568.6 1352.9,569.3 1352.2,569.9 C1351.5,570.6 1350.8,571.3 1350.1,571.9 C1349.5,572.6 1348.8,573.3 1348.3,573.9 C1347.7,574.6 1347.3,575.3 1346.8,576 C1346.4,576.6 1346,577.3 1345.5,578 C1345,578.6 1344.5,579.3 1343.9,580 C1343.3,580.6 1342.5,581.3 1341.9,582 C1341.3,582.6 1340.6,583.3 1340.1,584 C1339.6,584.6 1339.2,585.3 1338.7,586 C1338.3,586.6 1337.9,587.3 1337.6,588 C1337.2,588.6 1337,589.3 1336.9,590 C1336.7,590.6 1336.8,591.3 1336.7,592 C1336.7,592.6 1336.6,593.3 1336.6,594 C1336.6,594.6 1336.5,595.3 1336.5,596 C1336.5,596.6 1336.5,597.3 1336.4,598 C1336.4,598.6 1336.4,599.3 1336.4,600 C1336.4,600.6 1336.4,601.3 1336.4,602 C1336.4,602.6 1336.4,603.3 1336.4,604 C1336.4,604.6 1336.4,605.3 1336.4,606 C1336.4,606.6 1336.4,607.3 1336.4,608 C1336.4,608.6 1336.4,609.3 1336.4,610 C1336.4,610.6 1336.4,611.3 1336.5,612 C1336.5,612.6 1336.5,613.3 1336.5,614 C1336.6,614.6 1336.6,615.3 1336.6,616 C1336.6,616.6 1336.7,617.3 1336.7,618 C1336.7,618.6 1336.8,619.3 1336.8,620 C1336.8,620.6 1336.9,621.3 1336.9,622 C1336.9,622.6 1337,623.3 1337,624 C1337.1,624.6 1337.1,625.3 1337.2,626 C1337.2,626.6 1337.3,627.3 1337.3,628 C1337.3,628.6 1337.4,629.3 1337.4,630 C1337.4,630.6 1337.4,631.3 1337.3,632 C1337.3,632.6 1337.2,633.3 1337,634 C1336.9,634.6 1336.7,635.3 1336.5,636 C1336.3,636.6 1336.1,637.3 1335.9,638 C1335.7,638.6 1335.6,639.3 1335.3,640 C1335.1,640.6 1334.8,641.3 1334.5,642 C1334.2,642.6 1333.9,643.3 1333.5,644 C1333.2,644.6 1332.8,645.3 1332.4,646 C1331.9,646.6 1331.4,647.3 1330.8,648 C1330.3,648.6 1329.6,649.3 1329.1,650 C1328.6,650.6 1328.1,651.3 1327.6,652 C1327.2,652.6 1326.7,653.3 1326.3,654 C1325.8,654.6 1325.4,655.3 1325.1,656 C1324.8,656.6 1324.6,657.3 1324.3,658 C1324.1,658.6 1323.9,659.3 1323.7,660 C1323.5,660.6 1323.3,661.3 1323.2,662 C1323,662.6 1322.9,663.3 1322.8,664 C1322.7,664.6 1322.6,665.3 1322.5,666 C1322.4,666.6 1322.3,667.3 1322.2,668 C1322.2,668.6 1322.1,669.3 1322.1,670 C1322.1,670.6 1322.1,671.3 1322.2,672 C1322.3,672.6 1322.4,673.3 1322.6,674 C1322.8,674.7 1322.9,675.3 1323.2,676 C1323.6,676.7 1324.2,677.3 1324.8,678 C1325.4,678.7 1326.1,679.3 1326.8,680 C1327.6,680.7 1328.3,681.3 1329.1,682 C1330,682.7 1331,683.3 1332,684 C1333,684.7 1334,685.3 1335.1,686 C1336.1,686.7 1337.2,687.3 1338.3,688 C1339.5,688.7 1340.7,689.3 1341.8,690 C1343,690.7 1344.2,691.3 1345.3,692 C1346.5,692.7 1347.6,693.3 1348.7,694 C1349.8,694.7 1351,695.3 1352.1,696 C1353.2,696.7 1354.3,697.3 1355.4,698 C1356.5,698.7 1357.7,699.3 1358.8,700 C1359.9,700.7 1361,701.3 1362,702 C1363,702.7 1363.9,703.3 1364.8,704 C1365.7,704.7 1366.5,705.3 1367.3,706 C1368.1,706.7 1368.9,707.3 1369.6,708 C1370.3,708.7 1371,709.3 1371.6,710 C1372.3,710.7 1373,711.3 1373.6,712 C1374.2,712.7 1374.7,713.3 1375.2,714 C1375.6,714.7 1375.9,715.3 1376.2,716 C1376.5,716.7 1376.8,717.3 1377,718 C1377.2,718.7 1377.5,719.3 1377.7,720 C1377.9,720.7 1378.1,721.7 1378.2,722 L1378.2,722 C1378.3,721.7 1378.5,720.7 1378.7,720 C1378.9,719.3 1379.2,718.7 1379.4,718 C1379.6,717.3 1379.9,716.7 1380.2,716 C1380.5,715.3 1380.8,714.7 1381.2,714 C1381.7,713.3 1382.2,712.7 1382.8,712 C1383.4,711.3 1384.1,710.7 1384.8,710 C1385.4,709.3 1386.1,708.7 1386.8,708 C1387.5,707.3 1388.3,706.7 1389.1,706 C1389.9,705.3 1390.7,704.7 1391.6,704 C1392.5,703.3 1393.4,702.7 1394.4,702 C1395.4,701.3 1396.5,700.7 1397.6,700 C1398.7,699.3 1399.9,698.7 1401,698 C1402.1,697.3 1403.2,696.7 1404.3,696 C1405.4,695.3 1406.6,694.7 1407.7,694 C1408.8,693.3 1409.9,692.7 1411.1,692 C1412.2,691.3 1413.4,690.7 1414.6,690 C1415.7,689.3 1416.9,688.7 1418.1,688 C1419.2,687.3 1420.3,686.7 1421.3,686 C1422.4,685.3 1423.4,684.7 1424.4,684 C1425.4,683.3 1426.4,682.7 1427.3,682 C1428.1,681.3 1428.8,680.7 1429.6,680 C1430.3,679.3 1431,678.7 1431.6,678 C1432.2,677.3 1432.8,676.7 1433.2,676 C1433.5,675.3 1433.6,674.7 1433.8,674 C1434,673.3 1434.1,672.6 1434.2,672 C1434.3,671.3 1434.3,670.6 1434.3,670 C1434.3,669.3 1434.2,668.6 1434.2,668 C1434.1,667.3 1434,666.6 1433.9,666 C1433.8,665.3 1433.7,664.6 1433.6,664 C1433.5,663.3 1433.4,662.6 1433.2,662 C1433.1,661.3 1432.9,660.6 1432.7,660 C1432.5,659.3 1432.3,658.6 1432.1,658 C1431.8,657.3 1431.6,656.6 1431.3,656 C1431,655.3 1430.6,654.6 1430.1,654 C1429.7,653.3 1429.2,652.6 1428.8,652 C1428.3,651.3 1427.8,650.6 1427.3,650 C1426.8,649.3 1426.1,648.6 1425.6,648 C1425,647.3 1424.5,646.6 1424,646 C1423.6,645.3 1423.2,644.6 1422.9,644 C1422.5,643.3 1422.2,642.6 1421.9,642 C1421.6,641.3 1421.3,640.6 1421.1,640 C1420.8,639.3 1420.7,638.6 1420.5,638 C1420.3,637.3 1420.1,636.6 1419.9,636 C1419.7,635.3 1419.5,634.6 1419.4,634 C1419.2,633.3 1419.1,632.6 1419.1,632 C1419,631.3 1419,630.6 1419,630 C1419,629.3 1419.1,628.6 1419.1,628 C1419.1,627.3 1419.2,626.6 1419.2,626 C1419.3,625.3 1419.3,624.6 1419.4,624 C1419.4,623.3 1419.5,622.6 1419.5,622 C1419.5,621.3 1419.6,620.6 1419.6,620 C1419.6,619.3 1419.7,618.6 1419.7,618 C1419.7,617.3 1419.8,616.6 1419.8,616 C1419.8,615.3 1419.8,614.6 1419.9,614 C1419.9,613.3 1419.9,612.6 1419.9,612 C1420,611.3 1420,610.6 1420,610 C1420,609.3 1420,608.6 1420,608 C1420,607.3 1420,606.6 1420,606 C1420,605.3 1420,604.6 1420,604 C1420,603.3 1420,602.6 1420,602 C1420,601.3 1420,600.6 1420,600 C1420,599.3 1420,598.6 1420,598 C1419.9,597.3 1419.9,596.6 1419.9,596 C1419.9,595.3 1419.8,594.6 1419.8,594 C1419.8,593.3 1419.7,592.6 1419.7,592 C1419.6,591.3 1419.7,590.6 1419.5,590 C1419.4,589.3 1419.2,588.6 1418.8,588 C1418.5,587.3 1418.1,586.6 1417.7,586 C1417.2,585.3 1416.8,584.6 1416.3,584 C1415.8,583.3 1415.1,582.6 1414.5,582 C1413.9,581.3 1413.1,580.6 1412.5,580 C1411.9,579.3 1411.4,578.6 1410.9,578 C1410.4,577.3 1410,576.6 1409.6,576 C1409.1,575.3 1408.7,574.6 1408.1,573.9 C1407.6,573.3 1406.9,572.6 1406.3,571.9 C1405.6,571.3 1404.9,570.6 1404.2,569.9 C1403.5,569.3 1402.9,568.6 1402.3,567.9 C1401.7,567.3 1401.1,566.6 1400.5,565.9 C1399.9,565.3 1399.3,564.6 1398.8,563.9 C1398.3,563.3 1397.9,562.6 1397.6,561.9 C1397.2,561.3 1396.9,560.6 1396.6,559.9 C1396.3,559.3 1396,558.6 1395.8,557.9 C1395.6,557.3 1395.5,556.6 1395.4,555.9 C1395.3,555.3 1395.4,554.6 1395.3,553.9 C1395.3,553.3 1395.3,552.6 1395.3,551.9 C1395.3,551.3 1395.3,550.6 1395.3,549.9 C1395.2,549.3 1395.2,548.6 1395.3,547.9 C1395.3,547.3 1395.3,546.6 1395.3,545.9 C1395.3,545.3 1395.4,544.6 1395.4,543.9 C1395.5,543.3 1395.5,542.6 1395.6,541.9 C1395.6,541.3 1395.7,540.6 1395.8,539.9 C1395.9,539.3 1395.9,538.6 1396,537.9 C1396.1,537.3 1396.1,536.6 1396.2,535.9 C1396.3,535.3 1396.4,534.6 1396.4,533.9 C1396.5,533.3 1396.6,532.6 1396.6,531.9 C1396.7,531.3 1396.8,530.6 1396.8,529.9 C1396.9,529.3 1397,528.6 1397,527.9 C1397.1,527.3 1397.2,526.6 1397.2,525.9 C1397.3,525.3 1397.3,524.6 1397.4,523.9 C1397.5,523.3 1397.6,522.6 1397.6,521.9 C1397.7,521.3 1397.8,520.6 1397.9,519.9 C1398,519.3 1398.1,518.6 1398.1,517.9 C1398.2,517.3 1398.3,516.6 1398.4,515.9 C1398.4,515.3 1398.4,514.6 1398.5,513.9 C1398.5,513.3 1398.4,512.6 1398.4,511.9 C1398.4,511.3 1398.3,510.6 1398.2,509.9 C1398.2,509.3 1398.1,508.6 1398,507.9 C1398,507.3 1397.9,506.6 1397.7,505.9 C1397.6,505.3 1397.5,504.6 1397.3,503.9 C1397.1,503.3 1397,502.6 1396.8,501.9 C1396.6,501.3 1396.4,500.6 1396.2,499.9 C1396,499.3 1395.8,498.6 1395.6,497.9 C1395.4,497.3 1395.1,496.6 1394.9,495.9 C1394.6,495.3 1394.4,494.6 1394.1,493.9 C1393.8,493.3 1393.6,492.6 1393.3,491.9 C1393.1,491.3 1392.8,490.6 1392.5,489.9 C1392.2,489.3 1392,488.6 1391.7,487.9 C1391.4,487.3 1391.1,486.6 1390.8,485.9 C1390.6,485.3 1390.3,484.6 1390,483.9 C1389.7,483.3 1389.4,482.6 1389.1,481.9 C1388.8,481.3 1388.5,480.6 1388.2,479.9 C1387.9,479.3 1387.6,478.6 1387.3,477.9 C1387,477.3 1386.7,476.6 1386.4,475.9 C1386.1,475.2 1385.8,474.6 1385.5,473.9 C1385.2,473.2 1384.9,472.6 1384.7,471.9 C1384.4,471.2 1384.1,470.6 1383.8,469.9 C1383.6,469.2 1383.3,468.6 1383.1,467.9 C1382.8,467.2 1382.6,466.6 1382.4,465.9 C1382.2,465.2 1382,464.6 1381.8,463.9 C1381.6,463.2 1381.4,462.6 1381.2,461.9 C1381,461.2 1380.8,460.6 1380.7,459.9 C1380.5,459.2 1380.3,458.6 1380.2,457.9 C1380,457.2 1379.9,456.6 1379.8,455.9 C1379.6,455.2 1379.5,454.6 1379.4,453.9 C1379.2,453.2 1379.1,452.6 1379,451.9 C1378.9,451.2 1378.8,450.6 1378.7,449.9 C1378.6,449.2 1378.5,448.6 1378.5,447.9 C1378.4,447.2 1378.4,446.6 1378.3,445.9 C1378.3,445.2 1378.2,444.6 1378.2,443.9 C1378.2,443.2 1378.2,442.6 1378.2,441.9 C1378.2,441.2 1378.2,440.6 1378.2,439.9 C1378.2,439.2 1378.2,438.6 1378.2,437.9 C1378.2,437.2 1378.2,436.6 1378.2,435.9 C1378.2,435.2 1378.2,434.6 1378.2,433.9 C1378.2,433.2 1378.2,432.6 1378.2,431.9 C1378.2,431.2 1378.2,430.6 1378.2,429.9 C1378.2,429.2 1378.2,428.2 1378.2,427.9" fill="#fdbcde" stroke="#cc0066" stroke-width="3" stroke-linejoin="round" stroke-linecap="butt"/>
<line x1="1345.7" y1="579.3" x2="1410.7" y2="579.3" stroke="#ff0000" stroke-width="3"/>
<line x1="1338" y1="620.1" x2="1418.4" y2="620.1" stroke="#000" stroke-width="3"/>
<line x1="1324" y1="664" x2="1432.4" y2="664" stroke="#ff0000" stroke-width="3"/>
<path d="M1378.2,722 L1378.2,736" fill="none" stroke="#cc0066" stroke-width="3" stroke-linecap="round"/>
<path d="M1378.2,427.9 L1378.2,427.9" fill="none" stroke="#cc0066" stroke-width="3" stroke-linecap="round"/>
<path d="M251.9,53.8 L602,53.8 M251.9,132.4 L427,132.4 M427,189.5 L602,189.5" stroke="#000" stroke-width="2" fill="none"/>
<path d="M1027.9,53.8 L1378,53.8 M1027.9,135.2 L1203,135.2 M1203,192 L1378,192" stroke="#000" stroke-width="2" fill="none"/>
<text x="426.8" y="27" class="pv" text-anchor="middle" textLength="132.4">&gt;0.9999</text>
<text x="338.5" y="106" class="pv" text-anchor="middle" textLength="131.2">&gt;0.9999</text>
<text x="513.8" y="162.5" class="pv" text-anchor="middle" textLength="131.6">&gt;0.9999</text>
<text x="1203.5" y="27" class="pv" text-anchor="middle" textLength="104">0.1474</text>
<text x="1115.3" y="106" class="pv b" text-anchor="middle" textLength="104">0.0227</text>
<text x="1289.8" y="165" class="pv" text-anchor="middle" textLength="131.6">&gt;0.9999</text>
<text x="104.3" y="185.4" class="tl" text-anchor="end">40</text>
<text x="104.1" y="258" class="tl" text-anchor="end">30</text>
<text x="104.1" y="332.2" class="tl" text-anchor="end">20</text>
<text x="104.1" y="405.4" class="tl" text-anchor="end">10</text>
<text x="103.5" y="480.5" class="tl" text-anchor="end">8</text>
<text x="103.1" y="598.3" class="tl" text-anchor="end">4</text>
<text x="104.3" y="717.1" class="tl" text-anchor="end">0</text>
<text x="880.3" y="186.9" class="tl" text-anchor="end">40</text>
<text x="880.1" y="260.9" class="tl" text-anchor="end">30</text>
<text x="880.1" y="334.1" class="tl" text-anchor="end">20</text>
<text x="880.1" y="406.9" class="tl" text-anchor="end">10</text>
<text x="879.5" y="483" class="tl" text-anchor="end">8</text>
<text x="879.1" y="600.8" class="tl" text-anchor="end">4</text>
<text x="880.3" y="719.6" class="tl" text-anchor="end">0</text>
<text x="252.5" y="862" class="xl" text-anchor="middle">En</text>
<text x="427" y="862" class="xl" text-anchor="middle">Em</text>
<text x="602.3" y="862" class="xl" text-anchor="middle">NE</text>
<text x="1028.8" y="864.5" class="xl" text-anchor="middle">En</text>
<text x="1202.9" y="864.5" class="xl" text-anchor="middle">Em</text>
<text x="1378.4" y="864.5" class="xl" text-anchor="middle">NE</text>
<text x="427.7" y="927" class="pl" text-anchor="middle">a</text>
<text x="1205" y="928.8" class="pl" text-anchor="middle">b</text>
<text transform="translate(29.9,709) rotate(-90)" class="yt" textLength="481.4">Urinary NGAL / (ng/mgCr)</text>
<text transform="translate(807.5,710) rotate(-90)" class="yt" textLength="479.2">Urinary NGAL / (ng/mgCr)</text>
</svg>
</body></html>
